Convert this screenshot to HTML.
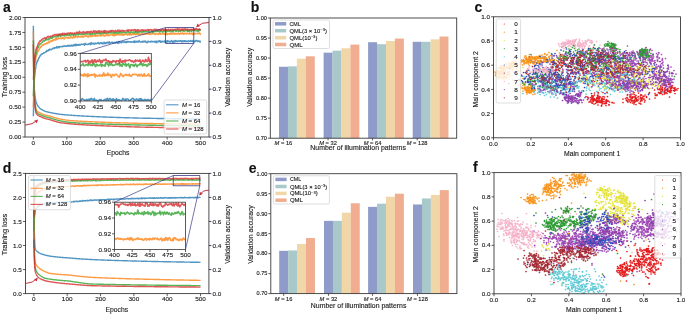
<!DOCTYPE html>
<html><head><meta charset="utf-8"><style>
html,body{margin:0;padding:0;background:#fff;}
body{width:685px;height:314px;overflow:hidden;}
svg{display:block;will-change:transform;font-family:"Liberation Sans", sans-serif;}
text{stroke:#1a1a1a;stroke-width:0.12px;}
</style></head><body>
<svg width="685" height="314" viewBox="0 0 685 314">
<rect width="685" height="314" fill="#fff"/>
<text x="3" y="12.1" font-size="14" font-weight="bold" fill="#111">a</text>
<text x="250.8" y="11.6" font-size="14" font-weight="bold" fill="#111">b</text>
<text x="474.5" y="12.2" font-size="14" font-weight="bold" fill="#111">c</text>
<text x="2.8" y="172.8" font-size="14" font-weight="bold" fill="#111">d</text>
<text x="248.7" y="172.7" font-size="14" font-weight="bold" fill="#111">e</text>
<text x="473" y="172.2" font-size="14" font-weight="bold" fill="#111">f</text>
<g clip-path="url(#clipa)">
<defs><clipPath id="clipa"><rect x="25" y="17.5" width="184" height="119.5"/></clipPath></defs>
<path d="M33.36 25.86 L33.7 65.3 L34.03 79.28 L34.37 89.2 L34.7 93.15 L35.04 96.37 L35.37 98.41 L35.71 100.19 L36.04 101.75 L36.37 102.67 L36.71 103.51 L37.04 104.27 L37.38 104.97 L37.71 105.62 L38.05 106.23 L38.38 106.63 L38.72 107.01 L39.05 107.36 L39.39 107.7 L39.72 108.02 L40.05 108.32 L40.39 108.58 L40.72 108.82 L41.06 109.06 L41.39 109.29 L41.73 109.5 L42.06 109.71 L42.4 109.91 L42.73 110.11 L43.07 110.3 L43.4 110.48 L43.73 110.65 L44.07 110.83 L44.4 110.99 L44.74 111.15 L45.07 111.31 L45.41 111.4 L45.74 111.49 L46.08 111.58 L46.41 111.67 L46.75 111.75 L47.08 111.84 L47.41 111.92 L47.75 112 L48.08 112.07 L48.42 112.15 L48.75 112.22 L49.09 112.29 L49.42 112.37 L49.76 112.43 L50.09 112.5 L50.43 112.58 L50.76 112.65 L51.09 112.72 L51.43 112.8 L51.76 112.86 L52.1 112.93 L52.43 113 L52.77 113.07 L53.1 113.13 L53.44 113.2 L53.77 113.26 L54.11 113.32 L54.44 113.38 L54.77 113.44 L55.11 113.5 L55.44 113.56 L55.78 113.62 L56.11 113.67 L56.45 113.73 L56.78 113.78 L57.12 113.84 L57.45 113.89 L57.79 113.94 L58.12 114 L58.45 114.05 L58.79 114.1 L59.12 114.15 L59.46 114.2 L59.79 114.25 L60.13 114.3 L60.46 114.33 L60.8 114.36 L61.13 114.4 L61.47 114.43 L61.8 114.47 L62.13 114.5 L62.47 114.53 L62.8 114.56 L63.14 114.59 L63.47 114.63 L63.81 114.66 L64.14 114.69 L64.48 114.72 L64.81 114.75 L65.15 114.78 L65.48 114.81 L65.81 114.84 L66.15 114.87 L66.48 114.89 L66.82 114.92 L67.15 114.95 L67.49 114.98 L67.82 115.01 L68.16 115.03 L68.49 115.06 L68.83 115.09 L69.16 115.11 L69.49 115.14 L69.83 115.17 L70.16 115.19 L70.5 115.22 L70.83 115.24 L71.17 115.26 L71.5 115.29 L71.84 115.31 L72.17 115.34 L72.51 115.36 L72.84 115.38 L73.17 115.41 L73.51 115.43 L73.84 115.45 L74.18 115.48 L74.51 115.5 L74.85 115.52 L75.18 115.54 L75.52 115.56 L75.85 115.59 L76.19 115.61 L76.52 115.63 L76.85 115.65 L77.19 115.67 L77.52 115.69 L77.86 115.71 L78.19 115.73 L78.53 115.75 L78.86 115.77 L79.2 115.79 L79.53 115.81 L79.87 115.83 L80.2 115.85 L80.53 115.87 L80.87 115.89 L81.2 115.91 L81.54 115.93 L81.87 115.95 L82.21 115.97 L82.54 115.99 L82.88 116.01 L83.21 116.02 L83.55 116.04 L83.88 116.06 L84.21 116.08 L84.55 116.1 L84.88 116.11 L85.22 116.13 L85.55 116.15 L85.89 116.17 L86.22 116.18 L86.56 116.2 L86.89 116.22 L87.23 116.24 L87.56 116.25 L87.89 116.27 L88.23 116.29 L88.56 116.3 L88.9 116.32 L89.23 116.34 L89.57 116.35 L89.9 116.37 L90.24 116.39 L90.57 116.4 L90.91 116.42 L91.24 116.43 L91.57 116.45 L91.91 116.47 L92.24 116.48 L92.58 116.5 L92.91 116.51 L93.25 116.53 L93.58 116.54 L93.92 116.56 L94.25 116.57 L94.59 116.59 L94.92 116.6 L95.25 116.62 L95.59 116.63 L95.92 116.65 L96.26 116.66 L96.59 116.68 L96.93 116.69 L97.26 116.71 L97.6 116.72 L97.93 116.74 L98.27 116.75 L98.6 116.76 L98.93 116.78 L99.27 116.79 L99.6 116.81 L99.94 116.82 L100.27 116.83 L100.61 116.85 L100.94 116.86 L101.28 116.87 L101.61 116.89 L101.95 116.9 L102.28 116.91 L102.61 116.93 L102.95 116.94 L103.28 116.95 L103.62 116.97 L103.95 116.98 L104.29 116.99 L104.62 117.01 L104.96 117.02 L105.29 117.03 L105.63 117.04 L105.96 117.06 L106.29 117.07 L106.63 117.08 L106.96 117.1 L107.3 117.11 L107.63 117.12 L107.97 117.13 L108.3 117.15 L108.64 117.16 L108.97 117.17 L109.31 117.18 L109.64 117.19 L109.97 117.21 L110.31 117.22 L110.64 117.23 L110.98 117.24 L111.31 117.25 L111.65 117.27 L111.98 117.28 L112.32 117.29 L112.65 117.3 L112.99 117.31 L113.32 117.32 L113.65 117.34 L113.99 117.35 L114.32 117.36 L114.66 117.37 L114.99 117.38 L115.33 117.39 L115.66 117.4 L116 117.41 L116.33 117.43 L116.67 117.44 L117 117.45 L117.33 117.46 L117.67 117.47 L118 117.48 L118.34 117.49 L118.67 117.5 L119.01 117.51 L119.34 117.52 L119.68 117.53 L120.01 117.54 L120.35 117.56 L120.68 117.57 L121.01 117.58 L121.35 117.59 L121.68 117.6 L122.02 117.61 L122.35 117.62 L122.69 117.63 L123.02 117.64 L123.36 117.65 L123.69 117.66 L124.03 117.67 L124.36 117.68 L124.69 117.69 L125.03 117.7 L125.36 117.71 L125.7 117.72 L126.03 117.73 L126.37 117.74 L126.7 117.75 L127.04 117.76 L127.37 117.77 L127.71 117.78 L128.04 117.79 L128.37 117.8 L128.71 117.81 L129.04 117.82 L129.38 117.83 L129.71 117.84 L130.05 117.85 L130.38 117.86 L130.72 117.87 L131.05 117.88 L131.39 117.88 L131.72 117.89 L132.05 117.9 L132.39 117.91 L132.72 117.92 L133.06 117.93 L133.39 117.94 L133.73 117.95 L134.06 117.96 L134.4 117.97 L134.73 117.98 L135.07 117.99 L135.4 118 L135.73 118 L136.07 118.01 L136.4 118.02 L136.74 118.03 L137.07 118.04 L137.41 118.05 L137.74 118.06 L138.08 118.07 L138.41 118.08 L138.75 118.08 L139.08 118.09 L139.41 118.1 L139.75 118.11 L140.08 118.12 L140.42 118.13 L140.75 118.13 L141.09 118.14 L141.42 118.15 L141.76 118.15 L142.09 118.16 L142.43 118.17 L142.76 118.17 L143.09 118.18 L143.43 118.18 L143.76 118.19 L144.1 118.2 L144.43 118.2 L144.77 118.21 L145.1 118.22 L145.44 118.22 L145.77 118.23 L146.11 118.24 L146.44 118.24 L146.77 118.25 L147.11 118.25 L147.44 118.26 L147.78 118.27 L148.11 118.27 L148.45 118.28 L148.78 118.29 L149.12 118.29 L149.45 118.3 L149.79 118.3 L150.12 118.31 L150.45 118.32 L150.79 118.32 L151.12 118.33 L151.46 118.33 L151.79 118.34 L152.13 118.35 L152.46 118.35 L152.8 118.36 L153.13 118.36 L153.47 118.37 L153.8 118.38 L154.13 118.38 L154.47 118.39 L154.8 118.39 L155.14 118.4 L155.47 118.41 L155.81 118.41 L156.14 118.42 L156.48 118.42 L156.81 118.43 L157.15 118.43 L157.48 118.44 L157.81 118.45 L158.15 118.45 L158.48 118.46 L158.82 118.46 L159.15 118.47 L159.49 118.47 L159.82 118.48 L160.16 118.49 L160.49 118.49 L160.83 118.5 L161.16 118.5 L161.49 118.51 L161.83 118.51 L162.16 118.52 L162.5 118.52 L162.83 118.53 L163.17 118.54 L163.5 118.54 L163.84 118.55 L164.17 118.55 L164.51 118.56 L164.84 118.56 L165.17 118.57 L165.51 118.57 L165.84 118.58 L166.18 118.58 L166.51 118.59 L166.85 118.59 L167.18 118.6 L167.52 118.61 L167.85 118.61 L168.19 118.62 L168.52 118.62 L168.85 118.63 L169.19 118.63 L169.52 118.64 L169.86 118.64 L170.19 118.65 L170.53 118.65 L170.86 118.66 L171.2 118.66 L171.53 118.67 L171.87 118.67 L172.2 118.68 L172.53 118.68 L172.87 118.69 L173.2 118.69 L173.54 118.7 L173.87 118.7 L174.21 118.71 L174.54 118.71 L174.88 118.72 L175.21 118.72 L175.55 118.73 L175.88 118.73 L176.21 118.74 L176.55 118.74 L176.88 118.75 L177.22 118.75 L177.55 118.76 L177.89 118.76 L178.22 118.77 L178.56 118.77 L178.89 118.78 L179.23 118.78 L179.56 118.79 L179.89 118.79 L180.23 118.8 L180.56 118.8 L180.9 118.81 L181.23 118.81 L181.57 118.82 L181.9 118.82 L182.24 118.83 L182.57 118.83 L182.91 118.84 L183.24 118.84 L183.57 118.85 L183.91 118.85 L184.24 118.86 L184.58 118.86 L184.91 118.86 L185.25 118.87 L185.58 118.87 L185.92 118.88 L186.25 118.88 L186.59 118.89 L186.92 118.89 L187.25 118.9 L187.59 118.9 L187.92 118.91 L188.26 118.91 L188.59 118.92 L188.93 118.92 L189.26 118.93 L189.6 118.93 L189.93 118.93 L190.27 118.94 L190.6 118.94 L190.93 118.95 L191.27 118.95 L191.6 118.96 L191.94 118.96 L192.27 118.97 L192.61 118.97 L192.94 118.97 L193.28 118.98 L193.61 118.98 L193.95 118.99 L194.28 118.99 L194.61 119 L194.95 119 L195.28 119.01 L195.62 119.01 L195.95 119.01 L196.29 119.02 L196.62 119.02 L196.96 119.03 L197.29 119.03 L197.63 119.04 L197.96 119.04 L198.29 119.04 L198.63 119.05 L198.96 119.05 L199.3 119.06 L199.63 119.06 L199.97 119.07 L200.3 119.07 L200.64 119.08" fill="none" stroke="#1f77b4" stroke-width="1.4" stroke-opacity="0.78" stroke-linejoin="round" />
<path d="M33.36 31.24 L33.7 71.27 L34.03 84.56 L34.37 93.98 L34.7 98.58 L35.04 102.34 L35.37 105.07 L35.71 107.43 L36.04 109.52 L36.37 110.01 L36.71 110.45 L37.04 110.86 L37.38 111.24 L37.71 111.58 L38.05 111.91 L38.38 112.08 L38.72 112.24 L39.05 112.39 L39.39 112.53 L39.72 112.67 L40.05 112.8 L40.39 113 L40.72 113.18 L41.06 113.36 L41.39 113.54 L41.73 113.7 L42.06 113.86 L42.4 114.01 L42.73 114.16 L43.07 114.3 L43.4 114.44 L43.73 114.58 L44.07 114.71 L44.4 114.83 L44.74 114.95 L45.07 115.07 L45.41 115.15 L45.74 115.23 L46.08 115.31 L46.41 115.38 L46.75 115.45 L47.08 115.52 L47.41 115.59 L47.75 115.66 L48.08 115.72 L48.42 115.79 L48.75 115.85 L49.09 115.91 L49.42 115.97 L49.76 116.03 L50.09 116.09 L50.43 116.21 L50.76 116.34 L51.09 116.46 L51.43 116.58 L51.76 116.69 L52.1 116.81 L52.43 116.92 L52.77 117.03 L53.1 117.14 L53.44 117.24 L53.77 117.35 L54.11 117.45 L54.44 117.55 L54.77 117.65 L55.11 117.75 L55.44 117.85 L55.78 117.95 L56.11 118.04 L56.45 118.13 L56.78 118.22 L57.12 118.31 L57.45 118.4 L57.79 118.49 L58.12 118.58 L58.45 118.66 L58.79 118.75 L59.12 118.83 L59.46 118.91 L59.79 118.99 L60.13 119.08 L60.46 119.13 L60.8 119.19 L61.13 119.25 L61.47 119.3 L61.8 119.36 L62.13 119.41 L62.47 119.47 L62.8 119.52 L63.14 119.57 L63.47 119.63 L63.81 119.68 L64.14 119.73 L64.48 119.78 L64.81 119.83 L65.15 119.88 L65.48 119.93 L65.81 119.98 L66.15 120.03 L66.48 120.07 L66.82 120.12 L67.15 120.17 L67.49 120.21 L67.82 120.26 L68.16 120.31 L68.49 120.35 L68.83 120.39 L69.16 120.44 L69.49 120.48 L69.83 120.53 L70.16 120.57 L70.5 120.59 L70.83 120.62 L71.17 120.64 L71.5 120.66 L71.84 120.69 L72.17 120.71 L72.51 120.73 L72.84 120.75 L73.17 120.78 L73.51 120.8 L73.84 120.82 L74.18 120.84 L74.51 120.86 L74.85 120.88 L75.18 120.9 L75.52 120.93 L75.85 120.95 L76.19 120.97 L76.52 120.99 L76.85 121.01 L77.19 121.03 L77.52 121.05 L77.86 121.07 L78.19 121.09 L78.53 121.11 L78.86 121.13 L79.2 121.15 L79.53 121.17 L79.87 121.18 L80.2 121.2 L80.53 121.22 L80.87 121.24 L81.2 121.26 L81.54 121.28 L81.87 121.3 L82.21 121.31 L82.54 121.33 L82.88 121.35 L83.21 121.37 L83.55 121.38 L83.88 121.4 L84.21 121.42 L84.55 121.44 L84.88 121.45 L85.22 121.47 L85.55 121.49 L85.89 121.51 L86.22 121.52 L86.56 121.54 L86.89 121.56 L87.23 121.57 L87.56 121.59 L87.89 121.6 L88.23 121.62 L88.56 121.64 L88.9 121.65 L89.23 121.67 L89.57 121.68 L89.9 121.7 L90.24 121.71 L90.57 121.73 L90.91 121.75 L91.24 121.76 L91.57 121.78 L91.91 121.79 L92.24 121.81 L92.58 121.82 L92.91 121.84 L93.25 121.85 L93.58 121.87 L93.92 121.88 L94.25 121.89 L94.59 121.91 L94.92 121.92 L95.25 121.94 L95.59 121.95 L95.92 121.97 L96.26 121.98 L96.59 121.99 L96.93 122.01 L97.26 122.02 L97.6 122.04 L97.93 122.05 L98.27 122.06 L98.6 122.08 L98.93 122.09 L99.27 122.1 L99.6 122.12 L99.94 122.13 L100.27 122.14 L100.61 122.16 L100.94 122.17 L101.28 122.18 L101.61 122.2 L101.95 122.21 L102.28 122.22 L102.61 122.23 L102.95 122.25 L103.28 122.26 L103.62 122.27 L103.95 122.28 L104.29 122.3 L104.62 122.31 L104.96 122.32 L105.29 122.33 L105.63 122.35 L105.96 122.36 L106.29 122.37 L106.63 122.38 L106.96 122.4 L107.3 122.41 L107.63 122.42 L107.97 122.43 L108.3 122.44 L108.64 122.45 L108.97 122.47 L109.31 122.48 L109.64 122.49 L109.97 122.5 L110.31 122.51 L110.64 122.52 L110.98 122.54 L111.31 122.55 L111.65 122.56 L111.98 122.57 L112.32 122.58 L112.65 122.59 L112.99 122.6 L113.32 122.61 L113.65 122.63 L113.99 122.64 L114.32 122.65 L114.66 122.66 L114.99 122.67 L115.33 122.68 L115.66 122.69 L116 122.7 L116.33 122.71 L116.67 122.72 L117 122.73 L117.33 122.74 L117.67 122.75 L118 122.76 L118.34 122.77 L118.67 122.79 L119.01 122.8 L119.34 122.81 L119.68 122.82 L120.01 122.83 L120.35 122.84 L120.68 122.85 L121.01 122.86 L121.35 122.87 L121.68 122.88 L122.02 122.89 L122.35 122.9 L122.69 122.91 L123.02 122.92 L123.36 122.93 L123.69 122.94 L124.03 122.95 L124.36 122.96 L124.69 122.97 L125.03 122.98 L125.36 122.98 L125.7 122.99 L126.03 123 L126.37 123.01 L126.7 123.02 L127.04 123.03 L127.37 123.04 L127.71 123.05 L128.04 123.06 L128.37 123.07 L128.71 123.08 L129.04 123.09 L129.38 123.1 L129.71 123.11 L130.05 123.12 L130.38 123.13 L130.72 123.13 L131.05 123.14 L131.39 123.15 L131.72 123.16 L132.05 123.17 L132.39 123.18 L132.72 123.19 L133.06 123.2 L133.39 123.21 L133.73 123.21 L134.06 123.22 L134.4 123.23 L134.73 123.24 L135.07 123.25 L135.4 123.26 L135.73 123.27 L136.07 123.28 L136.4 123.28 L136.74 123.29 L137.07 123.3 L137.41 123.31 L137.74 123.32 L138.08 123.33 L138.41 123.34 L138.75 123.34 L139.08 123.35 L139.41 123.36 L139.75 123.37 L140.08 123.38 L140.42 123.38 L140.75 123.39 L141.09 123.39 L141.42 123.4 L141.76 123.4 L142.09 123.41 L142.43 123.41 L142.76 123.42 L143.09 123.43 L143.43 123.43 L143.76 123.44 L144.1 123.44 L144.43 123.45 L144.77 123.45 L145.1 123.46 L145.44 123.46 L145.77 123.47 L146.11 123.47 L146.44 123.48 L146.77 123.48 L147.11 123.49 L147.44 123.49 L147.78 123.5 L148.11 123.5 L148.45 123.51 L148.78 123.51 L149.12 123.52 L149.45 123.52 L149.79 123.53 L150.12 123.53 L150.45 123.54 L150.79 123.54 L151.12 123.55 L151.46 123.55 L151.79 123.56 L152.13 123.56 L152.46 123.57 L152.8 123.57 L153.13 123.58 L153.47 123.58 L153.8 123.59 L154.13 123.59 L154.47 123.6 L154.8 123.6 L155.14 123.6 L155.47 123.61 L155.81 123.61 L156.14 123.62 L156.48 123.62 L156.81 123.63 L157.15 123.63 L157.48 123.64 L157.81 123.64 L158.15 123.65 L158.48 123.65 L158.82 123.66 L159.15 123.66 L159.49 123.67 L159.82 123.67 L160.16 123.67 L160.49 123.68 L160.83 123.68 L161.16 123.69 L161.49 123.69 L161.83 123.7 L162.16 123.7 L162.5 123.71 L162.83 123.71 L163.17 123.72 L163.5 123.72 L163.84 123.72 L164.17 123.73 L164.51 123.73 L164.84 123.74 L165.17 123.74 L165.51 123.75 L165.84 123.75 L166.18 123.75 L166.51 123.76 L166.85 123.76 L167.18 123.77 L167.52 123.77 L167.85 123.78 L168.19 123.78 L168.52 123.79 L168.85 123.79 L169.19 123.79 L169.52 123.8 L169.86 123.8 L170.19 123.81 L170.53 123.81 L170.86 123.81 L171.2 123.82 L171.53 123.82 L171.87 123.83 L172.2 123.83 L172.53 123.84 L172.87 123.84 L173.2 123.84 L173.54 123.85 L173.87 123.85 L174.21 123.86 L174.54 123.86 L174.88 123.86 L175.21 123.87 L175.55 123.87 L175.88 123.88 L176.21 123.88 L176.55 123.88 L176.88 123.89 L177.22 123.89 L177.55 123.9 L177.89 123.9 L178.22 123.9 L178.56 123.91 L178.89 123.91 L179.23 123.92 L179.56 123.92 L179.89 123.92 L180.23 123.93 L180.56 123.93 L180.9 123.94 L181.23 123.94 L181.57 123.94 L181.9 123.95 L182.24 123.95 L182.57 123.96 L182.91 123.96 L183.24 123.96 L183.57 123.97 L183.91 123.97 L184.24 123.98 L184.58 123.98 L184.91 123.98 L185.25 123.99 L185.58 123.99 L185.92 123.99 L186.25 124 L186.59 124 L186.92 124.01 L187.25 124.01 L187.59 124.01 L187.92 124.02 L188.26 124.02 L188.59 124.02 L188.93 124.03 L189.26 124.03 L189.6 124.04 L189.93 124.04 L190.27 124.04 L190.6 124.05 L190.93 124.05 L191.27 124.05 L191.6 124.06 L191.94 124.06 L192.27 124.07 L192.61 124.07 L192.94 124.07 L193.28 124.08 L193.61 124.08 L193.95 124.08 L194.28 124.09 L194.61 124.09 L194.95 124.09 L195.28 124.1 L195.62 124.1 L195.95 124.1 L196.29 124.11 L196.62 124.11 L196.96 124.12 L197.29 124.12 L197.63 124.12 L197.96 124.13 L198.29 124.13 L198.63 124.13 L198.96 124.14 L199.3 124.14 L199.63 124.14 L199.97 124.15 L200.3 124.15 L200.64 124.15" fill="none" stroke="#ff7f0e" stroke-width="1.4" stroke-opacity="0.78" stroke-linejoin="round" />
<path d="M33.36 40.2 L33.7 77.25 L34.03 89.13 L34.37 97.56 L34.7 101.51 L35.04 104.73 L35.37 107.23 L35.71 109.4 L36.04 111.31 L36.37 111.8 L36.71 112.25 L37.04 112.65 L37.38 113.03 L37.71 113.37 L38.05 113.7 L38.38 113.87 L38.72 114.03 L39.05 114.18 L39.39 114.33 L39.72 114.46 L40.05 114.59 L40.39 114.77 L40.72 114.95 L41.06 115.11 L41.39 115.27 L41.73 115.42 L42.06 115.57 L42.4 115.71 L42.73 115.85 L43.07 115.98 L43.4 116.1 L43.73 116.23 L44.07 116.35 L44.4 116.46 L44.74 116.58 L45.07 116.69 L45.41 116.78 L45.74 116.87 L46.08 116.96 L46.41 117.05 L46.75 117.13 L47.08 117.21 L47.41 117.29 L47.75 117.37 L48.08 117.45 L48.42 117.53 L48.75 117.6 L49.09 117.67 L49.42 117.74 L49.76 117.81 L50.09 117.88 L50.43 118.01 L50.76 118.13 L51.09 118.25 L51.43 118.37 L51.76 118.48 L52.1 118.6 L52.43 118.71 L52.77 118.82 L53.1 118.93 L53.44 119.04 L53.77 119.14 L54.11 119.24 L54.44 119.35 L54.77 119.45 L55.11 119.54 L55.44 119.64 L55.78 119.74 L56.11 119.83 L56.45 119.92 L56.78 120.02 L57.12 120.11 L57.45 120.2 L57.79 120.28 L58.12 120.37 L58.45 120.46 L58.79 120.54 L59.12 120.62 L59.46 120.71 L59.79 120.79 L60.13 120.87 L60.46 120.93 L60.8 120.99 L61.13 121.05 L61.47 121.11 L61.8 121.17 L62.13 121.23 L62.47 121.29 L62.8 121.35 L63.14 121.41 L63.47 121.46 L63.81 121.52 L64.14 121.57 L64.48 121.63 L64.81 121.68 L65.15 121.74 L65.48 121.79 L65.81 121.84 L66.15 121.89 L66.48 121.95 L66.82 122 L67.15 122.05 L67.49 122.1 L67.82 122.15 L68.16 122.2 L68.49 122.24 L68.83 122.29 L69.16 122.34 L69.49 122.39 L69.83 122.43 L70.16 122.48 L70.5 122.5 L70.83 122.52 L71.17 122.55 L71.5 122.57 L71.84 122.59 L72.17 122.61 L72.51 122.63 L72.84 122.65 L73.17 122.67 L73.51 122.69 L73.84 122.71 L74.18 122.73 L74.51 122.75 L74.85 122.77 L75.18 122.79 L75.52 122.81 L75.85 122.83 L76.19 122.85 L76.52 122.86 L76.85 122.88 L77.19 122.9 L77.52 122.92 L77.86 122.94 L78.19 122.96 L78.53 122.97 L78.86 122.99 L79.2 123.01 L79.53 123.03 L79.87 123.04 L80.2 123.06 L80.53 123.08 L80.87 123.1 L81.2 123.11 L81.54 123.13 L81.87 123.15 L82.21 123.16 L82.54 123.18 L82.88 123.2 L83.21 123.21 L83.55 123.23 L83.88 123.24 L84.21 123.26 L84.55 123.28 L84.88 123.29 L85.22 123.31 L85.55 123.32 L85.89 123.34 L86.22 123.35 L86.56 123.37 L86.89 123.38 L87.23 123.4 L87.56 123.41 L87.89 123.43 L88.23 123.44 L88.56 123.46 L88.9 123.47 L89.23 123.49 L89.57 123.5 L89.9 123.52 L90.24 123.53 L90.57 123.54 L90.91 123.56 L91.24 123.57 L91.57 123.59 L91.91 123.6 L92.24 123.61 L92.58 123.63 L92.91 123.64 L93.25 123.65 L93.58 123.67 L93.92 123.68 L94.25 123.69 L94.59 123.71 L94.92 123.72 L95.25 123.73 L95.59 123.75 L95.92 123.76 L96.26 123.77 L96.59 123.79 L96.93 123.8 L97.26 123.81 L97.6 123.82 L97.93 123.84 L98.27 123.85 L98.6 123.86 L98.93 123.87 L99.27 123.89 L99.6 123.9 L99.94 123.91 L100.27 123.92 L100.61 123.93 L100.94 123.95 L101.28 123.96 L101.61 123.97 L101.95 123.98 L102.28 123.99 L102.61 124 L102.95 124.02 L103.28 124.03 L103.62 124.04 L103.95 124.05 L104.29 124.06 L104.62 124.07 L104.96 124.08 L105.29 124.1 L105.63 124.11 L105.96 124.12 L106.29 124.13 L106.63 124.14 L106.96 124.15 L107.3 124.16 L107.63 124.17 L107.97 124.18 L108.3 124.2 L108.64 124.21 L108.97 124.22 L109.31 124.23 L109.64 124.24 L109.97 124.25 L110.31 124.26 L110.64 124.27 L110.98 124.28 L111.31 124.29 L111.65 124.3 L111.98 124.31 L112.32 124.32 L112.65 124.33 L112.99 124.34 L113.32 124.35 L113.65 124.36 L113.99 124.37 L114.32 124.38 L114.66 124.39 L114.99 124.4 L115.33 124.41 L115.66 124.42 L116 124.43 L116.33 124.44 L116.67 124.45 L117 124.46 L117.33 124.47 L117.67 124.48 L118 124.49 L118.34 124.5 L118.67 124.51 L119.01 124.52 L119.34 124.53 L119.68 124.54 L120.01 124.55 L120.35 124.56 L120.68 124.56 L121.01 124.57 L121.35 124.58 L121.68 124.59 L122.02 124.6 L122.35 124.61 L122.69 124.62 L123.02 124.63 L123.36 124.64 L123.69 124.65 L124.03 124.66 L124.36 124.66 L124.69 124.67 L125.03 124.68 L125.36 124.69 L125.7 124.7 L126.03 124.71 L126.37 124.72 L126.7 124.73 L127.04 124.73 L127.37 124.74 L127.71 124.75 L128.04 124.76 L128.37 124.77 L128.71 124.78 L129.04 124.79 L129.38 124.79 L129.71 124.8 L130.05 124.81 L130.38 124.82 L130.72 124.83 L131.05 124.84 L131.39 124.84 L131.72 124.85 L132.05 124.86 L132.39 124.87 L132.72 124.88 L133.06 124.89 L133.39 124.89 L133.73 124.9 L134.06 124.91 L134.4 124.92 L134.73 124.93 L135.07 124.93 L135.4 124.94 L135.73 124.95 L136.07 124.96 L136.4 124.97 L136.74 124.97 L137.07 124.98 L137.41 124.99 L137.74 125 L138.08 125 L138.41 125.01 L138.75 125.02 L139.08 125.03 L139.41 125.03 L139.75 125.04 L140.08 125.05 L140.42 125.06 L140.75 125.06 L141.09 125.07 L141.42 125.07 L141.76 125.08 L142.09 125.09 L142.43 125.09 L142.76 125.1 L143.09 125.11 L143.43 125.11 L143.76 125.12 L144.1 125.12 L144.43 125.13 L144.77 125.14 L145.1 125.14 L145.44 125.15 L145.77 125.15 L146.11 125.16 L146.44 125.17 L146.77 125.17 L147.11 125.18 L147.44 125.18 L147.78 125.19 L148.11 125.19 L148.45 125.2 L148.78 125.21 L149.12 125.21 L149.45 125.22 L149.79 125.22 L150.12 125.23 L150.45 125.23 L150.79 125.24 L151.12 125.25 L151.46 125.25 L151.79 125.26 L152.13 125.26 L152.46 125.27 L152.8 125.27 L153.13 125.28 L153.47 125.29 L153.8 125.29 L154.13 125.3 L154.47 125.3 L154.8 125.31 L155.14 125.31 L155.47 125.32 L155.81 125.32 L156.14 125.33 L156.48 125.33 L156.81 125.34 L157.15 125.35 L157.48 125.35 L157.81 125.36 L158.15 125.36 L158.48 125.37 L158.82 125.37 L159.15 125.38 L159.49 125.38 L159.82 125.39 L160.16 125.39 L160.49 125.4 L160.83 125.4 L161.16 125.41 L161.49 125.41 L161.83 125.42 L162.16 125.42 L162.5 125.43 L162.83 125.44 L163.17 125.44 L163.5 125.45 L163.84 125.45 L164.17 125.46 L164.51 125.46 L164.84 125.47 L165.17 125.47 L165.51 125.48 L165.84 125.48 L166.18 125.49 L166.51 125.49 L166.85 125.5 L167.18 125.5 L167.52 125.51 L167.85 125.51 L168.19 125.52 L168.52 125.52 L168.85 125.53 L169.19 125.53 L169.52 125.54 L169.86 125.54 L170.19 125.55 L170.53 125.55 L170.86 125.56 L171.2 125.56 L171.53 125.56 L171.87 125.57 L172.2 125.57 L172.53 125.58 L172.87 125.58 L173.2 125.59 L173.54 125.59 L173.87 125.6 L174.21 125.6 L174.54 125.61 L174.88 125.61 L175.21 125.62 L175.55 125.62 L175.88 125.63 L176.21 125.63 L176.55 125.64 L176.88 125.64 L177.22 125.65 L177.55 125.65 L177.89 125.65 L178.22 125.66 L178.56 125.66 L178.89 125.67 L179.23 125.67 L179.56 125.68 L179.89 125.68 L180.23 125.69 L180.56 125.69 L180.9 125.7 L181.23 125.7 L181.57 125.7 L181.9 125.71 L182.24 125.71 L182.57 125.72 L182.91 125.72 L183.24 125.73 L183.57 125.73 L183.91 125.74 L184.24 125.74 L184.58 125.74 L184.91 125.75 L185.25 125.75 L185.58 125.76 L185.92 125.76 L186.25 125.77 L186.59 125.77 L186.92 125.78 L187.25 125.78 L187.59 125.78 L187.92 125.79 L188.26 125.79 L188.59 125.8 L188.93 125.8 L189.26 125.81 L189.6 125.81 L189.93 125.81 L190.27 125.82 L190.6 125.82 L190.93 125.83 L191.27 125.83 L191.6 125.84 L191.94 125.84 L192.27 125.84 L192.61 125.85 L192.94 125.85 L193.28 125.86 L193.61 125.86 L193.95 125.86 L194.28 125.87 L194.61 125.87 L194.95 125.88 L195.28 125.88 L195.62 125.89 L195.95 125.89 L196.29 125.89 L196.62 125.9 L196.96 125.9 L197.29 125.91 L197.63 125.91 L197.96 125.91 L198.29 125.92 L198.63 125.92 L198.96 125.93 L199.3 125.93 L199.63 125.93 L199.97 125.94 L200.3 125.94 L200.64 125.95" fill="none" stroke="#2ca02c" stroke-width="1.4" stroke-opacity="0.78" stroke-linejoin="round" />
<path d="M33.36 44.39 L33.7 80.24 L34.03 91.77 L34.37 99.95 L34.7 103.9 L35.04 107.12 L35.37 109.4 L35.71 111.36 L36.04 113.1 L36.37 113.59 L36.71 114.04 L37.04 114.45 L37.38 114.82 L37.71 115.17 L38.05 115.49 L38.38 115.66 L38.72 115.82 L39.05 115.98 L39.39 116.12 L39.72 116.26 L40.05 116.39 L40.39 116.57 L40.72 116.74 L41.06 116.9 L41.39 117.06 L41.73 117.21 L42.06 117.36 L42.4 117.5 L42.73 117.64 L43.07 117.77 L43.4 117.9 L43.73 118.02 L44.07 118.14 L44.4 118.26 L44.74 118.37 L45.07 118.48 L45.41 118.57 L45.74 118.66 L46.08 118.75 L46.41 118.84 L46.75 118.92 L47.08 119.01 L47.41 119.09 L47.75 119.17 L48.08 119.24 L48.42 119.32 L48.75 119.39 L49.09 119.46 L49.42 119.54 L49.76 119.6 L50.09 119.67 L50.43 119.8 L50.76 119.92 L51.09 120.04 L51.43 120.16 L51.76 120.28 L52.1 120.39 L52.43 120.5 L52.77 120.61 L53.1 120.72 L53.44 120.83 L53.77 120.93 L54.11 121.04 L54.44 121.14 L54.77 121.24 L55.11 121.34 L55.44 121.43 L55.78 121.53 L56.11 121.62 L56.45 121.72 L56.78 121.81 L57.12 121.9 L57.45 121.99 L57.79 122.08 L58.12 122.16 L58.45 122.25 L58.79 122.33 L59.12 122.42 L59.46 122.5 L59.79 122.58 L60.13 122.66 L60.46 122.71 L60.8 122.75 L61.13 122.8 L61.47 122.84 L61.8 122.89 L62.13 122.93 L62.47 122.97 L62.8 123.02 L63.14 123.06 L63.47 123.1 L63.81 123.14 L64.14 123.18 L64.48 123.22 L64.81 123.26 L65.15 123.3 L65.48 123.34 L65.81 123.38 L66.15 123.42 L66.48 123.46 L66.82 123.5 L67.15 123.53 L67.49 123.57 L67.82 123.61 L68.16 123.64 L68.49 123.68 L68.83 123.72 L69.16 123.75 L69.49 123.79 L69.83 123.82 L70.16 123.86 L70.5 123.88 L70.83 123.91 L71.17 123.94 L71.5 123.96 L71.84 123.99 L72.17 124.02 L72.51 124.04 L72.84 124.07 L73.17 124.09 L73.51 124.12 L73.84 124.14 L74.18 124.17 L74.51 124.19 L74.85 124.22 L75.18 124.24 L75.52 124.27 L75.85 124.29 L76.19 124.31 L76.52 124.34 L76.85 124.36 L77.19 124.38 L77.52 124.41 L77.86 124.43 L78.19 124.45 L78.53 124.47 L78.86 124.5 L79.2 124.52 L79.53 124.54 L79.87 124.56 L80.2 124.58 L80.53 124.61 L80.87 124.63 L81.2 124.65 L81.54 124.67 L81.87 124.69 L82.21 124.71 L82.54 124.73 L82.88 124.75 L83.21 124.77 L83.55 124.79 L83.88 124.81 L84.21 124.83 L84.55 124.85 L84.88 124.87 L85.22 124.89 L85.55 124.91 L85.89 124.93 L86.22 124.95 L86.56 124.97 L86.89 124.99 L87.23 125.01 L87.56 125.03 L87.89 125.04 L88.23 125.06 L88.56 125.08 L88.9 125.1 L89.23 125.12 L89.57 125.14 L89.9 125.15 L90.24 125.17 L90.57 125.19 L90.91 125.21 L91.24 125.22 L91.57 125.24 L91.91 125.26 L92.24 125.28 L92.58 125.29 L92.91 125.31 L93.25 125.33 L93.58 125.35 L93.92 125.36 L94.25 125.38 L94.59 125.4 L94.92 125.41 L95.25 125.43 L95.59 125.44 L95.92 125.46 L96.26 125.48 L96.59 125.49 L96.93 125.51 L97.26 125.52 L97.6 125.54 L97.93 125.56 L98.27 125.57 L98.6 125.59 L98.93 125.6 L99.27 125.62 L99.6 125.63 L99.94 125.65 L100.27 125.66 L100.61 125.68 L100.94 125.69 L101.28 125.71 L101.61 125.72 L101.95 125.74 L102.28 125.75 L102.61 125.77 L102.95 125.78 L103.28 125.8 L103.62 125.81 L103.95 125.83 L104.29 125.84 L104.62 125.86 L104.96 125.87 L105.29 125.88 L105.63 125.9 L105.96 125.91 L106.29 125.93 L106.63 125.94 L106.96 125.95 L107.3 125.97 L107.63 125.98 L107.97 125.99 L108.3 126.01 L108.64 126.02 L108.97 126.04 L109.31 126.05 L109.64 126.06 L109.97 126.08 L110.31 126.09 L110.64 126.1 L110.98 126.11 L111.31 126.13 L111.65 126.14 L111.98 126.15 L112.32 126.17 L112.65 126.18 L112.99 126.19 L113.32 126.2 L113.65 126.22 L113.99 126.23 L114.32 126.24 L114.66 126.26 L114.99 126.27 L115.33 126.28 L115.66 126.29 L116 126.3 L116.33 126.32 L116.67 126.33 L117 126.34 L117.33 126.35 L117.67 126.37 L118 126.38 L118.34 126.39 L118.67 126.4 L119.01 126.41 L119.34 126.43 L119.68 126.44 L120.01 126.45 L120.35 126.46 L120.68 126.47 L121.01 126.48 L121.35 126.5 L121.68 126.51 L122.02 126.52 L122.35 126.53 L122.69 126.54 L123.02 126.55 L123.36 126.56 L123.69 126.58 L124.03 126.59 L124.36 126.6 L124.69 126.61 L125.03 126.62 L125.36 126.63 L125.7 126.64 L126.03 126.65 L126.37 126.66 L126.7 126.67 L127.04 126.69 L127.37 126.7 L127.71 126.71 L128.04 126.72 L128.37 126.73 L128.71 126.74 L129.04 126.75 L129.38 126.76 L129.71 126.77 L130.05 126.78 L130.38 126.79 L130.72 126.8 L131.05 126.81 L131.39 126.82 L131.72 126.83 L132.05 126.84 L132.39 126.85 L132.72 126.86 L133.06 126.87 L133.39 126.88 L133.73 126.89 L134.06 126.91 L134.4 126.92 L134.73 126.93 L135.07 126.94 L135.4 126.95 L135.73 126.96 L136.07 126.97 L136.4 126.97 L136.74 126.98 L137.07 126.99 L137.41 127 L137.74 127.01 L138.08 127.02 L138.41 127.03 L138.75 127.04 L139.08 127.05 L139.41 127.06 L139.75 127.07 L140.08 127.08 L140.42 127.09 L140.75 127.09 L141.09 127.1 L141.42 127.11 L141.76 127.11 L142.09 127.12 L142.43 127.13 L142.76 127.13 L143.09 127.14 L143.43 127.15 L143.76 127.15 L144.1 127.16 L144.43 127.17 L144.77 127.17 L145.1 127.18 L145.44 127.19 L145.77 127.19 L146.11 127.2 L146.44 127.2 L146.77 127.21 L147.11 127.22 L147.44 127.22 L147.78 127.23 L148.11 127.24 L148.45 127.24 L148.78 127.25 L149.12 127.25 L149.45 127.26 L149.79 127.27 L150.12 127.27 L150.45 127.28 L150.79 127.28 L151.12 127.29 L151.46 127.3 L151.79 127.3 L152.13 127.31 L152.46 127.31 L152.8 127.32 L153.13 127.33 L153.47 127.33 L153.8 127.34 L154.13 127.34 L154.47 127.35 L154.8 127.36 L155.14 127.36 L155.47 127.37 L155.81 127.37 L156.14 127.38 L156.48 127.39 L156.81 127.39 L157.15 127.4 L157.48 127.4 L157.81 127.41 L158.15 127.41 L158.48 127.42 L158.82 127.43 L159.15 127.43 L159.49 127.44 L159.82 127.44 L160.16 127.45 L160.49 127.45 L160.83 127.46 L161.16 127.46 L161.49 127.47 L161.83 127.48 L162.16 127.48 L162.5 127.49 L162.83 127.49 L163.17 127.5 L163.5 127.5 L163.84 127.51 L164.17 127.51 L164.51 127.52 L164.84 127.53 L165.17 127.53 L165.51 127.54 L165.84 127.54 L166.18 127.55 L166.51 127.55 L166.85 127.56 L167.18 127.56 L167.52 127.57 L167.85 127.57 L168.19 127.58 L168.52 127.58 L168.85 127.59 L169.19 127.59 L169.52 127.6 L169.86 127.6 L170.19 127.61 L170.53 127.62 L170.86 127.62 L171.2 127.63 L171.53 127.63 L171.87 127.64 L172.2 127.64 L172.53 127.65 L172.87 127.65 L173.2 127.66 L173.54 127.66 L173.87 127.67 L174.21 127.67 L174.54 127.68 L174.88 127.68 L175.21 127.69 L175.55 127.69 L175.88 127.7 L176.21 127.7 L176.55 127.71 L176.88 127.71 L177.22 127.72 L177.55 127.72 L177.89 127.73 L178.22 127.73 L178.56 127.74 L178.89 127.74 L179.23 127.75 L179.56 127.75 L179.89 127.76 L180.23 127.76 L180.56 127.77 L180.9 127.77 L181.23 127.78 L181.57 127.78 L181.9 127.78 L182.24 127.79 L182.57 127.79 L182.91 127.8 L183.24 127.8 L183.57 127.81 L183.91 127.81 L184.24 127.82 L184.58 127.82 L184.91 127.83 L185.25 127.83 L185.58 127.84 L185.92 127.84 L186.25 127.85 L186.59 127.85 L186.92 127.86 L187.25 127.86 L187.59 127.86 L187.92 127.87 L188.26 127.87 L188.59 127.88 L188.93 127.88 L189.26 127.89 L189.6 127.89 L189.93 127.9 L190.27 127.9 L190.6 127.91 L190.93 127.91 L191.27 127.91 L191.6 127.92 L191.94 127.92 L192.27 127.93 L192.61 127.93 L192.94 127.94 L193.28 127.94 L193.61 127.95 L193.95 127.95 L194.28 127.96 L194.61 127.96 L194.95 127.96 L195.28 127.97 L195.62 127.97 L195.95 127.98 L196.29 127.98 L196.62 127.99 L196.96 127.99 L197.29 127.99 L197.63 128 L197.96 128 L198.29 128.01 L198.63 128.01 L198.96 128.02 L199.3 128.02 L199.63 128.02 L199.97 128.03 L200.3 128.03 L200.64 128.04" fill="none" stroke="#d62728" stroke-width="1.4" stroke-opacity="0.78" stroke-linejoin="round" />
<path d="M33.36 116.21 L33.7 98.76 L34.03 86.88 L34.37 79.9 L34.7 75.92 L35.04 72.93 L35.37 69.37 L35.71 68.37 L36.04 64.55 L36.37 64.44 L36.71 62.9 L37.04 62.16 L37.38 60.52 L37.71 61.2 L38.05 59.68 L38.38 58.97 L38.72 57.64 L39.05 57.95 L39.39 56.94 L39.72 56.67 L40.05 55.72 L40.39 55.17 L40.72 55.6 L41.06 54.34 L41.39 54.17 L41.73 54.08 L42.06 53.65 L42.4 54.09 L42.73 53.61 L43.07 53.73 L43.4 53.22 L43.73 52.66 L44.07 52.98 L44.4 52.65 L44.74 52.58 L45.07 52.46 L45.41 52.2 L45.74 51.74 L46.08 52.04 L46.41 51.28 L46.75 50.5 L47.08 50.74 L47.41 50.98 L47.75 51.12 L48.08 50.91 L48.42 49.71 L48.75 50.27 L49.09 50.43 L49.42 49.93 L49.76 48.97 L50.09 49.69 L50.43 49.35 L50.76 49.35 L51.09 49.51 L51.43 49.72 L51.76 49.26 L52.1 49.08 L52.43 48.62 L52.77 48.4 L53.1 48.24 L53.44 48.41 L53.77 48.04 L54.11 48.64 L54.44 47.67 L54.77 47.88 L55.11 48.13 L55.44 47.69 L55.78 47.83 L56.11 47.21 L56.45 46.95 L56.78 46.57 L57.12 48.01 L57.45 47.94 L57.79 47.44 L58.12 47.07 L58.45 46.71 L58.79 46.9 L59.12 47.85 L59.46 47.07 L59.79 46.53 L60.13 46.74 L60.46 46.46 L60.8 46.84 L61.13 46.78 L61.47 46.57 L61.8 46.43 L62.13 46.47 L62.47 46.46 L62.8 46.76 L63.14 46.26 L63.47 46.33 L63.81 45.86 L64.14 45.78 L64.48 46.18 L64.81 46.38 L65.15 46.45 L65.48 45.95 L65.81 46.06 L66.15 46.2 L66.48 46 L66.82 46.25 L67.15 45.64 L67.49 46.09 L67.82 45.34 L68.16 45.65 L68.49 45.54 L68.83 46.23 L69.16 45.65 L69.49 45.36 L69.83 46.06 L70.16 45.73 L70.5 45.56 L70.83 46.13 L71.17 45.37 L71.5 45.11 L71.84 45.81 L72.17 45.26 L72.51 45.94 L72.84 45.36 L73.17 46 L73.51 44.79 L73.84 45.07 L74.18 45.22 L74.51 45.51 L74.85 44.6 L75.18 44.27 L75.52 45.89 L75.85 44.53 L76.19 44.33 L76.52 44.85 L76.85 45.48 L77.19 44.57 L77.52 44.99 L77.86 45.14 L78.19 45.38 L78.53 44.59 L78.86 44.45 L79.2 45.03 L79.53 44.51 L79.87 45.2 L80.2 44.34 L80.53 44.63 L80.87 44.71 L81.2 44.64 L81.54 44.2 L81.87 44.22 L82.21 44.29 L82.54 44.43 L82.88 44.43 L83.21 44.18 L83.55 44.32 L83.88 44.1 L84.21 44.5 L84.55 45.39 L84.88 43.87 L85.22 43.35 L85.55 44.07 L85.89 44.28 L86.22 44.27 L86.56 44.24 L86.89 44.16 L87.23 44.62 L87.56 44.34 L87.89 44.52 L88.23 43.96 L88.56 44.17 L88.9 43.81 L89.23 44.08 L89.57 43.55 L89.9 43.86 L90.24 42.99 L90.57 44.72 L90.91 44.16 L91.24 43.48 L91.57 42.75 L91.91 43.93 L92.24 43.78 L92.58 43.87 L92.91 43.18 L93.25 43.86 L93.58 43.42 L93.92 43.83 L94.25 44.22 L94.59 43.51 L94.92 43.41 L95.25 43.05 L95.59 43.63 L95.92 43.83 L96.26 43.3 L96.59 43.42 L96.93 43.38 L97.26 43.51 L97.6 42.96 L97.93 43.28 L98.27 42.6 L98.6 42.92 L98.93 43.1 L99.27 44.06 L99.6 43.08 L99.94 43.14 L100.27 42.95 L100.61 42.83 L100.94 43.44 L101.28 42.89 L101.61 43.47 L101.95 42.37 L102.28 43.76 L102.61 43.93 L102.95 43.86 L103.28 43.52 L103.62 43.6 L103.95 42.25 L104.29 43.22 L104.62 43.64 L104.96 42.56 L105.29 43.28 L105.63 43.54 L105.96 42.61 L106.29 42.7 L106.63 43.14 L106.96 42.33 L107.3 42.86 L107.63 42.2 L107.97 42.67 L108.3 42.19 L108.64 42.8 L108.97 43.36 L109.31 41.76 L109.64 43.03 L109.97 42.86 L110.31 43.06 L110.64 42.83 L110.98 42.62 L111.31 42.63 L111.65 42.41 L111.98 41.91 L112.32 42.71 L112.65 43.18 L112.99 43.14 L113.32 42.9 L113.65 43.32 L113.99 42.23 L114.32 42.78 L114.66 42.68 L114.99 42.53 L115.33 43.12 L115.66 42.87 L116 42.2 L116.33 42.2 L116.67 42.65 L117 41.66 L117.33 42.99 L117.67 42.56 L118 42.49 L118.34 43.58 L118.67 41.53 L119.01 42.19 L119.34 42.78 L119.68 41.44 L120.01 42.05 L120.35 42.1 L120.68 42.53 L121.01 42.21 L121.35 42.9 L121.68 41.89 L122.02 42.37 L122.35 42.14 L122.69 41.67 L123.02 42.05 L123.36 42.04 L123.69 42.02 L124.03 42.44 L124.36 41.75 L124.69 41.43 L125.03 41.76 L125.36 41.69 L125.7 42.43 L126.03 42.42 L126.37 42.65 L126.7 41.48 L127.04 42.11 L127.37 41.38 L127.71 42.31 L128.04 42.15 L128.37 41.9 L128.71 41.54 L129.04 41.89 L129.38 41.81 L129.71 41.88 L130.05 41.8 L130.38 42.35 L130.72 41.83 L131.05 41.94 L131.39 41.88 L131.72 41.64 L132.05 42.14 L132.39 41.88 L132.72 41.97 L133.06 41.66 L133.39 41.5 L133.73 42.24 L134.06 41.57 L134.4 40.93 L134.73 42.45 L135.07 42.17 L135.4 42.19 L135.73 41.92 L136.07 41.1 L136.4 41.79 L136.74 42.09 L137.07 41.52 L137.41 42.04 L137.74 41.29 L138.08 41.64 L138.41 41.17 L138.75 42.05 L139.08 40.46 L139.41 41.4 L139.75 41.47 L140.08 41.77 L140.42 42.06 L140.75 42.11 L141.09 41.8 L141.42 42.08 L141.76 41.61 L142.09 42.08 L142.43 41.45 L142.76 41.31 L143.09 42.02 L143.43 41.2 L143.76 41.81 L144.1 41.2 L144.43 41.51 L144.77 41.21 L145.1 42.12 L145.44 41.73 L145.77 41.06 L146.11 41.94 L146.44 42.55 L146.77 42.51 L147.11 42.74 L147.44 42.57 L147.78 41.83 L148.11 41.1 L148.45 41.84 L148.78 41.51 L149.12 41.69 L149.45 41.64 L149.79 41.71 L150.12 41.71 L150.45 41.43 L150.79 42.13 L151.12 41.19 L151.46 41.22 L151.79 41.7 L152.13 41.26 L152.46 41.91 L152.8 41.83 L153.13 41.53 L153.47 41.68 L153.8 41.78 L154.13 41.88 L154.47 41.82 L154.8 41.18 L155.14 42.41 L155.47 41.42 L155.81 41.67 L156.14 41.25 L156.48 41.34 L156.81 42.76 L157.15 41.3 L157.48 41.41 L157.81 41.54 L158.15 41.75 L158.48 41.17 L158.82 41.72 L159.15 40.74 L159.49 41.29 L159.82 40.61 L160.16 41.86 L160.49 42.28 L160.83 41.21 L161.16 41.15 L161.49 41.49 L161.83 42.17 L162.16 41.7 L162.5 41.23 L162.83 41.58 L163.17 41.54 L163.5 41.56 L163.84 41.89 L164.17 41.71 L164.51 42.09 L164.84 40.72 L165.17 41.68 L165.51 41.26 L165.84 41.91 L166.18 41.12 L166.51 42.27 L166.85 41.06 L167.18 41.47 L167.52 40.54 L167.85 42.01 L168.19 41.41 L168.52 41.28 L168.85 40.91 L169.19 41.62 L169.52 41.39 L169.86 42.35 L170.19 41.78 L170.53 41.23 L170.86 40.94 L171.2 41.54 L171.53 40.53 L171.87 40.65 L172.2 41.43 L172.53 42.44 L172.87 42.16 L173.2 41.73 L173.54 40.91 L173.87 41.26 L174.21 42.29 L174.54 41.48 L174.88 40.69 L175.21 41.54 L175.55 41.7 L175.88 40.49 L176.21 41.34 L176.55 41.57 L176.88 41.21 L177.22 41.35 L177.55 41.54 L177.89 40.83 L178.22 40.87 L178.56 40.98 L178.89 41.39 L179.23 40.85 L179.56 41.36 L179.89 41.13 L180.23 40.89 L180.56 40.98 L180.9 40.56 L181.23 41.13 L181.57 42.04 L181.9 41.82 L182.24 40.73 L182.57 41.45 L182.91 41.14 L183.24 41.67 L183.57 40.87 L183.91 41.46 L184.24 40.67 L184.58 41.52 L184.91 40.81 L185.25 41 L185.58 41.6 L185.92 40.81 L186.25 41.67 L186.59 41.63 L186.92 40.96 L187.25 41.54 L187.59 41.52 L187.92 41.41 L188.26 41.69 L188.59 40.81 L188.93 40.99 L189.26 41.28 L189.6 41.3 L189.93 41.05 L190.27 40.49 L190.6 40.87 L190.93 41.46 L191.27 40.9 L191.6 41.28 L191.94 41.32 L192.27 40.43 L192.61 41.41 L192.94 41.43 L193.28 42.06 L193.61 41.82 L193.95 41.02 L194.28 41.51 L194.61 40.99 L194.95 41.69 L195.28 41.53 L195.62 40.91 L195.95 40.57 L196.29 40.94 L196.62 40.68 L196.96 40.46 L197.29 40.74 L197.63 41.58 L197.96 41.23 L198.29 40.91 L198.63 41.36 L198.96 40.98 L199.3 41.85 L199.63 41.53 L199.97 40.94 L200.3 42.13 L200.64 41.64" fill="none" stroke="#1f77b4" stroke-width="1.4" stroke-opacity="0.78" stroke-linejoin="round" />
<path d="M33.36 107.12 L33.7 89.2 L34.03 78.02 L34.37 70.82 L34.7 66.44 L35.04 63.85 L35.37 61.13 L35.71 58.96 L36.04 56.85 L36.37 56.05 L36.71 54.75 L37.04 54.11 L37.38 52.75 L37.71 51.47 L38.05 51.37 L38.38 50.69 L38.72 50.62 L39.05 49.21 L39.39 49.25 L39.72 48.72 L40.05 47.61 L40.39 47.44 L40.72 46.73 L41.06 46.28 L41.39 46.84 L41.73 46.27 L42.06 45.3 L42.4 45.38 L42.73 45.24 L43.07 44.75 L43.4 45.33 L43.73 44.57 L44.07 44.02 L44.4 43.72 L44.74 44.56 L45.07 44.12 L45.41 43.65 L45.74 43.75 L46.08 43.61 L46.41 42.96 L46.75 43.23 L47.08 43.68 L47.41 42.58 L47.75 42.76 L48.08 42.73 L48.42 42.93 L48.75 41.67 L49.09 42.91 L49.42 42.54 L49.76 41.78 L50.09 40.99 L50.43 40.82 L50.76 41.74 L51.09 41.19 L51.43 41.63 L51.76 40.42 L52.1 41.36 L52.43 40.67 L52.77 40.04 L53.1 40.46 L53.44 39.61 L53.77 40.5 L54.11 39.86 L54.44 39.54 L54.77 39.85 L55.11 39.09 L55.44 39.34 L55.78 40.17 L56.11 37.66 L56.45 38.98 L56.78 39.12 L57.12 39.66 L57.45 38.93 L57.79 39.06 L58.12 38.49 L58.45 38.57 L58.79 37.89 L59.12 38.58 L59.46 38.38 L59.79 38.39 L60.13 38.58 L60.46 38.55 L60.8 37.96 L61.13 38.05 L61.47 38.62 L61.8 38.79 L62.13 38.3 L62.47 37.73 L62.8 38.21 L63.14 37.41 L63.47 38.46 L63.81 38.02 L64.14 39.13 L64.48 38.27 L64.81 38.11 L65.15 37.72 L65.48 37.17 L65.81 37.86 L66.15 37.21 L66.48 37.52 L66.82 37.35 L67.15 37.94 L67.49 37.11 L67.82 38.13 L68.16 37.43 L68.49 38.02 L68.83 37.8 L69.16 38.18 L69.49 37.74 L69.83 37.33 L70.16 37.48 L70.5 38 L70.83 36.76 L71.17 37.22 L71.5 36.9 L71.84 36.97 L72.17 37.56 L72.51 38.09 L72.84 37.61 L73.17 36.67 L73.51 37.62 L73.84 36.79 L74.18 37.37 L74.51 36.91 L74.85 37.84 L75.18 36.53 L75.52 37.02 L75.85 36.6 L76.19 36.87 L76.52 36.58 L76.85 36.94 L77.19 36.55 L77.52 37.5 L77.86 37.29 L78.19 36.49 L78.53 36.79 L78.86 36.85 L79.2 36.8 L79.53 36.48 L79.87 36.93 L80.2 36.43 L80.53 37.02 L80.87 36.78 L81.2 36.16 L81.54 36.1 L81.87 37.01 L82.21 36.15 L82.54 36.94 L82.88 36.15 L83.21 37.26 L83.55 36.9 L83.88 36.62 L84.21 36.45 L84.55 35.74 L84.88 35.94 L85.22 35.63 L85.55 35.77 L85.89 36.39 L86.22 36.36 L86.56 35.77 L86.89 36.19 L87.23 36.25 L87.56 36.74 L87.89 36.19 L88.23 37.32 L88.56 36.3 L88.9 36.5 L89.23 35.77 L89.57 36.25 L89.9 36.16 L90.24 35.42 L90.57 36.44 L90.91 35.83 L91.24 36.76 L91.57 35.89 L91.91 35.73 L92.24 35.52 L92.58 36.26 L92.91 35.71 L93.25 35.69 L93.58 35.82 L93.92 35.73 L94.25 35.58 L94.59 35.59 L94.92 36.17 L95.25 36.24 L95.59 34.63 L95.92 34.86 L96.26 36.27 L96.59 35.46 L96.93 35.36 L97.26 35.29 L97.6 35.54 L97.93 35.98 L98.27 35.64 L98.6 35.76 L98.93 35.47 L99.27 35.63 L99.6 35.55 L99.94 35.04 L100.27 34.93 L100.61 35.95 L100.94 35.63 L101.28 35.75 L101.61 34.87 L101.95 35.4 L102.28 34.74 L102.61 35.55 L102.95 35.32 L103.28 35.89 L103.62 34.74 L103.95 35.44 L104.29 35.91 L104.62 35.51 L104.96 36.23 L105.29 35.23 L105.63 35.16 L105.96 35.06 L106.29 34.53 L106.63 35.29 L106.96 34.79 L107.3 34.99 L107.63 35.2 L107.97 35.99 L108.3 34.67 L108.64 35.28 L108.97 35.04 L109.31 35.58 L109.64 34.9 L109.97 34.96 L110.31 34.98 L110.64 35.04 L110.98 34.51 L111.31 34.53 L111.65 34.62 L111.98 33.49 L112.32 35.17 L112.65 35.06 L112.99 35.32 L113.32 34.68 L113.65 35.15 L113.99 36 L114.32 35.35 L114.66 34.78 L114.99 34.36 L115.33 35.45 L115.66 35.03 L116 34.82 L116.33 35.06 L116.67 34.5 L117 34.71 L117.33 34.56 L117.67 35 L118 34.01 L118.34 34.66 L118.67 34.09 L119.01 34.82 L119.34 34.37 L119.68 34.9 L120.01 35.01 L120.35 34.89 L120.68 34.59 L121.01 34.65 L121.35 33.88 L121.68 35.03 L122.02 34.99 L122.35 33.78 L122.69 34.23 L123.02 35.29 L123.36 34.26 L123.69 34.36 L124.03 35.37 L124.36 34.59 L124.69 34.43 L125.03 34.09 L125.36 33.99 L125.7 34.34 L126.03 33.93 L126.37 34.42 L126.7 34.72 L127.04 34.74 L127.37 34.09 L127.71 35.15 L128.04 34.01 L128.37 34.76 L128.71 34.43 L129.04 34.05 L129.38 33.73 L129.71 35.08 L130.05 34.58 L130.38 34.2 L130.72 34.48 L131.05 33.85 L131.39 35.11 L131.72 34.05 L132.05 34.02 L132.39 34.18 L132.72 33.72 L133.06 34.72 L133.39 33.71 L133.73 34.48 L134.06 33.86 L134.4 34.31 L134.73 33.82 L135.07 33.83 L135.4 34.79 L135.73 34.22 L136.07 34.19 L136.4 34.25 L136.74 34.47 L137.07 33.34 L137.41 34.04 L137.74 33.46 L138.08 34.37 L138.41 34.58 L138.75 34.06 L139.08 34.36 L139.41 33.08 L139.75 34 L140.08 33.61 L140.42 34.19 L140.75 34.23 L141.09 34.1 L141.42 33.93 L141.76 33.72 L142.09 34.13 L142.43 34.37 L142.76 34.53 L143.09 34.1 L143.43 33.81 L143.76 33.86 L144.1 34.06 L144.43 34.31 L144.77 33.98 L145.1 33.79 L145.44 34.05 L145.77 33.98 L146.11 34.09 L146.44 33.63 L146.77 34.21 L147.11 33.94 L147.44 33.84 L147.78 33.7 L148.11 33.36 L148.45 33.71 L148.78 33.74 L149.12 34.63 L149.45 33.73 L149.79 33 L150.12 34.34 L150.45 34.42 L150.79 34.07 L151.12 33.53 L151.46 33.74 L151.79 34.17 L152.13 33.98 L152.46 33.51 L152.8 33.66 L153.13 32.91 L153.47 33.51 L153.8 33.79 L154.13 33.67 L154.47 34.09 L154.8 34.35 L155.14 33.85 L155.47 33.71 L155.81 34.52 L156.14 34.14 L156.48 34.07 L156.81 33.8 L157.15 34.02 L157.48 33.71 L157.81 33.86 L158.15 33.44 L158.48 34.63 L158.82 33.18 L159.15 33.28 L159.49 33.86 L159.82 33.6 L160.16 33.61 L160.49 34.19 L160.83 33.8 L161.16 33.53 L161.49 33.73 L161.83 33.41 L162.16 33.81 L162.5 33.82 L162.83 34.18 L163.17 34 L163.5 34.04 L163.84 33.1 L164.17 33.73 L164.51 34.26 L164.84 33.66 L165.17 33.91 L165.51 35.14 L165.84 33.61 L166.18 34.48 L166.51 33.56 L166.85 34.22 L167.18 34.43 L167.52 33.59 L167.85 34.44 L168.19 33.99 L168.52 33.7 L168.85 33.53 L169.19 33.47 L169.52 33.8 L169.86 34.14 L170.19 32.95 L170.53 34.03 L170.86 32.99 L171.2 33.96 L171.53 33.26 L171.87 33.3 L172.2 34.21 L172.53 33.6 L172.87 33.43 L173.2 33.45 L173.54 33.83 L173.87 33.61 L174.21 33.91 L174.54 34.24 L174.88 33.31 L175.21 33.97 L175.55 33.13 L175.88 33.46 L176.21 34.1 L176.55 33.79 L176.88 33.84 L177.22 34.09 L177.55 33.49 L177.89 33.91 L178.22 33 L178.56 33.33 L178.89 34.07 L179.23 33.7 L179.56 33.79 L179.89 34.36 L180.23 33.28 L180.56 33.27 L180.9 33.28 L181.23 33.87 L181.57 33.21 L181.9 33.76 L182.24 33.26 L182.57 32.88 L182.91 33.6 L183.24 34.27 L183.57 33.79 L183.91 33.38 L184.24 33.12 L184.58 34.13 L184.91 33.72 L185.25 33.54 L185.58 33.45 L185.92 33.24 L186.25 34.04 L186.59 33.81 L186.92 33.19 L187.25 33.45 L187.59 33.43 L187.92 33.13 L188.26 33.57 L188.59 33.38 L188.93 33.74 L189.26 34.18 L189.6 34.16 L189.93 33.57 L190.27 33.68 L190.6 33.88 L190.93 33.45 L191.27 33.97 L191.6 33.54 L191.94 33.59 L192.27 33.94 L192.61 34.57 L192.94 32.95 L193.28 33.44 L193.61 34.72 L193.95 33.75 L194.28 33.39 L194.61 33.66 L194.95 33.31 L195.28 33.97 L195.62 33.48 L195.95 33.57 L196.29 33.63 L196.62 33.64 L196.96 33.46 L197.29 33.14 L197.63 33.76 L197.96 33.71 L198.29 33.46 L198.63 33.58 L198.96 33.36 L199.3 33.21 L199.63 32.97 L199.97 33.57 L200.3 34.5 L200.64 33.54" fill="none" stroke="#ff7f0e" stroke-width="1.4" stroke-opacity="0.78" stroke-linejoin="round" />
<path d="M33.36 96.37 L33.7 84.42 L34.03 73.08 L34.37 65.38 L34.7 62.08 L35.04 60.37 L35.37 56.83 L35.71 55.23 L36.04 54 L36.37 52.54 L36.71 51.46 L37.04 49.84 L37.38 48.96 L37.71 47.71 L38.05 47.31 L38.38 47.44 L38.72 46.78 L39.05 45.04 L39.39 44.25 L39.72 44.44 L40.05 43.55 L40.39 44.15 L40.72 44.06 L41.06 43.47 L41.39 42.86 L41.73 42.69 L42.06 42.33 L42.4 42.22 L42.73 41.5 L43.07 40.97 L43.4 41.36 L43.73 40.31 L44.07 41.26 L44.4 41.03 L44.74 40.46 L45.07 40.6 L45.41 39.77 L45.74 40.39 L46.08 39.39 L46.41 39.71 L46.75 38.54 L47.08 39.7 L47.41 39.44 L47.75 39.14 L48.08 40.01 L48.42 38.67 L48.75 38.59 L49.09 38.62 L49.42 39.2 L49.76 39.08 L50.09 38.04 L50.43 37.67 L50.76 37.37 L51.09 38.32 L51.43 38.27 L51.76 37.83 L52.1 38.45 L52.43 37.75 L52.77 37.02 L53.1 36.58 L53.44 37.06 L53.77 36.38 L54.11 36.81 L54.44 36.8 L54.77 36.86 L55.11 36.61 L55.44 36.71 L55.78 36.57 L56.11 36.7 L56.45 36.22 L56.78 36.24 L57.12 36.79 L57.45 36.17 L57.79 36.35 L58.12 36.78 L58.45 35.66 L58.79 35.16 L59.12 34.78 L59.46 35.09 L59.79 36.11 L60.13 35.19 L60.46 35.18 L60.8 36.49 L61.13 35.23 L61.47 35.3 L61.8 35.47 L62.13 35.39 L62.47 35.45 L62.8 34.75 L63.14 35.59 L63.47 35.48 L63.81 35.36 L64.14 35.21 L64.48 36.06 L64.81 34.68 L65.15 35.15 L65.48 34.98 L65.81 35.11 L66.15 35.25 L66.48 35.29 L66.82 35.07 L67.15 35.02 L67.49 34.57 L67.82 34.89 L68.16 35.07 L68.49 34.13 L68.83 35.51 L69.16 35.51 L69.49 34.76 L69.83 34.98 L70.16 35.63 L70.5 34.97 L70.83 35.12 L71.17 34.31 L71.5 35.04 L71.84 34.29 L72.17 34.53 L72.51 34.79 L72.84 34.67 L73.17 34.47 L73.51 35.63 L73.84 34.47 L74.18 34.75 L74.51 33.8 L74.85 34.85 L75.18 34.04 L75.52 35.59 L75.85 34.14 L76.19 34.35 L76.52 34.55 L76.85 34.48 L77.19 34.52 L77.52 34.2 L77.86 34.42 L78.19 35.11 L78.53 34.41 L78.86 33.34 L79.2 34.27 L79.53 34.14 L79.87 34.44 L80.2 34.15 L80.53 34.13 L80.87 34.3 L81.2 33.8 L81.54 34.55 L81.87 34.19 L82.21 33.9 L82.54 34.22 L82.88 34.61 L83.21 33.83 L83.55 34.47 L83.88 34.22 L84.21 34.37 L84.55 34.04 L84.88 34.16 L85.22 34.17 L85.55 33.65 L85.89 33.17 L86.22 34.06 L86.56 33.67 L86.89 34.03 L87.23 33.82 L87.56 33.36 L87.89 33.81 L88.23 34.16 L88.56 34.11 L88.9 34.05 L89.23 33.77 L89.57 33.38 L89.9 34.32 L90.24 34.16 L90.57 34.1 L90.91 34.44 L91.24 33.1 L91.57 33.67 L91.91 32.82 L92.24 34.24 L92.58 33.06 L92.91 33.9 L93.25 33.76 L93.58 33.99 L93.92 33.96 L94.25 34.11 L94.59 33.43 L94.92 34.07 L95.25 33.6 L95.59 33.49 L95.92 33.18 L96.26 33.41 L96.59 33.3 L96.93 33.2 L97.26 33.42 L97.6 33.24 L97.93 33.81 L98.27 33.7 L98.6 32.54 L98.93 33.35 L99.27 33.64 L99.6 32.72 L99.94 33.37 L100.27 33.57 L100.61 33.9 L100.94 32.93 L101.28 33.72 L101.61 33.47 L101.95 32.95 L102.28 33.13 L102.61 33.24 L102.95 33.28 L103.28 32.68 L103.62 32.2 L103.95 33.38 L104.29 32.89 L104.62 32.29 L104.96 32.65 L105.29 33.39 L105.63 33.27 L105.96 33.33 L106.29 33.46 L106.63 33.32 L106.96 32.93 L107.3 33.28 L107.63 32.64 L107.97 32.95 L108.3 33.16 L108.64 32.6 L108.97 32.83 L109.31 32.84 L109.64 32.5 L109.97 32.69 L110.31 32.97 L110.64 32.51 L110.98 32.77 L111.31 31.63 L111.65 32.4 L111.98 32.37 L112.32 32.3 L112.65 32.81 L112.99 32.27 L113.32 32.81 L113.65 33.17 L113.99 33.04 L114.32 32.56 L114.66 33.45 L114.99 32.68 L115.33 33.07 L115.66 32.43 L116 33.05 L116.33 31.92 L116.67 32.38 L117 33.25 L117.33 31.93 L117.67 32.78 L118 32.98 L118.34 33.1 L118.67 32.4 L119.01 31.99 L119.34 32.88 L119.68 33.05 L120.01 33.1 L120.35 31.95 L120.68 31.87 L121.01 32.73 L121.35 32.34 L121.68 32.56 L122.02 32.57 L122.35 32.12 L122.69 32.34 L123.02 32.38 L123.36 32.63 L123.69 32.15 L124.03 32.61 L124.36 32.46 L124.69 32.37 L125.03 32.98 L125.36 32.58 L125.7 32.57 L126.03 32.39 L126.37 32.9 L126.7 32.92 L127.04 31.7 L127.37 31.89 L127.71 32 L128.04 31.59 L128.37 32.18 L128.71 32.39 L129.04 32.14 L129.38 33.14 L129.71 32.8 L130.05 31.99 L130.38 32.29 L130.72 32.84 L131.05 32 L131.39 31.84 L131.72 31.97 L132.05 32.26 L132.39 32.59 L132.72 32.18 L133.06 32.03 L133.39 32.35 L133.73 31.93 L134.06 32.04 L134.4 32.02 L134.73 33.03 L135.07 31.68 L135.4 31.39 L135.73 32.29 L136.07 32.74 L136.4 31.82 L136.74 32.29 L137.07 32.49 L137.41 31.54 L137.74 32.65 L138.08 31.73 L138.41 32.57 L138.75 31.39 L139.08 31.78 L139.41 32.11 L139.75 31.92 L140.08 31.72 L140.42 31.61 L140.75 31.6 L141.09 31.71 L141.42 32.14 L141.76 31.63 L142.09 32.47 L142.43 31.47 L142.76 31.51 L143.09 31.28 L143.43 32.12 L143.76 31.78 L144.1 31.48 L144.43 31.7 L144.77 32.01 L145.1 31.68 L145.44 31.77 L145.77 31.36 L146.11 32.05 L146.44 31.63 L146.77 31.64 L147.11 31.43 L147.44 31.77 L147.78 31.68 L148.11 31.75 L148.45 31.7 L148.78 31.7 L149.12 31.83 L149.45 30.46 L149.79 32.03 L150.12 32.17 L150.45 31.99 L150.79 31.95 L151.12 31.63 L151.46 31.01 L151.79 30.88 L152.13 31.5 L152.46 32.67 L152.8 31.42 L153.13 32.14 L153.47 31.78 L153.8 32.05 L154.13 31.36 L154.47 31.8 L154.8 31.19 L155.14 31.31 L155.47 31.61 L155.81 31.46 L156.14 31.09 L156.48 31.64 L156.81 31.07 L157.15 31.46 L157.48 31.33 L157.81 31.09 L158.15 30.86 L158.48 31.2 L158.82 31.38 L159.15 31.09 L159.49 32.06 L159.82 30.68 L160.16 31.94 L160.49 30.97 L160.83 31.6 L161.16 31.13 L161.49 31.39 L161.83 31.2 L162.16 31.66 L162.5 32.24 L162.83 31.12 L163.17 31.55 L163.5 31.56 L163.84 31.58 L164.17 30.41 L164.51 31.51 L164.84 31.11 L165.17 31.74 L165.51 30.57 L165.84 31.46 L166.18 32.33 L166.51 30.04 L166.85 31.67 L167.18 30.62 L167.52 30.86 L167.85 30.89 L168.19 31.26 L168.52 31.07 L168.85 30.61 L169.19 31.26 L169.52 31.02 L169.86 30.72 L170.19 31.07 L170.53 31.28 L170.86 30.47 L171.2 30.93 L171.53 31.13 L171.87 31.4 L172.2 31.49 L172.53 30.66 L172.87 30.63 L173.2 31.96 L173.54 31.29 L173.87 30.6 L174.21 29.96 L174.54 30.07 L174.88 30.58 L175.21 30.39 L175.55 31.2 L175.88 30.63 L176.21 31.49 L176.55 31.19 L176.88 30.8 L177.22 30 L177.55 30.6 L177.89 30.8 L178.22 30.98 L178.56 31.47 L178.89 30.63 L179.23 31.03 L179.56 30.77 L179.89 31.25 L180.23 30.81 L180.56 31.51 L180.9 30.63 L181.23 30.27 L181.57 30.44 L181.9 29.91 L182.24 30.67 L182.57 30.59 L182.91 30.58 L183.24 31.17 L183.57 29.86 L183.91 30.35 L184.24 30.87 L184.58 31.15 L184.91 30.5 L185.25 30.37 L185.58 30.68 L185.92 30.65 L186.25 30.8 L186.59 30.71 L186.92 30.13 L187.25 30.09 L187.59 31.33 L187.92 30.62 L188.26 31.19 L188.59 31.24 L188.93 30.41 L189.26 31.01 L189.6 32 L189.93 30.36 L190.27 30.08 L190.6 29.74 L190.93 30.79 L191.27 29.99 L191.6 31.73 L191.94 31.04 L192.27 30.36 L192.61 30.37 L192.94 30 L193.28 30.15 L193.61 30.59 L193.95 29.89 L194.28 30.25 L194.61 29.8 L194.95 30.87 L195.28 30.39 L195.62 30.7 L195.95 30.16 L196.29 30.59 L196.62 30.6 L196.96 31.05 L197.29 30.34 L197.63 29.99 L197.96 30.03 L198.29 31.75 L198.63 31.14 L198.96 29.58 L199.3 30.51 L199.63 30.49 L199.97 29.92 L200.3 30.33 L200.64 30.68" fill="none" stroke="#2ca02c" stroke-width="1.4" stroke-opacity="0.78" stroke-linejoin="round" />
<path d="M33.36 79.64 L33.7 74.86 L34.03 66.56 L34.37 59.7 L34.7 58.15 L35.04 54.58 L35.37 53.23 L35.71 51.44 L36.04 48.96 L36.37 48.91 L36.71 47.25 L37.04 46.84 L37.38 46.44 L37.71 45.1 L38.05 43.79 L38.38 43.68 L38.72 42.71 L39.05 42.25 L39.39 41.74 L39.72 41.39 L40.05 40.63 L40.39 41.33 L40.72 40.43 L41.06 40.81 L41.39 39.72 L41.73 39.49 L42.06 39.8 L42.4 38.93 L42.73 38.94 L43.07 38.82 L43.4 38.94 L43.73 38.42 L44.07 38.02 L44.4 38.62 L44.74 38.54 L45.07 37.54 L45.41 38.92 L45.74 38.91 L46.08 38.44 L46.41 37.46 L46.75 37.35 L47.08 37.09 L47.41 37.15 L47.75 36.41 L48.08 36.28 L48.42 36.36 L48.75 37.25 L49.09 36.49 L49.42 36.92 L49.76 36.66 L50.09 36.79 L50.43 36.25 L50.76 35.93 L51.09 36.04 L51.43 36.5 L51.76 36.55 L52.1 36.14 L52.43 36.06 L52.77 35.3 L53.1 35.7 L53.44 35.56 L53.77 35.47 L54.11 34.85 L54.44 34.54 L54.77 34.98 L55.11 35.2 L55.44 34.42 L55.78 34.76 L56.11 35.06 L56.45 34.37 L56.78 34.65 L57.12 35.29 L57.45 34.33 L57.79 34.41 L58.12 35.27 L58.45 35.36 L58.79 34.33 L59.12 34.06 L59.46 34.05 L59.79 34.87 L60.13 34.39 L60.46 33.92 L60.8 34.83 L61.13 34.1 L61.47 34.01 L61.8 33.67 L62.13 35.09 L62.47 33.94 L62.8 33.1 L63.14 34.2 L63.47 34.04 L63.81 33.46 L64.14 34.17 L64.48 33.31 L64.81 33.54 L65.15 34.42 L65.48 33.67 L65.81 34.31 L66.15 33.24 L66.48 34.35 L66.82 34.38 L67.15 34.06 L67.49 33.88 L67.82 32.94 L68.16 33.49 L68.49 33.33 L68.83 32.96 L69.16 33.7 L69.49 33.62 L69.83 33.71 L70.16 32.98 L70.5 32.59 L70.83 33.16 L71.17 33.51 L71.5 33.44 L71.84 33.67 L72.17 32.85 L72.51 33.6 L72.84 33.22 L73.17 33.59 L73.51 33.88 L73.84 34.13 L74.18 33.4 L74.51 32.9 L74.85 33.11 L75.18 33.04 L75.52 33.38 L75.85 33.3 L76.19 33.34 L76.52 32.76 L76.85 31.95 L77.19 32.87 L77.52 33.38 L77.86 32.22 L78.19 33.17 L78.53 32.48 L78.86 32.89 L79.2 32.65 L79.53 31.18 L79.87 32.96 L80.2 32.87 L80.53 32.43 L80.87 32.59 L81.2 32.73 L81.54 32.83 L81.87 32.26 L82.21 32.03 L82.54 32.88 L82.88 32.94 L83.21 31.65 L83.55 33.03 L83.88 32.09 L84.21 32.19 L84.55 32.83 L84.88 32.01 L85.22 32.8 L85.55 32.77 L85.89 32.88 L86.22 31.91 L86.56 32.44 L86.89 31.76 L87.23 32.56 L87.56 31.93 L87.89 31.57 L88.23 32.19 L88.56 32.62 L88.9 32.27 L89.23 31.56 L89.57 31.77 L89.9 32.23 L90.24 32.8 L90.57 31.73 L90.91 31.32 L91.24 31.29 L91.57 31.8 L91.91 32.05 L92.24 32.29 L92.58 32.18 L92.91 32.63 L93.25 30.98 L93.58 31.9 L93.92 30.84 L94.25 31.88 L94.59 32.53 L94.92 31.02 L95.25 32.17 L95.59 31.98 L95.92 31.06 L96.26 31.13 L96.59 32.61 L96.93 31.73 L97.26 32.18 L97.6 31.46 L97.93 30.9 L98.27 31.89 L98.6 31.01 L98.93 32.04 L99.27 30.69 L99.6 31.96 L99.94 31.79 L100.27 31.45 L100.61 32.16 L100.94 30.88 L101.28 31.99 L101.61 31.26 L101.95 32.06 L102.28 31.44 L102.61 31.48 L102.95 31.63 L103.28 31.24 L103.62 31.92 L103.95 30.77 L104.29 31.32 L104.62 32.59 L104.96 30.52 L105.29 31.17 L105.63 30.68 L105.96 31.41 L106.29 32.3 L106.63 31.49 L106.96 31.83 L107.3 31.3 L107.63 31.48 L107.97 31.17 L108.3 32.01 L108.64 31.21 L108.97 31.42 L109.31 30.93 L109.64 31.92 L109.97 31.36 L110.31 30.46 L110.64 31.66 L110.98 30.83 L111.31 30.56 L111.65 31.12 L111.98 30.68 L112.32 30.65 L112.65 30.41 L112.99 31.23 L113.32 31.11 L113.65 30.7 L113.99 31.35 L114.32 31 L114.66 31.31 L114.99 32 L115.33 30.84 L115.66 30.24 L116 31.12 L116.33 30.91 L116.67 31.13 L117 31.24 L117.33 30.86 L117.67 30.44 L118 29.94 L118.34 30.52 L118.67 31.28 L119.01 31.47 L119.34 30.28 L119.68 30.7 L120.01 31.08 L120.35 31.27 L120.68 31.15 L121.01 30.26 L121.35 30.79 L121.68 31.37 L122.02 30.38 L122.35 30.61 L122.69 30.86 L123.02 30.46 L123.36 31.07 L123.69 30.29 L124.03 31.3 L124.36 31.07 L124.69 31.26 L125.03 30.84 L125.36 30.97 L125.7 30.79 L126.03 30.62 L126.37 30.38 L126.7 30.54 L127.04 30.49 L127.37 29.89 L127.71 30.69 L128.04 31.19 L128.37 30.14 L128.71 29.75 L129.04 30.45 L129.38 30.16 L129.71 30.79 L130.05 30.42 L130.38 30.22 L130.72 30.32 L131.05 30.71 L131.39 29.77 L131.72 30.39 L132.05 30.05 L132.39 30.27 L132.72 30.06 L133.06 30.03 L133.39 30.51 L133.73 30.06 L134.06 29.48 L134.4 29.54 L134.73 30.06 L135.07 29.66 L135.4 30.94 L135.73 29.73 L136.07 30.33 L136.4 31.12 L136.74 30.27 L137.07 29.92 L137.41 30.63 L137.74 29.49 L138.08 29.73 L138.41 30.85 L138.75 29.86 L139.08 30.24 L139.41 30.52 L139.75 30.41 L140.08 30.46 L140.42 30.79 L140.75 30.45 L141.09 29.95 L141.42 29.63 L141.76 29.61 L142.09 30.47 L142.43 30.27 L142.76 30.58 L143.09 29.76 L143.43 30.91 L143.76 30.78 L144.1 30.46 L144.43 30.07 L144.77 30.31 L145.1 30.15 L145.44 30.13 L145.77 30.05 L146.11 30.59 L146.44 30.28 L146.77 29.88 L147.11 30 L147.44 29.64 L147.78 30.43 L148.11 29.71 L148.45 29.46 L148.78 30.15 L149.12 29.96 L149.45 29.97 L149.79 29.83 L150.12 29.89 L150.45 29.42 L150.79 29.82 L151.12 29.67 L151.46 29.89 L151.79 30.47 L152.13 29.83 L152.46 30.11 L152.8 30.28 L153.13 30.38 L153.47 30.02 L153.8 30.25 L154.13 29.1 L154.47 29.28 L154.8 30.08 L155.14 29.65 L155.47 29.45 L155.81 30.02 L156.14 29.14 L156.48 29.54 L156.81 29.97 L157.15 30.69 L157.48 30.33 L157.81 29.77 L158.15 30.09 L158.48 29.9 L158.82 30.23 L159.15 29.78 L159.49 30.07 L159.82 30.54 L160.16 30.01 L160.49 30.1 L160.83 30.52 L161.16 29.23 L161.49 29.87 L161.83 29.97 L162.16 29.5 L162.5 29.86 L162.83 29.48 L163.17 30.45 L163.5 30.25 L163.84 29.56 L164.17 29.15 L164.51 29.77 L164.84 29.69 L165.17 30.13 L165.51 29.78 L165.84 30.07 L166.18 29.82 L166.51 29.44 L166.85 30.6 L167.18 29.64 L167.52 30.08 L167.85 30 L168.19 29.23 L168.52 29.59 L168.85 29.31 L169.19 30.46 L169.52 29.87 L169.86 29.89 L170.19 29.94 L170.53 29.49 L170.86 29.29 L171.2 30.14 L171.53 30.08 L171.87 30.19 L172.2 29.16 L172.53 29.87 L172.87 29.68 L173.2 29.78 L173.54 30.04 L173.87 29.46 L174.21 29.45 L174.54 29.21 L174.88 29.7 L175.21 29.73 L175.55 29.85 L175.88 28.95 L176.21 29.15 L176.55 29.59 L176.88 29.29 L177.22 29.82 L177.55 28.68 L177.89 29.81 L178.22 29.71 L178.56 29.7 L178.89 28.81 L179.23 29.47 L179.56 29.06 L179.89 29.57 L180.23 30.04 L180.56 29.18 L180.9 29.78 L181.23 30.07 L181.57 29.68 L181.9 29.22 L182.24 28.73 L182.57 30.08 L182.91 30.42 L183.24 29.07 L183.57 29.34 L183.91 29.7 L184.24 29.27 L184.58 29.13 L184.91 28.62 L185.25 29.49 L185.58 28.88 L185.92 29.62 L186.25 29.64 L186.59 29.24 L186.92 29.89 L187.25 29.97 L187.59 28.99 L187.92 30.24 L188.26 29.34 L188.59 29.53 L188.93 29.54 L189.26 29.95 L189.6 30.25 L189.93 29.65 L190.27 29.86 L190.6 29.54 L190.93 29.31 L191.27 29.67 L191.6 29.8 L191.94 29.21 L192.27 29.66 L192.61 29.74 L192.94 29.45 L193.28 29.19 L193.61 28.4 L193.95 28.61 L194.28 29.85 L194.61 29.87 L194.95 29.26 L195.28 29.05 L195.62 29.34 L195.95 28.34 L196.29 28.77 L196.62 28.56 L196.96 29.44 L197.29 29.64 L197.63 29.71 L197.96 29.3 L198.29 29.79 L198.63 29.51 L198.96 29.42 L199.3 28.82 L199.63 29.43 L199.97 29.83 L200.3 29.41 L200.64 29.13" fill="none" stroke="#d62728" stroke-width="1.4" stroke-opacity="0.78" stroke-linejoin="round" />
</g>
<rect x="25" y="17.5" width="184" height="119.5" fill="none" stroke="#3a3a3a" stroke-width="0.9" rx="0" />
<line x1="22.4" y1="137" x2="25" y2="137" stroke="#333" stroke-width="0.8" />
<text x="21.4" y="139.13" font-size="5.94" text-anchor="end" fill="#1a1a1a" textLength="12.47" lengthAdjust="spacingAndGlyphs" >0.00</text>
<line x1="22.4" y1="122.06" x2="25" y2="122.06" stroke="#333" stroke-width="0.8" />
<text x="21.4" y="124.19" font-size="5.94" text-anchor="end" fill="#1a1a1a" textLength="12.47" lengthAdjust="spacingAndGlyphs" >0.25</text>
<line x1="22.4" y1="107.12" x2="25" y2="107.12" stroke="#333" stroke-width="0.8" />
<text x="21.4" y="109.25" font-size="5.94" text-anchor="end" fill="#1a1a1a" textLength="12.47" lengthAdjust="spacingAndGlyphs" >0.50</text>
<line x1="22.4" y1="92.19" x2="25" y2="92.19" stroke="#333" stroke-width="0.8" />
<text x="21.4" y="94.31" font-size="5.94" text-anchor="end" fill="#1a1a1a" textLength="12.47" lengthAdjust="spacingAndGlyphs" >0.75</text>
<line x1="22.4" y1="77.25" x2="25" y2="77.25" stroke="#333" stroke-width="0.8" />
<text x="21.4" y="79.38" font-size="5.94" text-anchor="end" fill="#1a1a1a" textLength="12.47" lengthAdjust="spacingAndGlyphs" >1.00</text>
<line x1="22.4" y1="62.31" x2="25" y2="62.31" stroke="#333" stroke-width="0.8" />
<text x="21.4" y="64.44" font-size="5.94" text-anchor="end" fill="#1a1a1a" textLength="12.47" lengthAdjust="spacingAndGlyphs" >1.25</text>
<line x1="22.4" y1="47.38" x2="25" y2="47.38" stroke="#333" stroke-width="0.8" />
<text x="21.4" y="49.5" font-size="5.94" text-anchor="end" fill="#1a1a1a" textLength="12.47" lengthAdjust="spacingAndGlyphs" >1.50</text>
<line x1="22.4" y1="32.44" x2="25" y2="32.44" stroke="#333" stroke-width="0.8" />
<text x="21.4" y="34.56" font-size="5.94" text-anchor="end" fill="#1a1a1a" textLength="12.47" lengthAdjust="spacingAndGlyphs" >1.75</text>
<line x1="22.4" y1="17.5" x2="25" y2="17.5" stroke="#333" stroke-width="0.8" />
<text x="21.4" y="19.63" font-size="5.94" text-anchor="end" fill="#1a1a1a" textLength="12.47" lengthAdjust="spacingAndGlyphs" >2.00</text>
<line x1="209" y1="137" x2="211.4" y2="137" stroke="#2a2a66" stroke-width="0.9" />
<text x="212.6" y="139.13" font-size="5.94" text-anchor="start" fill="#1a1a1a" textLength="8.91" lengthAdjust="spacingAndGlyphs" >0.5</text>
<line x1="209" y1="113.1" x2="211.4" y2="113.1" stroke="#2a2a66" stroke-width="0.9" />
<text x="212.6" y="115.23" font-size="5.94" text-anchor="start" fill="#1a1a1a" textLength="8.91" lengthAdjust="spacingAndGlyphs" >0.6</text>
<line x1="209" y1="89.2" x2="211.4" y2="89.2" stroke="#2a2a66" stroke-width="0.9" />
<text x="212.6" y="91.33" font-size="5.94" text-anchor="start" fill="#1a1a1a" textLength="8.91" lengthAdjust="spacingAndGlyphs" >0.7</text>
<line x1="209" y1="65.3" x2="211.4" y2="65.3" stroke="#2a2a66" stroke-width="0.9" />
<text x="212.6" y="67.43" font-size="5.94" text-anchor="start" fill="#1a1a1a" textLength="8.91" lengthAdjust="spacingAndGlyphs" >0.8</text>
<line x1="209" y1="41.4" x2="211.4" y2="41.4" stroke="#2a2a66" stroke-width="0.9" />
<text x="212.6" y="43.53" font-size="5.94" text-anchor="start" fill="#1a1a1a" textLength="8.91" lengthAdjust="spacingAndGlyphs" >0.9</text>
<line x1="209" y1="17.5" x2="211.4" y2="17.5" stroke="#2a2a66" stroke-width="0.9" />
<text x="212.6" y="19.63" font-size="5.94" text-anchor="start" fill="#1a1a1a" textLength="8.91" lengthAdjust="spacingAndGlyphs" >1.0</text>
<line x1="33.36" y1="137" x2="33.36" y2="139.6" stroke="#333" stroke-width="0.8" />
<text x="33.36" y="144.63" font-size="5.94" text-anchor="middle" fill="#1a1a1a" textLength="3.56" lengthAdjust="spacingAndGlyphs" >0</text>
<line x1="66.82" y1="137" x2="66.82" y2="139.6" stroke="#333" stroke-width="0.8" />
<text x="66.82" y="144.63" font-size="5.94" text-anchor="middle" fill="#1a1a1a" textLength="10.69" lengthAdjust="spacingAndGlyphs" >100</text>
<line x1="100.27" y1="137" x2="100.27" y2="139.6" stroke="#333" stroke-width="0.8" />
<text x="100.27" y="144.63" font-size="5.94" text-anchor="middle" fill="#1a1a1a" textLength="10.69" lengthAdjust="spacingAndGlyphs" >200</text>
<line x1="133.73" y1="137" x2="133.73" y2="139.6" stroke="#333" stroke-width="0.8" />
<text x="133.73" y="144.63" font-size="5.94" text-anchor="middle" fill="#1a1a1a" textLength="10.69" lengthAdjust="spacingAndGlyphs" >300</text>
<line x1="167.18" y1="137" x2="167.18" y2="139.6" stroke="#333" stroke-width="0.8" />
<text x="167.18" y="144.63" font-size="5.94" text-anchor="middle" fill="#1a1a1a" textLength="10.69" lengthAdjust="spacingAndGlyphs" >400</text>
<line x1="200.64" y1="137" x2="200.64" y2="139.6" stroke="#333" stroke-width="0.8" />
<text x="200.64" y="144.63" font-size="5.94" text-anchor="middle" fill="#1a1a1a" textLength="10.69" lengthAdjust="spacingAndGlyphs" >500</text>
<text x="118" y="155.1" font-size="6.41" text-anchor="middle" fill="#1a1a1a" textLength="22.6" lengthAdjust="spacingAndGlyphs" >Epochs</text>
<text x="4.6" y="79.4" font-size="6.41" text-anchor="middle" fill="#1a1a1a" textLength="40.3" lengthAdjust="spacingAndGlyphs" transform="rotate(-90 4.6 77.1)" >Training loss</text>
<text x="227.8" y="79.6" font-size="6.41" text-anchor="middle" fill="#1a1a1a" textLength="59" lengthAdjust="spacingAndGlyphs" transform="rotate(-90 227.8 77.3)" >Validation accuracy</text>
<rect x="165.6" y="27.6" width="28.2" height="15.8" fill="none" stroke="#3a3a8c" stroke-width="0.8" rx="0" />
<line x1="165.6" y1="27.6" x2="80.2" y2="53.4" stroke="#3a3a8c" stroke-width="0.7" />
<line x1="193.8" y1="43.4" x2="151.3" y2="101" stroke="#3a3a8c" stroke-width="0.7" />
<rect x="80.2" y="53.4" width="71.1" height="47.6" fill="#fff" stroke="none" stroke-width="0.8" rx="0" />
<defs><clipPath id="iclipa"><rect x="80.2" y="53.4" width="71.1" height="47.6"/></clipPath></defs>
<g clip-path="url(#iclipa)">
<path d="M80.2 99.28 L80.91 100.69 L81.62 99.19 L82.33 98.49 L83.04 99.34 L83.76 99.58 L84.47 100.24 L85.18 100.39 L85.89 101.74 L86.6 99.23 L87.31 100.15 L88.02 99.66 L88.73 99.33 L89.44 100.56 L90.15 98.84 L90.87 99.7 L91.58 98.38 L92.29 99.65 L93 99.51 L93.71 100.07 L94.42 98.4 L95.13 101.81 L95.84 100.32 L96.55 100.1 L97.26 101.27 L97.98 100.57 L98.69 101.88 L99.4 99.63 L100.11 101.15 L100.82 99.46 L101.53 100.06 L102.24 100.6 L102.95 101.29 L103.66 100.46 L104.37 99.51 L105.09 99.93 L105.8 99.18 L106.51 100.56 L107.22 98.28 L107.93 100.04 L108.64 100.61 L109.35 98.56 L110.06 98.52 L110.77 99.9 L111.48 100.27 L112.2 98.94 L112.91 100.66 L113.62 98.92 L114.33 101.13 L115.04 99.89 L115.75 99.8 L116.46 98.66 L117.17 101.55 L117.88 99.59 L118.59 99.92 L119.31 99.81 L120.02 100.65 L120.73 101.05 L121.44 100.25 L122.15 100.04 L122.86 98.41 L123.57 99.7 L124.28 99.81 L124.99 99.15 L125.7 101.34 L126.42 99.12 L127.13 98.94 L127.84 98.95 L128.55 100.13 L129.26 100.99 L129.97 100.75 L130.68 99.57 L131.39 99.3 L132.1 98.59 L132.81 98.36 L133.53 98.98 L134.24 99.78 L134.95 99.56 L135.66 100.03 L136.37 98.81 L137.08 99.24 L137.79 99.6 L138.5 101.01 L139.21 98.81 L139.92 101.26 L140.64 98.64 L141.35 98.87 L142.06 101.32 L142.77 99.86 L143.48 100.99 L144.19 99.95 L144.9 99.28 L145.61 99.94 L146.32 101.11 L147.03 99.56 L147.75 99.56 L148.46 99.84 L149.17 100.8 L149.88 100.14 L150.59 99.55 L151.3 99.96" fill="none" stroke="#1f77b4" stroke-width="1.6" stroke-opacity="0.78" stroke-linejoin="round" />
<path d="M80.2 73.21 L80.91 74.97 L81.62 75.41 L82.33 74.76 L83.04 76.27 L83.76 74.82 L84.47 73.68 L85.18 76.06 L85.89 74.93 L86.6 74.49 L87.31 76.83 L88.02 73.66 L88.73 76.21 L89.44 75.54 L90.15 74.85 L90.87 75.44 L91.58 74.45 L92.29 75.07 L93 74.67 L93.71 75.15 L94.42 73.82 L95.13 77.14 L95.84 74.87 L96.55 75.5 L97.26 76.13 L97.98 75.99 L98.69 75.76 L99.4 74.67 L100.11 76.07 L100.82 75.37 L101.53 74.95 L102.24 76.32 L102.95 74.16 L103.66 72.91 L104.37 75.86 L105.09 74.34 L105.8 75.51 L106.51 74.71 L107.22 75.39 L107.93 73.11 L108.64 75.53 L109.35 74.46 L110.06 74.64 L110.77 76.25 L111.48 77.27 L112.2 74.67 L112.91 74.41 L113.62 75.73 L114.33 75.82 L115.04 74.29 L115.75 74.4 L116.46 74.31 L117.17 74.97 L117.88 75.97 L118.59 76.38 L119.31 77.11 L120.02 75.27 L120.73 73.39 L121.44 74.76 L122.15 75.29 L122.86 76.66 L123.57 75.85 L124.28 75.21 L124.99 75.43 L125.7 74.35 L126.42 75.37 L127.13 74.55 L127.84 75.33 L128.55 75.4 L129.26 74.02 L129.97 75.93 L130.68 75.49 L131.39 76.45 L132.1 75.12 L132.81 74.2 L133.53 74.57 L134.24 74.52 L134.95 74.21 L135.66 74.62 L136.37 74.49 L137.08 74.83 L137.79 76.15 L138.5 74.72 L139.21 74.32 L139.92 76.07 L140.64 74.99 L141.35 74.19 L142.06 75.57 L142.77 76.47 L143.48 75.16 L144.19 73.7 L144.9 76.09 L145.61 75.32 L146.32 75.93 L147.03 75.56 L147.75 74.99 L148.46 73.81 L149.17 75.9 L149.88 75.89 L150.59 76.05 L151.3 76.26" fill="none" stroke="#ff7f0e" stroke-width="1.6" stroke-opacity="0.78" stroke-linejoin="round" />
<path d="M80.2 66.36 L80.91 65.71 L81.62 65 L82.33 64.86 L83.04 63.79 L83.76 65.69 L84.47 65.65 L85.18 65.62 L85.89 64.72 L86.6 65.05 L87.31 64.16 L88.02 65.65 L88.73 64.03 L89.44 64.01 L90.15 65.15 L90.87 65.5 L91.58 64.73 L92.29 65.66 L93 63.01 L93.71 64.77 L94.42 64.15 L95.13 66.11 L95.84 66.57 L96.55 64.25 L97.26 64.41 L97.98 65.63 L98.69 65.44 L99.4 65.55 L100.11 64.69 L100.82 64.02 L101.53 66.37 L102.24 64.45 L102.95 65.74 L103.66 65.41 L104.37 65.06 L105.09 66.2 L105.8 62.2 L106.51 62.59 L107.22 64.19 L107.93 64.28 L108.64 65.9 L109.35 62.64 L110.06 64.89 L110.77 65.02 L111.48 63.76 L112.2 64.66 L112.91 65.64 L113.62 65.11 L114.33 65.26 L115.04 64.84 L115.75 64.38 L116.46 64.4 L117.17 63.66 L117.88 64.91 L118.59 63.99 L119.31 63.28 L120.02 66.07 L120.73 64.22 L121.44 65.92 L122.15 66.34 L122.86 63.39 L123.57 63.82 L124.28 64.41 L124.99 65.36 L125.7 63.47 L126.42 66.2 L127.13 64.84 L127.84 64.44 L128.55 63.68 L129.26 66.36 L129.97 67.82 L130.68 64.79 L131.39 64.6 L132.1 64.74 L132.81 65.74 L133.53 64.95 L134.24 66.37 L134.95 64.5 L135.66 64.05 L136.37 65.6 L137.08 66.81 L137.79 65.03 L138.5 65.09 L139.21 64.98 L139.92 63.66 L140.64 64.77 L141.35 62.92 L142.06 64.54 L142.77 65.94 L143.48 63.82 L144.19 64.99 L144.9 65.37 L145.61 64.64 L146.32 64.79 L147.03 66.39 L147.75 65.71 L148.46 63.81 L149.17 64.74 L149.88 64.3 L150.59 63.93 L151.3 63.2" fill="none" stroke="#2ca02c" stroke-width="1.6" stroke-opacity="0.78" stroke-linejoin="round" />
<path d="M80.2 61.55 L80.91 61.61 L81.62 61.82 L82.33 61.51 L83.04 61.81 L83.76 60.95 L84.47 61.04 L85.18 60.38 L85.89 62.07 L86.6 61.56 L87.31 60.59 L88.02 60.27 L88.73 63.14 L89.44 61.51 L90.15 61.18 L90.87 62.88 L91.58 60.51 L92.29 59.79 L93 62.79 L93.71 62.43 L94.42 60.03 L95.13 59.86 L95.84 62.15 L96.55 61.88 L97.26 60.31 L97.98 61.17 L98.69 61.43 L99.4 59.42 L100.11 60.65 L100.82 62.67 L101.53 60.7 L102.24 62.27 L102.95 60.23 L103.66 60 L104.37 60.52 L105.09 60.05 L105.8 59.07 L106.51 60.24 L107.22 61.29 L107.93 61.98 L108.64 60.72 L109.35 61.92 L110.06 62.31 L110.77 61.38 L111.48 62.63 L112.2 62.17 L112.91 60.46 L113.62 61.39 L114.33 61.23 L115.04 60.96 L115.75 62.8 L116.46 60.76 L117.17 60.94 L117.88 60.98 L118.59 60.61 L119.31 63 L120.02 59.12 L120.73 61.23 L121.44 62.3 L122.15 60.83 L122.86 62.15 L123.57 60.87 L124.28 60.42 L124.99 62.19 L125.7 60.13 L126.42 60.81 L127.13 60.6 L127.84 60.55 L128.55 60.45 L129.26 59.87 L129.97 60.12 L130.68 60.47 L131.39 61.66 L132.1 60.66 L132.81 61.47 L133.53 62.32 L134.24 60.98 L134.95 61.81 L135.66 59.86 L136.37 60.97 L137.08 60.89 L137.79 60.2 L138.5 61.33 L139.21 61.18 L139.92 59.83 L140.64 62.25 L141.35 61.76 L142.06 61.06 L142.77 60.19 L143.48 60.7 L144.19 62.04 L144.9 61.81 L145.61 59.32 L146.32 60.64 L147.03 61.53 L147.75 61.4 L148.46 57.38 L149.17 59.66 L149.88 62.49 L150.59 61.37 L151.3 60.25" fill="none" stroke="#d62728" stroke-width="1.6" stroke-opacity="0.78" stroke-linejoin="round" />
</g>
<rect x="80.2" y="53.4" width="71.1" height="47.6" fill="none" stroke="#333" stroke-width="0.8" rx="0" />
<line x1="77.8" y1="101" x2="80.2" y2="101" stroke="#333" stroke-width="0.8" />
<text x="76.8" y="103.13" font-size="5.94" text-anchor="end" fill="#1a1a1a" textLength="12.47" lengthAdjust="spacingAndGlyphs" >0.90</text>
<line x1="77.8" y1="85.13" x2="80.2" y2="85.13" stroke="#333" stroke-width="0.8" />
<text x="76.8" y="87.26" font-size="5.94" text-anchor="end" fill="#1a1a1a" textLength="12.47" lengthAdjust="spacingAndGlyphs" >0.92</text>
<line x1="77.8" y1="69.27" x2="80.2" y2="69.27" stroke="#333" stroke-width="0.8" />
<text x="76.8" y="71.39" font-size="5.94" text-anchor="end" fill="#1a1a1a" textLength="12.47" lengthAdjust="spacingAndGlyphs" >0.94</text>
<line x1="77.8" y1="53.4" x2="80.2" y2="53.4" stroke="#333" stroke-width="0.8" />
<text x="76.8" y="55.53" font-size="5.94" text-anchor="end" fill="#1a1a1a" textLength="12.47" lengthAdjust="spacingAndGlyphs" >0.96</text>
<line x1="80.2" y1="101" x2="80.2" y2="103.4" stroke="#333" stroke-width="0.8" />
<text x="80.2" y="108.73" font-size="5.94" text-anchor="middle" fill="#1a1a1a" textLength="10.69" lengthAdjust="spacingAndGlyphs" >400</text>
<line x1="97.98" y1="101" x2="97.98" y2="103.4" stroke="#333" stroke-width="0.8" />
<text x="97.98" y="108.73" font-size="5.94" text-anchor="middle" fill="#1a1a1a" textLength="10.69" lengthAdjust="spacingAndGlyphs" >425</text>
<line x1="115.75" y1="101" x2="115.75" y2="103.4" stroke="#333" stroke-width="0.8" />
<text x="115.75" y="108.73" font-size="5.94" text-anchor="middle" fill="#1a1a1a" textLength="10.69" lengthAdjust="spacingAndGlyphs" >450</text>
<line x1="133.53" y1="101" x2="133.53" y2="103.4" stroke="#333" stroke-width="0.8" />
<text x="133.53" y="108.73" font-size="5.94" text-anchor="middle" fill="#1a1a1a" textLength="10.69" lengthAdjust="spacingAndGlyphs" >475</text>
<line x1="151.3" y1="101" x2="151.3" y2="103.4" stroke="#333" stroke-width="0.8" />
<text x="151.3" y="108.73" font-size="5.94" text-anchor="middle" fill="#1a1a1a" textLength="10.69" lengthAdjust="spacingAndGlyphs" >500</text>
<path d="M209 22.5 Q202 22 197 26.5" fill="none" stroke="#c8323c" stroke-width="1.0"/>
<path d="M196.11 27.3 L197.58 23.56 L199.99 26.23 Z" fill="#c8323c"/>
<path d="M25 125.2 Q33 124.5 37.2 120.4" fill="none" stroke="#c8323c" stroke-width="1.0"/>
<path d="M38.06 119.56 L36.74 123.36 L34.23 120.79 Z" fill="#c8323c"/>
<rect x="164.1" y="100" width="42.6" height="34" fill="#fff" stroke="#d0d0d0" stroke-width="0.7" rx="1.5" fill-opacity="0.8"/>
<line x1="166.1" y1="104.8" x2="178.5" y2="104.8" stroke="#1f77b4" stroke-width="1.1" stroke-opacity="0.78"/>
<text x="181.9" y="106.74" font-size="5.41" text-anchor="start" fill="#1a1a1a" textLength="18.41" lengthAdjust="spacingAndGlyphs" ><tspan font-style="italic">M</tspan> = 16</text>
<line x1="166.1" y1="112.9" x2="178.5" y2="112.9" stroke="#ff7f0e" stroke-width="1.1" stroke-opacity="0.78"/>
<text x="181.9" y="114.84" font-size="5.41" text-anchor="start" fill="#1a1a1a" textLength="18.41" lengthAdjust="spacingAndGlyphs" ><tspan font-style="italic">M</tspan> = 32</text>
<line x1="166.1" y1="121" x2="178.5" y2="121" stroke="#2ca02c" stroke-width="1.1" stroke-opacity="0.78"/>
<text x="181.9" y="122.94" font-size="5.41" text-anchor="start" fill="#1a1a1a" textLength="18.41" lengthAdjust="spacingAndGlyphs" ><tspan font-style="italic">M</tspan> = 64</text>
<line x1="166.1" y1="129" x2="178.5" y2="129" stroke="#d62728" stroke-width="1.1" stroke-opacity="0.78"/>
<text x="181.9" y="130.94" font-size="5.41" text-anchor="start" fill="#1a1a1a" textLength="21.65" lengthAdjust="spacingAndGlyphs" ><tspan font-style="italic">M</tspan> = 128</text>
<g clip-path="url(#clipd)">
<defs><clipPath id="clipd"><rect x="25.5" y="173.4" width="183.4" height="120.2"/></clipPath></defs>
<path d="M33.84 175.8 L34.17 226.29 L34.5 237.35 L34.84 245.19 L35.17 248.76 L35.5 249.37 L35.84 249.88 L36.17 250.33 L36.5 250.72 L36.84 251.07 L37.17 251.39 L37.5 251.68 L37.84 251.95 L38.17 252.19 L38.5 252.42 L38.84 252.64 L39.17 252.84 L39.51 253.03 L39.84 253.21 L40.17 253.37 L40.51 253.52 L40.84 253.66 L41.17 253.79 L41.51 253.92 L41.84 254.05 L42.17 254.17 L42.51 254.28 L42.84 254.39 L43.17 254.5 L43.51 254.6 L43.84 254.7 L44.17 254.8 L44.51 254.89 L44.84 254.98 L45.17 255.07 L45.51 255.16 L45.84 255.24 L46.17 255.32 L46.51 255.4 L46.84 255.48 L47.17 255.55 L47.51 255.63 L47.84 255.7 L48.17 255.77 L48.51 255.84 L48.84 255.91 L49.18 255.97 L49.51 256.03 L49.84 256.1 L50.18 256.15 L50.51 256.19 L50.84 256.24 L51.18 256.29 L51.51 256.33 L51.84 256.38 L52.18 256.42 L52.51 256.46 L52.84 256.5 L53.18 256.54 L53.51 256.58 L53.84 256.62 L54.18 256.66 L54.51 256.7 L54.84 256.74 L55.18 256.78 L55.51 256.81 L55.84 256.85 L56.18 256.89 L56.51 256.92 L56.84 256.96 L57.18 256.99 L57.51 257.02 L57.85 257.06 L58.18 257.09 L58.51 257.12 L58.85 257.15 L59.18 257.18 L59.51 257.22 L59.85 257.25 L60.18 257.28 L60.51 257.31 L60.85 257.34 L61.18 257.37 L61.51 257.39 L61.85 257.42 L62.18 257.45 L62.51 257.48 L62.85 257.51 L63.18 257.53 L63.51 257.56 L63.85 257.59 L64.18 257.61 L64.51 257.64 L64.85 257.66 L65.18 257.69 L65.51 257.72 L65.85 257.74 L66.18 257.76 L66.51 257.79 L66.85 257.81 L67.18 257.84 L67.52 257.86 L67.85 257.88 L68.18 257.91 L68.52 257.93 L68.85 257.95 L69.18 257.98 L69.52 258 L69.85 258.02 L70.18 258.05 L70.52 258.08 L70.85 258.11 L71.18 258.14 L71.52 258.17 L71.85 258.2 L72.18 258.23 L72.52 258.25 L72.85 258.28 L73.18 258.31 L73.52 258.34 L73.85 258.36 L74.18 258.39 L74.52 258.42 L74.85 258.44 L75.18 258.47 L75.52 258.5 L75.85 258.52 L76.19 258.55 L76.52 258.57 L76.85 258.6 L77.19 258.63 L77.52 258.65 L77.85 258.68 L78.19 258.7 L78.52 258.72 L78.85 258.75 L79.19 258.77 L79.52 258.8 L79.85 258.82 L80.19 258.84 L80.52 258.87 L80.85 258.89 L81.19 258.91 L81.52 258.94 L81.85 258.96 L82.19 258.98 L82.52 259 L82.85 259.03 L83.19 259.05 L83.52 259.07 L83.85 259.09 L84.19 259.11 L84.52 259.14 L84.85 259.16 L85.19 259.18 L85.52 259.2 L85.86 259.22 L86.19 259.24 L86.52 259.26 L86.86 259.28 L87.19 259.3 L87.52 259.32 L87.86 259.34 L88.19 259.36 L88.52 259.38 L88.86 259.4 L89.19 259.42 L89.52 259.44 L89.86 259.46 L90.19 259.48 L90.52 259.49 L90.86 259.51 L91.19 259.53 L91.52 259.54 L91.86 259.56 L92.19 259.57 L92.52 259.59 L92.86 259.6 L93.19 259.62 L93.52 259.63 L93.86 259.65 L94.19 259.66 L94.53 259.67 L94.86 259.69 L95.19 259.7 L95.53 259.72 L95.86 259.73 L96.19 259.75 L96.53 259.76 L96.86 259.77 L97.19 259.79 L97.53 259.8 L97.86 259.82 L98.19 259.83 L98.53 259.84 L98.86 259.86 L99.19 259.87 L99.53 259.88 L99.86 259.9 L100.19 259.91 L100.53 259.92 L100.86 259.94 L101.19 259.95 L101.53 259.96 L101.86 259.98 L102.19 259.99 L102.53 260 L102.86 260.01 L103.19 260.03 L103.53 260.04 L103.86 260.05 L104.2 260.06 L104.53 260.08 L104.86 260.09 L105.2 260.1 L105.53 260.11 L105.86 260.13 L106.2 260.14 L106.53 260.15 L106.86 260.16 L107.2 260.18 L107.53 260.19 L107.86 260.2 L108.2 260.21 L108.53 260.22 L108.86 260.23 L109.2 260.25 L109.53 260.26 L109.86 260.27 L110.2 260.28 L110.53 260.29 L110.86 260.3 L111.2 260.32 L111.53 260.33 L111.86 260.34 L112.2 260.35 L112.53 260.36 L112.87 260.37 L113.2 260.38 L113.53 260.39 L113.87 260.41 L114.2 260.42 L114.53 260.43 L114.87 260.44 L115.2 260.45 L115.53 260.46 L115.87 260.47 L116.2 260.48 L116.53 260.49 L116.87 260.5 L117.2 260.51 L117.53 260.52 L117.87 260.53 L118.2 260.54 L118.53 260.56 L118.87 260.57 L119.2 260.58 L119.53 260.59 L119.87 260.6 L120.2 260.61 L120.53 260.62 L120.87 260.63 L121.2 260.64 L121.53 260.65 L121.87 260.66 L122.2 260.67 L122.54 260.68 L122.87 260.69 L123.2 260.7 L123.54 260.71 L123.87 260.72 L124.2 260.73 L124.54 260.74 L124.87 260.75 L125.2 260.76 L125.54 260.77 L125.87 260.77 L126.2 260.78 L126.54 260.79 L126.87 260.8 L127.2 260.81 L127.54 260.82 L127.87 260.83 L128.2 260.84 L128.54 260.85 L128.87 260.86 L129.2 260.87 L129.54 260.88 L129.87 260.89 L130.2 260.9 L130.54 260.91 L130.87 260.91 L131.21 260.92 L131.54 260.93 L131.87 260.94 L132.21 260.95 L132.54 260.96 L132.87 260.97 L133.21 260.98 L133.54 260.99 L133.87 261 L134.21 261 L134.54 261.01 L134.87 261.02 L135.21 261.03 L135.54 261.04 L135.87 261.05 L136.21 261.06 L136.54 261.07 L136.87 261.07 L137.21 261.08 L137.54 261.09 L137.87 261.1 L138.21 261.11 L138.54 261.12 L138.87 261.12 L139.21 261.13 L139.54 261.14 L139.87 261.15 L140.21 261.16 L140.54 261.17 L140.88 261.17 L141.21 261.18 L141.54 261.19 L141.88 261.2 L142.21 261.21 L142.54 261.22 L142.88 261.22 L143.21 261.23 L143.54 261.24 L143.88 261.25 L144.21 261.26 L144.54 261.26 L144.88 261.27 L145.21 261.28 L145.54 261.29 L145.88 261.3 L146.21 261.3 L146.54 261.31 L146.88 261.32 L147.21 261.33 L147.54 261.33 L147.88 261.34 L148.21 261.35 L148.54 261.36 L148.88 261.37 L149.21 261.37 L149.55 261.38 L149.88 261.39 L150.21 261.4 L150.55 261.4 L150.88 261.41 L151.21 261.42 L151.55 261.43 L151.88 261.43 L152.21 261.44 L152.55 261.45 L152.88 261.46 L153.21 261.46 L153.55 261.47 L153.88 261.48 L154.21 261.49 L154.55 261.49 L154.88 261.5 L155.21 261.51 L155.55 261.51 L155.88 261.52 L156.21 261.53 L156.55 261.54 L156.88 261.54 L157.21 261.55 L157.55 261.56 L157.88 261.56 L158.21 261.57 L158.55 261.58 L158.88 261.59 L159.22 261.59 L159.55 261.6 L159.88 261.61 L160.22 261.61 L160.55 261.62 L160.88 261.63 L161.22 261.64 L161.55 261.64 L161.88 261.65 L162.22 261.66 L162.55 261.66 L162.88 261.67 L163.22 261.68 L163.55 261.68 L163.88 261.69 L164.22 261.7 L164.55 261.7 L164.88 261.71 L165.22 261.72 L165.55 261.72 L165.88 261.73 L166.22 261.74 L166.55 261.74 L166.88 261.75 L167.22 261.76 L167.55 261.76 L167.89 261.77 L168.22 261.78 L168.55 261.78 L168.89 261.79 L169.22 261.8 L169.55 261.8 L169.89 261.81 L170.22 261.82 L170.55 261.82 L170.89 261.83 L171.22 261.84 L171.55 261.84 L171.89 261.85 L172.22 261.85 L172.55 261.86 L172.89 261.87 L173.22 261.87 L173.55 261.88 L173.89 261.89 L174.22 261.89 L174.55 261.9 L174.89 261.91 L175.22 261.91 L175.55 261.92 L175.89 261.92 L176.22 261.93 L176.55 261.94 L176.89 261.94 L177.22 261.95 L177.56 261.95 L177.89 261.96 L178.22 261.97 L178.56 261.97 L178.89 261.98 L179.22 261.99 L179.56 261.99 L179.89 262 L180.22 262 L180.56 262.01 L180.89 262.02 L181.22 262.02 L181.56 262.03 L181.89 262.03 L182.22 262.04 L182.56 262.05 L182.89 262.05 L183.22 262.06 L183.56 262.06 L183.89 262.07 L184.22 262.07 L184.56 262.08 L184.89 262.09 L185.22 262.09 L185.56 262.1 L185.89 262.1 L186.23 262.11 L186.56 262.12 L186.89 262.12 L187.23 262.13 L187.56 262.13 L187.89 262.14 L188.23 262.14 L188.56 262.15 L188.89 262.16 L189.23 262.16 L189.56 262.17 L189.89 262.17 L190.23 262.18 L190.56 262.18 L190.89 262.19 L191.23 262.2 L191.56 262.2 L191.89 262.21 L192.23 262.21 L192.56 262.22 L192.89 262.22 L193.23 262.23 L193.56 262.23 L193.89 262.24 L194.23 262.25 L194.56 262.25 L194.89 262.26 L195.23 262.26 L195.56 262.27 L195.9 262.27 L196.23 262.28 L196.56 262.28 L196.9 262.29 L197.23 262.29 L197.56 262.3 L197.9 262.31 L198.23 262.31 L198.56 262.32 L198.9 262.32 L199.23 262.33 L199.56 262.33 L199.9 262.34 L200.23 262.34 L200.56 262.35" fill="none" stroke="#1f77b4" stroke-width="1.4" stroke-opacity="0.78" stroke-linejoin="round" />
<path d="M33.84 178.21 L34.17 240.71 L34.5 251.29 L34.84 258.79 L35.17 262.36 L35.5 263.21 L35.84 263.93 L36.17 264.56 L36.5 265.11 L36.84 265.6 L37.17 266.04 L37.5 266.45 L37.84 266.82 L38.17 267.17 L38.5 267.49 L38.84 267.8 L39.17 268.08 L39.51 268.35 L39.84 268.6 L40.17 268.86 L40.51 269.11 L40.84 269.34 L41.17 269.57 L41.51 269.78 L41.84 269.99 L42.17 270.19 L42.51 270.38 L42.84 270.57 L43.17 270.74 L43.51 270.92 L43.84 271.08 L44.17 271.24 L44.51 271.4 L44.84 271.55 L45.17 271.7 L45.51 271.84 L45.84 271.98 L46.17 272.12 L46.51 272.25 L46.84 272.38 L47.17 272.5 L47.51 272.62 L47.84 272.74 L48.17 272.86 L48.51 272.97 L48.84 273.09 L49.18 273.19 L49.51 273.3 L49.84 273.41 L50.18 273.45 L50.51 273.49 L50.84 273.53 L51.18 273.57 L51.51 273.61 L51.84 273.65 L52.18 273.69 L52.51 273.72 L52.84 273.76 L53.18 273.8 L53.51 273.83 L53.84 273.87 L54.18 273.9 L54.51 273.94 L54.84 273.97 L55.18 274 L55.51 274.03 L55.84 274.06 L56.18 274.1 L56.51 274.13 L56.84 274.16 L57.18 274.19 L57.51 274.22 L57.85 274.25 L58.18 274.27 L58.51 274.3 L58.85 274.33 L59.18 274.36 L59.51 274.38 L59.85 274.41 L60.18 274.44 L60.51 274.46 L60.85 274.49 L61.18 274.52 L61.51 274.54 L61.85 274.57 L62.18 274.59 L62.51 274.61 L62.85 274.64 L63.18 274.66 L63.51 274.69 L63.85 274.71 L64.18 274.73 L64.51 274.76 L64.85 274.78 L65.18 274.8 L65.51 274.82 L65.85 274.84 L66.18 274.87 L66.51 274.89 L66.85 274.91 L67.18 274.93 L67.52 274.95 L67.85 274.97 L68.18 274.99 L68.52 275.01 L68.85 275.03 L69.18 275.05 L69.52 275.07 L69.85 275.09 L70.18 275.13 L70.52 275.18 L70.85 275.22 L71.18 275.27 L71.52 275.31 L71.85 275.35 L72.18 275.4 L72.52 275.44 L72.85 275.48 L73.18 275.52 L73.52 275.56 L73.85 275.6 L74.18 275.65 L74.52 275.69 L74.85 275.73 L75.18 275.76 L75.52 275.8 L75.85 275.84 L76.19 275.88 L76.52 275.92 L76.85 275.96 L77.19 276 L77.52 276.03 L77.85 276.07 L78.19 276.11 L78.52 276.14 L78.85 276.18 L79.19 276.22 L79.52 276.25 L79.85 276.29 L80.19 276.32 L80.52 276.36 L80.85 276.39 L81.19 276.43 L81.52 276.46 L81.85 276.5 L82.19 276.53 L82.52 276.56 L82.85 276.6 L83.19 276.63 L83.52 276.66 L83.85 276.7 L84.19 276.73 L84.52 276.76 L84.85 276.79 L85.19 276.83 L85.52 276.86 L85.86 276.89 L86.19 276.92 L86.52 276.95 L86.86 276.98 L87.19 277.01 L87.52 277.04 L87.86 277.07 L88.19 277.1 L88.52 277.13 L88.86 277.16 L89.19 277.19 L89.52 277.22 L89.86 277.25 L90.19 277.27 L90.52 277.29 L90.86 277.3 L91.19 277.32 L91.52 277.34 L91.86 277.35 L92.19 277.37 L92.52 277.39 L92.86 277.4 L93.19 277.42 L93.52 277.43 L93.86 277.45 L94.19 277.47 L94.53 277.48 L94.86 277.5 L95.19 277.51 L95.53 277.53 L95.86 277.54 L96.19 277.56 L96.53 277.57 L96.86 277.59 L97.19 277.6 L97.53 277.62 L97.86 277.63 L98.19 277.65 L98.53 277.66 L98.86 277.68 L99.19 277.69 L99.53 277.71 L99.86 277.72 L100.19 277.74 L100.53 277.75 L100.86 277.77 L101.19 277.78 L101.53 277.79 L101.86 277.81 L102.19 277.82 L102.53 277.84 L102.86 277.85 L103.19 277.86 L103.53 277.88 L103.86 277.89 L104.2 277.9 L104.53 277.92 L104.86 277.93 L105.2 277.95 L105.53 277.96 L105.86 277.97 L106.2 277.98 L106.53 278 L106.86 278.01 L107.2 278.02 L107.53 278.04 L107.86 278.05 L108.2 278.06 L108.53 278.08 L108.86 278.09 L109.2 278.1 L109.53 278.11 L109.86 278.13 L110.2 278.14 L110.53 278.15 L110.86 278.16 L111.2 278.18 L111.53 278.19 L111.86 278.2 L112.2 278.21 L112.53 278.23 L112.87 278.24 L113.2 278.25 L113.53 278.26 L113.87 278.27 L114.2 278.29 L114.53 278.3 L114.87 278.31 L115.2 278.32 L115.53 278.33 L115.87 278.34 L116.2 278.36 L116.53 278.37 L116.87 278.38 L117.2 278.39 L117.53 278.4 L117.87 278.41 L118.2 278.42 L118.53 278.44 L118.87 278.45 L119.2 278.46 L119.53 278.47 L119.87 278.48 L120.2 278.49 L120.53 278.5 L120.87 278.51 L121.2 278.52 L121.53 278.54 L121.87 278.55 L122.2 278.56 L122.54 278.57 L122.87 278.58 L123.2 278.59 L123.54 278.6 L123.87 278.61 L124.2 278.62 L124.54 278.63 L124.87 278.64 L125.2 278.65 L125.54 278.66 L125.87 278.67 L126.2 278.68 L126.54 278.69 L126.87 278.7 L127.2 278.72 L127.54 278.73 L127.87 278.74 L128.2 278.75 L128.54 278.76 L128.87 278.77 L129.2 278.78 L129.54 278.79 L129.87 278.8 L130.2 278.81 L130.54 278.82 L130.87 278.83 L131.21 278.84 L131.54 278.85 L131.87 278.85 L132.21 278.86 L132.54 278.87 L132.87 278.88 L133.21 278.89 L133.54 278.9 L133.87 278.91 L134.21 278.92 L134.54 278.93 L134.87 278.94 L135.21 278.95 L135.54 278.96 L135.87 278.97 L136.21 278.98 L136.54 278.99 L136.87 279 L137.21 279.01 L137.54 279.02 L137.87 279.03 L138.21 279.03 L138.54 279.04 L138.87 279.05 L139.21 279.06 L139.54 279.07 L139.87 279.08 L140.21 279.09 L140.54 279.1 L140.88 279.11 L141.21 279.12 L141.54 279.12 L141.88 279.13 L142.21 279.14 L142.54 279.15 L142.88 279.16 L143.21 279.17 L143.54 279.18 L143.88 279.19 L144.21 279.19 L144.54 279.2 L144.88 279.21 L145.21 279.22 L145.54 279.23 L145.88 279.24 L146.21 279.25 L146.54 279.25 L146.88 279.26 L147.21 279.27 L147.54 279.28 L147.88 279.29 L148.21 279.3 L148.54 279.31 L148.88 279.31 L149.21 279.32 L149.55 279.33 L149.88 279.34 L150.21 279.35 L150.55 279.35 L150.88 279.36 L151.21 279.37 L151.55 279.38 L151.88 279.39 L152.21 279.4 L152.55 279.4 L152.88 279.41 L153.21 279.42 L153.55 279.43 L153.88 279.44 L154.21 279.44 L154.55 279.45 L154.88 279.46 L155.21 279.47 L155.55 279.48 L155.88 279.48 L156.21 279.49 L156.55 279.5 L156.88 279.51 L157.21 279.51 L157.55 279.52 L157.88 279.53 L158.21 279.54 L158.55 279.54 L158.88 279.55 L159.22 279.56 L159.55 279.57 L159.88 279.58 L160.22 279.58 L160.55 279.59 L160.88 279.6 L161.22 279.61 L161.55 279.61 L161.88 279.62 L162.22 279.63 L162.55 279.64 L162.88 279.64 L163.22 279.65 L163.55 279.66 L163.88 279.67 L164.22 279.67 L164.55 279.68 L164.88 279.69 L165.22 279.69 L165.55 279.7 L165.88 279.71 L166.22 279.72 L166.55 279.72 L166.88 279.73 L167.22 279.74 L167.55 279.74 L167.89 279.75 L168.22 279.76 L168.55 279.77 L168.89 279.77 L169.22 279.78 L169.55 279.79 L169.89 279.79 L170.22 279.8 L170.55 279.81 L170.89 279.82 L171.22 279.82 L171.55 279.83 L171.89 279.84 L172.22 279.84 L172.55 279.85 L172.89 279.86 L173.22 279.86 L173.55 279.87 L173.89 279.88 L174.22 279.88 L174.55 279.89 L174.89 279.9 L175.22 279.9 L175.55 279.91 L175.89 279.92 L176.22 279.93 L176.55 279.93 L176.89 279.94 L177.22 279.95 L177.56 279.95 L177.89 279.96 L178.22 279.97 L178.56 279.97 L178.89 279.98 L179.22 279.98 L179.56 279.99 L179.89 280 L180.22 280 L180.56 280.01 L180.89 280.02 L181.22 280.02 L181.56 280.03 L181.89 280.04 L182.22 280.04 L182.56 280.05 L182.89 280.06 L183.22 280.06 L183.56 280.07 L183.89 280.08 L184.22 280.08 L184.56 280.09 L184.89 280.09 L185.22 280.1 L185.56 280.11 L185.89 280.11 L186.23 280.12 L186.56 280.13 L186.89 280.13 L187.23 280.14 L187.56 280.14 L187.89 280.15 L188.23 280.16 L188.56 280.16 L188.89 280.17 L189.23 280.18 L189.56 280.18 L189.89 280.19 L190.23 280.19 L190.56 280.2 L190.89 280.21 L191.23 280.21 L191.56 280.22 L191.89 280.22 L192.23 280.23 L192.56 280.24 L192.89 280.24 L193.23 280.25 L193.56 280.25 L193.89 280.26 L194.23 280.27 L194.56 280.27 L194.89 280.28 L195.23 280.28 L195.56 280.29 L195.9 280.3 L196.23 280.3 L196.56 280.31 L196.9 280.31 L197.23 280.32 L197.56 280.33 L197.9 280.33 L198.23 280.34 L198.56 280.34 L198.9 280.35 L199.23 280.35 L199.56 280.36 L199.9 280.37 L200.23 280.37 L200.56 280.38" fill="none" stroke="#ff7f0e" stroke-width="1.4" stroke-opacity="0.78" stroke-linejoin="round" />
<path d="M33.84 180.61 L34.17 250.33 L34.5 258.74 L34.84 264.71 L35.17 267.78 L35.5 268.85 L35.84 269.76 L36.17 270.55 L36.5 271.24 L36.84 271.86 L37.17 272.42 L37.5 272.93 L37.84 273.41 L38.17 273.78 L38.5 274.12 L38.84 274.44 L39.17 274.75 L39.51 275.03 L39.84 275.3 L40.17 275.56 L40.51 275.8 L40.84 276.04 L41.17 276.26 L41.51 276.47 L41.84 276.68 L42.17 276.87 L42.51 277.06 L42.84 277.24 L43.17 277.42 L43.51 277.59 L43.84 277.75 L44.17 277.91 L44.51 278.07 L44.84 278.21 L45.17 278.29 L45.51 278.36 L45.84 278.42 L46.17 278.49 L46.51 278.55 L46.84 278.62 L47.17 278.68 L47.51 278.74 L47.84 278.8 L48.17 278.85 L48.51 278.91 L48.84 278.96 L49.18 279.02 L49.51 279.07 L49.84 279.12 L50.18 279.17 L50.51 279.22 L50.84 279.27 L51.18 279.31 L51.51 279.36 L51.84 279.41 L52.18 279.45 L52.51 279.49 L52.84 279.54 L53.18 279.58 L53.51 279.62 L53.84 279.66 L54.18 279.7 L54.51 279.74 L54.84 279.78 L55.18 279.82 L55.51 279.86 L55.84 279.89 L56.18 279.93 L56.51 279.97 L56.84 280 L57.18 280.04 L57.51 280.07 L57.85 280.11 L58.18 280.14 L58.51 280.17 L58.85 280.21 L59.18 280.24 L59.51 280.27 L59.85 280.3 L60.18 280.33 L60.51 280.36 L60.85 280.39 L61.18 280.42 L61.51 280.45 L61.85 280.48 L62.18 280.51 L62.51 280.54 L62.85 280.57 L63.18 280.6 L63.51 280.62 L63.85 280.65 L64.18 280.68 L64.51 280.71 L64.85 280.73 L65.18 280.76 L65.51 280.78 L65.85 280.81 L66.18 280.84 L66.51 280.86 L66.85 280.89 L67.18 280.91 L67.52 280.93 L67.85 280.96 L68.18 280.98 L68.52 281.01 L68.85 281.03 L69.18 281.05 L69.52 281.08 L69.85 281.1 L70.18 281.16 L70.52 281.22 L70.85 281.28 L71.18 281.34 L71.52 281.39 L71.85 281.45 L72.18 281.51 L72.52 281.57 L72.85 281.62 L73.18 281.68 L73.52 281.73 L73.85 281.79 L74.18 281.84 L74.52 281.89 L74.85 281.95 L75.18 282 L75.52 282.05 L75.85 282.1 L76.19 282.16 L76.52 282.21 L76.85 282.26 L77.19 282.31 L77.52 282.36 L77.85 282.41 L78.19 282.46 L78.52 282.51 L78.85 282.55 L79.19 282.6 L79.52 282.65 L79.85 282.7 L80.19 282.75 L80.52 282.79 L80.85 282.84 L81.19 282.89 L81.52 282.93 L81.85 282.98 L82.19 283.02 L82.52 283.07 L82.85 283.11 L83.19 283.16 L83.52 283.2 L83.85 283.24 L84.19 283.29 L84.52 283.33 L84.85 283.37 L85.19 283.42 L85.52 283.46 L85.86 283.5 L86.19 283.54 L86.52 283.58 L86.86 283.62 L87.19 283.67 L87.52 283.71 L87.86 283.75 L88.19 283.79 L88.52 283.83 L88.86 283.87 L89.19 283.91 L89.52 283.94 L89.86 283.98 L90.19 283.99 L90.52 284 L90.86 284.01 L91.19 284.02 L91.52 284.03 L91.86 284.04 L92.19 284.05 L92.52 284.06 L92.86 284.06 L93.19 284.07 L93.52 284.08 L93.86 284.09 L94.19 284.1 L94.53 284.11 L94.86 284.12 L95.19 284.12 L95.53 284.13 L95.86 284.14 L96.19 284.15 L96.53 284.16 L96.86 284.17 L97.19 284.17 L97.53 284.18 L97.86 284.19 L98.19 284.2 L98.53 284.21 L98.86 284.21 L99.19 284.22 L99.53 284.23 L99.86 284.24 L100.19 284.24 L100.53 284.25 L100.86 284.26 L101.19 284.27 L101.53 284.28 L101.86 284.28 L102.19 284.29 L102.53 284.3 L102.86 284.31 L103.19 284.31 L103.53 284.32 L103.86 284.33 L104.2 284.34 L104.53 284.34 L104.86 284.35 L105.2 284.36 L105.53 284.36 L105.86 284.37 L106.2 284.38 L106.53 284.39 L106.86 284.39 L107.2 284.4 L107.53 284.41 L107.86 284.41 L108.2 284.42 L108.53 284.43 L108.86 284.43 L109.2 284.44 L109.53 284.45 L109.86 284.45 L110.2 284.46 L110.53 284.47 L110.86 284.47 L111.2 284.48 L111.53 284.49 L111.86 284.49 L112.2 284.5 L112.53 284.51 L112.87 284.51 L113.2 284.52 L113.53 284.53 L113.87 284.53 L114.2 284.54 L114.53 284.55 L114.87 284.55 L115.2 284.56 L115.53 284.57 L115.87 284.57 L116.2 284.58 L116.53 284.58 L116.87 284.59 L117.2 284.6 L117.53 284.6 L117.87 284.61 L118.2 284.61 L118.53 284.62 L118.87 284.63 L119.2 284.63 L119.53 284.64 L119.87 284.65 L120.2 284.65 L120.53 284.66 L120.87 284.66 L121.2 284.67 L121.53 284.67 L121.87 284.68 L122.2 284.69 L122.54 284.69 L122.87 284.7 L123.2 284.7 L123.54 284.71 L123.87 284.72 L124.2 284.72 L124.54 284.73 L124.87 284.73 L125.2 284.74 L125.54 284.74 L125.87 284.75 L126.2 284.75 L126.54 284.76 L126.87 284.77 L127.2 284.77 L127.54 284.78 L127.87 284.78 L128.2 284.79 L128.54 284.79 L128.87 284.8 L129.2 284.8 L129.54 284.81 L129.87 284.81 L130.2 284.82 L130.54 284.83 L130.87 284.83 L131.21 284.84 L131.54 284.84 L131.87 284.85 L132.21 284.85 L132.54 284.86 L132.87 284.86 L133.21 284.87 L133.54 284.87 L133.87 284.88 L134.21 284.88 L134.54 284.89 L134.87 284.89 L135.21 284.9 L135.54 284.9 L135.87 284.91 L136.21 284.91 L136.54 284.92 L136.87 284.92 L137.21 284.93 L137.54 284.93 L137.87 284.94 L138.21 284.94 L138.54 284.95 L138.87 284.95 L139.21 284.96 L139.54 284.96 L139.87 284.97 L140.21 284.97 L140.54 284.98 L140.88 284.98 L141.21 284.99 L141.54 284.99 L141.88 285 L142.21 285 L142.54 285.01 L142.88 285.01 L143.21 285.02 L143.54 285.02 L143.88 285.02 L144.21 285.03 L144.54 285.03 L144.88 285.04 L145.21 285.04 L145.54 285.05 L145.88 285.05 L146.21 285.06 L146.54 285.06 L146.88 285.07 L147.21 285.07 L147.54 285.08 L147.88 285.08 L148.21 285.08 L148.54 285.09 L148.88 285.09 L149.21 285.1 L149.55 285.1 L149.88 285.11 L150.21 285.11 L150.55 285.12 L150.88 285.12 L151.21 285.12 L151.55 285.13 L151.88 285.13 L152.21 285.14 L152.55 285.14 L152.88 285.15 L153.21 285.15 L153.55 285.16 L153.88 285.16 L154.21 285.16 L154.55 285.17 L154.88 285.17 L155.21 285.18 L155.55 285.18 L155.88 285.18 L156.21 285.19 L156.55 285.19 L156.88 285.2 L157.21 285.2 L157.55 285.21 L157.88 285.21 L158.21 285.21 L158.55 285.22 L158.88 285.22 L159.22 285.23 L159.55 285.23 L159.88 285.23 L160.22 285.24 L160.55 285.24 L160.88 285.25 L161.22 285.25 L161.55 285.25 L161.88 285.26 L162.22 285.26 L162.55 285.27 L162.88 285.27 L163.22 285.27 L163.55 285.28 L163.88 285.28 L164.22 285.29 L164.55 285.29 L164.88 285.29 L165.22 285.3 L165.55 285.3 L165.88 285.31 L166.22 285.31 L166.55 285.31 L166.88 285.32 L167.22 285.32 L167.55 285.33 L167.89 285.33 L168.22 285.33 L168.55 285.34 L168.89 285.34 L169.22 285.35 L169.55 285.35 L169.89 285.35 L170.22 285.36 L170.55 285.36 L170.89 285.36 L171.22 285.37 L171.55 285.37 L171.89 285.38 L172.22 285.38 L172.55 285.38 L172.89 285.39 L173.22 285.39 L173.55 285.39 L173.89 285.4 L174.22 285.4 L174.55 285.4 L174.89 285.41 L175.22 285.41 L175.55 285.42 L175.89 285.42 L176.22 285.42 L176.55 285.43 L176.89 285.43 L177.22 285.43 L177.56 285.44 L177.89 285.44 L178.22 285.44 L178.56 285.45 L178.89 285.45 L179.22 285.46 L179.56 285.46 L179.89 285.46 L180.22 285.47 L180.56 285.47 L180.89 285.47 L181.22 285.48 L181.56 285.48 L181.89 285.48 L182.22 285.49 L182.56 285.49 L182.89 285.49 L183.22 285.5 L183.56 285.5 L183.89 285.5 L184.22 285.51 L184.56 285.51 L184.89 285.51 L185.22 285.52 L185.56 285.52 L185.89 285.52 L186.23 285.53 L186.56 285.53 L186.89 285.53 L187.23 285.54 L187.56 285.54 L187.89 285.54 L188.23 285.55 L188.56 285.55 L188.89 285.55 L189.23 285.56 L189.56 285.56 L189.89 285.56 L190.23 285.57 L190.56 285.57 L190.89 285.57 L191.23 285.58 L191.56 285.58 L191.89 285.58 L192.23 285.59 L192.56 285.59 L192.89 285.59 L193.23 285.6 L193.56 285.6 L193.89 285.6 L194.23 285.61 L194.56 285.61 L194.89 285.61 L195.23 285.62 L195.56 285.62 L195.9 285.62 L196.23 285.63 L196.56 285.63 L196.9 285.63 L197.23 285.64 L197.56 285.64 L197.9 285.64 L198.23 285.65 L198.56 285.65 L198.9 285.65 L199.23 285.65 L199.56 285.66 L199.9 285.66 L200.23 285.66 L200.56 285.67" fill="none" stroke="#2ca02c" stroke-width="1.4" stroke-opacity="0.78" stroke-linejoin="round" />
<path d="M33.84 183.02 L34.17 255.14 L34.5 262.83 L34.84 268.29 L35.17 271.17 L35.5 272.28 L35.84 273.22 L36.17 274.04 L36.5 274.76 L36.84 275.41 L37.17 275.99 L37.5 276.52 L37.84 277.01 L38.17 277.29 L38.5 277.55 L38.84 277.79 L39.17 278.02 L39.51 278.23 L39.84 278.44 L40.17 278.63 L40.51 278.81 L40.84 278.99 L41.17 279.15 L41.51 279.31 L41.84 279.47 L42.17 279.61 L42.51 279.75 L42.84 279.89 L43.17 280.02 L43.51 280.15 L43.84 280.27 L44.17 280.39 L44.51 280.51 L44.84 280.62 L45.17 280.7 L45.51 280.78 L45.84 280.86 L46.17 280.94 L46.51 281.01 L46.84 281.09 L47.17 281.16 L47.51 281.23 L47.84 281.3 L48.17 281.36 L48.51 281.43 L48.84 281.49 L49.18 281.55 L49.51 281.61 L49.84 281.67 L50.18 281.73 L50.51 281.79 L50.84 281.85 L51.18 281.9 L51.51 281.95 L51.84 282.01 L52.18 282.06 L52.51 282.11 L52.84 282.16 L53.18 282.21 L53.51 282.26 L53.84 282.31 L54.18 282.35 L54.51 282.4 L54.84 282.45 L55.18 282.49 L55.51 282.53 L55.84 282.58 L56.18 282.62 L56.51 282.66 L56.84 282.7 L57.18 282.75 L57.51 282.79 L57.85 282.83 L58.18 282.87 L58.51 282.9 L58.85 282.94 L59.18 282.98 L59.51 283.02 L59.85 283.05 L60.18 283.09 L60.51 283.13 L60.85 283.16 L61.18 283.2 L61.51 283.23 L61.85 283.27 L62.18 283.3 L62.51 283.33 L62.85 283.37 L63.18 283.4 L63.51 283.43 L63.85 283.46 L64.18 283.49 L64.51 283.53 L64.85 283.56 L65.18 283.59 L65.51 283.62 L65.85 283.65 L66.18 283.68 L66.51 283.71 L66.85 283.74 L67.18 283.76 L67.52 283.79 L67.85 283.82 L68.18 283.85 L68.52 283.88 L68.85 283.9 L69.18 283.93 L69.52 283.96 L69.85 283.98 L70.18 284.02 L70.52 284.05 L70.85 284.09 L71.18 284.12 L71.52 284.16 L71.85 284.19 L72.18 284.22 L72.52 284.26 L72.85 284.29 L73.18 284.32 L73.52 284.35 L73.85 284.38 L74.18 284.42 L74.52 284.45 L74.85 284.48 L75.18 284.51 L75.52 284.54 L75.85 284.57 L76.19 284.6 L76.52 284.63 L76.85 284.66 L77.19 284.69 L77.52 284.72 L77.85 284.75 L78.19 284.78 L78.52 284.8 L78.85 284.83 L79.19 284.86 L79.52 284.89 L79.85 284.92 L80.19 284.94 L80.52 284.97 L80.85 285 L81.19 285.03 L81.52 285.05 L81.85 285.08 L82.19 285.11 L82.52 285.13 L82.85 285.16 L83.19 285.18 L83.52 285.21 L83.85 285.23 L84.19 285.26 L84.52 285.29 L84.85 285.31 L85.19 285.33 L85.52 285.36 L85.86 285.38 L86.19 285.41 L86.52 285.43 L86.86 285.46 L87.19 285.48 L87.52 285.5 L87.86 285.53 L88.19 285.55 L88.52 285.57 L88.86 285.6 L89.19 285.62 L89.52 285.64 L89.86 285.67 L90.19 285.67 L90.52 285.68 L90.86 285.69 L91.19 285.7 L91.52 285.71 L91.86 285.71 L92.19 285.72 L92.52 285.73 L92.86 285.74 L93.19 285.74 L93.52 285.75 L93.86 285.76 L94.19 285.77 L94.53 285.77 L94.86 285.78 L95.19 285.79 L95.53 285.79 L95.86 285.8 L96.19 285.81 L96.53 285.82 L96.86 285.82 L97.19 285.83 L97.53 285.84 L97.86 285.84 L98.19 285.85 L98.53 285.86 L98.86 285.86 L99.19 285.87 L99.53 285.88 L99.86 285.88 L100.19 285.89 L100.53 285.9 L100.86 285.9 L101.19 285.91 L101.53 285.92 L101.86 285.92 L102.19 285.93 L102.53 285.94 L102.86 285.94 L103.19 285.95 L103.53 285.96 L103.86 285.96 L104.2 285.97 L104.53 285.97 L104.86 285.98 L105.2 285.99 L105.53 285.99 L105.86 286 L106.2 286 L106.53 286.01 L106.86 286.02 L107.2 286.02 L107.53 286.03 L107.86 286.03 L108.2 286.04 L108.53 286.05 L108.86 286.05 L109.2 286.06 L109.53 286.06 L109.86 286.07 L110.2 286.08 L110.53 286.08 L110.86 286.09 L111.2 286.09 L111.53 286.1 L111.86 286.1 L112.2 286.11 L112.53 286.12 L112.87 286.12 L113.2 286.13 L113.53 286.13 L113.87 286.14 L114.2 286.14 L114.53 286.15 L114.87 286.15 L115.2 286.16 L115.53 286.17 L115.87 286.17 L116.2 286.18 L116.53 286.18 L116.87 286.19 L117.2 286.19 L117.53 286.2 L117.87 286.2 L118.2 286.21 L118.53 286.21 L118.87 286.22 L119.2 286.22 L119.53 286.23 L119.87 286.23 L120.2 286.24 L120.53 286.24 L120.87 286.25 L121.2 286.25 L121.53 286.26 L121.87 286.26 L122.2 286.27 L122.54 286.27 L122.87 286.28 L123.2 286.28 L123.54 286.29 L123.87 286.29 L124.2 286.3 L124.54 286.3 L124.87 286.31 L125.2 286.31 L125.54 286.32 L125.87 286.32 L126.2 286.33 L126.54 286.33 L126.87 286.34 L127.2 286.34 L127.54 286.35 L127.87 286.35 L128.2 286.36 L128.54 286.36 L128.87 286.37 L129.2 286.37 L129.54 286.37 L129.87 286.38 L130.2 286.38 L130.54 286.39 L130.87 286.39 L131.21 286.4 L131.54 286.4 L131.87 286.41 L132.21 286.41 L132.54 286.42 L132.87 286.42 L133.21 286.42 L133.54 286.43 L133.87 286.43 L134.21 286.44 L134.54 286.44 L134.87 286.45 L135.21 286.45 L135.54 286.45 L135.87 286.46 L136.21 286.46 L136.54 286.47 L136.87 286.47 L137.21 286.48 L137.54 286.48 L137.87 286.48 L138.21 286.49 L138.54 286.49 L138.87 286.5 L139.21 286.5 L139.54 286.51 L139.87 286.51 L140.21 286.51 L140.54 286.52 L140.88 286.52 L141.21 286.53 L141.54 286.53 L141.88 286.53 L142.21 286.54 L142.54 286.54 L142.88 286.55 L143.21 286.55 L143.54 286.56 L143.88 286.56 L144.21 286.56 L144.54 286.57 L144.88 286.57 L145.21 286.57 L145.54 286.58 L145.88 286.58 L146.21 286.59 L146.54 286.59 L146.88 286.59 L147.21 286.6 L147.54 286.6 L147.88 286.61 L148.21 286.61 L148.54 286.61 L148.88 286.62 L149.21 286.62 L149.55 286.63 L149.88 286.63 L150.21 286.63 L150.55 286.64 L150.88 286.64 L151.21 286.64 L151.55 286.65 L151.88 286.65 L152.21 286.66 L152.55 286.66 L152.88 286.66 L153.21 286.67 L153.55 286.67 L153.88 286.67 L154.21 286.68 L154.55 286.68 L154.88 286.69 L155.21 286.69 L155.55 286.69 L155.88 286.7 L156.21 286.7 L156.55 286.7 L156.88 286.71 L157.21 286.71 L157.55 286.71 L157.88 286.72 L158.21 286.72 L158.55 286.72 L158.88 286.73 L159.22 286.73 L159.55 286.74 L159.88 286.74 L160.22 286.74 L160.55 286.75 L160.88 286.75 L161.22 286.75 L161.55 286.76 L161.88 286.76 L162.22 286.76 L162.55 286.77 L162.88 286.77 L163.22 286.77 L163.55 286.78 L163.88 286.78 L164.22 286.78 L164.55 286.79 L164.88 286.79 L165.22 286.79 L165.55 286.8 L165.88 286.8 L166.22 286.8 L166.55 286.81 L166.88 286.81 L167.22 286.81 L167.55 286.82 L167.89 286.82 L168.22 286.82 L168.55 286.83 L168.89 286.83 L169.22 286.83 L169.55 286.84 L169.89 286.84 L170.22 286.84 L170.55 286.85 L170.89 286.85 L171.22 286.85 L171.55 286.86 L171.89 286.86 L172.22 286.86 L172.55 286.87 L172.89 286.87 L173.22 286.87 L173.55 286.88 L173.89 286.88 L174.22 286.88 L174.55 286.88 L174.89 286.89 L175.22 286.89 L175.55 286.89 L175.89 286.9 L176.22 286.9 L176.55 286.9 L176.89 286.91 L177.22 286.91 L177.56 286.91 L177.89 286.92 L178.22 286.92 L178.56 286.92 L178.89 286.92 L179.22 286.93 L179.56 286.93 L179.89 286.93 L180.22 286.94 L180.56 286.94 L180.89 286.94 L181.22 286.95 L181.56 286.95 L181.89 286.95 L182.22 286.95 L182.56 286.96 L182.89 286.96 L183.22 286.96 L183.56 286.97 L183.89 286.97 L184.22 286.97 L184.56 286.98 L184.89 286.98 L185.22 286.98 L185.56 286.98 L185.89 286.99 L186.23 286.99 L186.56 286.99 L186.89 287 L187.23 287 L187.56 287 L187.89 287 L188.23 287.01 L188.56 287.01 L188.89 287.01 L189.23 287.02 L189.56 287.02 L189.89 287.02 L190.23 287.02 L190.56 287.03 L190.89 287.03 L191.23 287.03 L191.56 287.04 L191.89 287.04 L192.23 287.04 L192.56 287.04 L192.89 287.05 L193.23 287.05 L193.56 287.05 L193.89 287.06 L194.23 287.06 L194.56 287.06 L194.89 287.06 L195.23 287.07 L195.56 287.07 L195.9 287.07 L196.23 287.07 L196.56 287.08 L196.9 287.08 L197.23 287.08 L197.56 287.09 L197.9 287.09 L198.23 287.09 L198.56 287.09 L198.9 287.1 L199.23 287.1 L199.56 287.1 L199.9 287.1 L200.23 287.11 L200.56 287.11" fill="none" stroke="#d62728" stroke-width="1.4" stroke-opacity="0.78" stroke-linejoin="round" />
<path d="M33.84 247.92 L34.17 221.48 L34.5 217.35 L34.84 214.31 L35.17 212.37 L35.5 209.8 L35.84 208.82 L36.17 208.24 L36.5 207.63 L36.84 207.62 L37.17 207.3 L37.5 207 L37.84 206.49 L38.17 205.95 L38.5 206.14 L38.84 206.15 L39.17 205.67 L39.51 205.69 L39.84 205.42 L40.17 205.05 L40.51 205.25 L40.84 204.97 L41.17 204.99 L41.51 204.73 L41.84 204.53 L42.17 204.63 L42.51 204.4 L42.84 204.27 L43.17 204.23 L43.51 204.23 L43.84 204.17 L44.17 203.84 L44.51 203.77 L44.84 203.22 L45.17 203.98 L45.51 203.43 L45.84 203.35 L46.17 203.13 L46.51 203.25 L46.84 203.46 L47.17 203.27 L47.51 203.14 L47.84 203.26 L48.17 203.04 L48.51 203.48 L48.84 202.8 L49.18 202.82 L49.51 203.12 L49.84 202.92 L50.18 202.99 L50.51 203.12 L50.84 202.93 L51.18 202.74 L51.51 202.96 L51.84 202.94 L52.18 202.86 L52.51 202.74 L52.84 202.57 L53.18 202.89 L53.51 202.66 L53.84 202.69 L54.18 203.04 L54.51 202.76 L54.84 202.69 L55.18 202.65 L55.51 202.56 L55.84 202.97 L56.18 202.57 L56.51 202.68 L56.84 202.8 L57.18 202.43 L57.51 202.37 L57.85 202.6 L58.18 202.31 L58.51 202.52 L58.85 202.42 L59.18 202.61 L59.51 202.11 L59.85 202.86 L60.18 202.38 L60.51 202.22 L60.85 202.69 L61.18 202.34 L61.51 202.31 L61.85 202.13 L62.18 202.04 L62.51 202.32 L62.85 202.48 L63.18 201.97 L63.51 201.98 L63.85 202.27 L64.18 202.1 L64.51 202.08 L64.85 202.04 L65.18 202.09 L65.51 201.86 L65.85 202.41 L66.18 201.89 L66.51 202 L66.85 202.09 L67.18 201.83 L67.52 202.45 L67.85 201.8 L68.18 201.93 L68.52 202.19 L68.85 201.9 L69.18 202.02 L69.52 201.48 L69.85 201.61 L70.18 201.84 L70.52 202.04 L70.85 202 L71.18 201.95 L71.52 201.96 L71.85 201.99 L72.18 201.9 L72.52 201.82 L72.85 201.83 L73.18 201.83 L73.52 201.84 L73.85 201.19 L74.18 201.88 L74.52 201.77 L74.85 201.48 L75.18 201.59 L75.52 201.43 L75.85 201.33 L76.19 201.22 L76.52 201.29 L76.85 201.57 L77.19 201.17 L77.52 201.66 L77.85 201.34 L78.19 201.38 L78.52 201.45 L78.85 201.13 L79.19 201.24 L79.52 201 L79.85 201.43 L80.19 200.98 L80.52 201.02 L80.85 201.06 L81.19 201.32 L81.52 201.08 L81.85 201.29 L82.19 201.36 L82.52 200.37 L82.85 200.77 L83.19 200.59 L83.52 200.97 L83.85 200.74 L84.19 200.72 L84.52 200.72 L84.85 200.8 L85.19 200.82 L85.52 201.13 L85.86 200.62 L86.19 200.64 L86.52 200.49 L86.86 200.72 L87.19 200.33 L87.52 200.7 L87.86 200.83 L88.19 200.41 L88.52 200.64 L88.86 200.76 L89.19 200.49 L89.52 200.36 L89.86 200.43 L90.19 200.36 L90.52 199.69 L90.86 200.27 L91.19 200.12 L91.52 200.73 L91.86 200.29 L92.19 200.19 L92.52 200.38 L92.86 200.45 L93.19 200.2 L93.52 200.31 L93.86 200.34 L94.19 200.01 L94.53 199.96 L94.86 200.12 L95.19 200.24 L95.53 200.05 L95.86 199.97 L96.19 199.99 L96.53 200.34 L96.86 200.13 L97.19 199.98 L97.53 199.92 L97.86 199.84 L98.19 199.85 L98.53 200.18 L98.86 200.08 L99.19 200.16 L99.53 199.59 L99.86 199.87 L100.19 199.78 L100.53 199.68 L100.86 199.91 L101.19 200.04 L101.53 199.89 L101.86 199.82 L102.19 199.51 L102.53 199.61 L102.86 199.94 L103.19 199.61 L103.53 199.58 L103.86 199.89 L104.2 199.7 L104.53 200 L104.86 199.59 L105.2 199.69 L105.53 199.86 L105.86 199.72 L106.2 199.54 L106.53 199.67 L106.86 199.5 L107.2 199.43 L107.53 199.67 L107.86 199.56 L108.2 199.1 L108.53 199.45 L108.86 199.61 L109.2 199.43 L109.53 199.67 L109.86 199.21 L110.2 199.33 L110.53 199.18 L110.86 199.2 L111.2 199.28 L111.53 199.16 L111.86 199.28 L112.2 199.42 L112.53 199.47 L112.87 199.36 L113.2 199.71 L113.53 198.92 L113.87 199.54 L114.2 199.23 L114.53 199.44 L114.87 199.55 L115.2 199.19 L115.53 199.21 L115.87 199.17 L116.2 199.03 L116.53 199.23 L116.87 199.03 L117.2 199 L117.53 199.13 L117.87 199.11 L118.2 198.95 L118.53 199.02 L118.87 198.99 L119.2 199.43 L119.53 198.98 L119.87 198.91 L120.2 198.99 L120.53 198.89 L120.87 198.59 L121.2 198.91 L121.53 198.79 L121.87 199.05 L122.2 199.04 L122.54 198.96 L122.87 199.04 L123.2 198.85 L123.54 199 L123.87 198.85 L124.2 199.06 L124.54 199.09 L124.87 198.9 L125.2 198.96 L125.54 198.87 L125.87 198.85 L126.2 198.79 L126.54 198.53 L126.87 198.46 L127.2 198.56 L127.54 198.74 L127.87 198.4 L128.2 198.93 L128.54 199.01 L128.87 198.59 L129.2 198.63 L129.54 198.64 L129.87 198.61 L130.2 198.9 L130.54 198.81 L130.87 198.37 L131.21 198.4 L131.54 198.71 L131.87 198.22 L132.21 198.75 L132.54 198.66 L132.87 198.49 L133.21 198.76 L133.54 198.62 L133.87 198.56 L134.21 198.59 L134.54 198.35 L134.87 198.4 L135.21 198.7 L135.54 198.61 L135.87 198.45 L136.21 198.49 L136.54 198.61 L136.87 198.39 L137.21 198.31 L137.54 198.56 L137.87 198.3 L138.21 198.73 L138.54 198.72 L138.87 198.33 L139.21 198.57 L139.54 198.59 L139.87 198.45 L140.21 198.52 L140.54 198.33 L140.88 198.64 L141.21 198.44 L141.54 197.8 L141.88 198.34 L142.21 198.7 L142.54 198.24 L142.88 198.24 L143.21 198.09 L143.54 198.3 L143.88 198.44 L144.21 198.06 L144.54 198.18 L144.88 198.63 L145.21 198.16 L145.54 198.33 L145.88 198.08 L146.21 198.35 L146.54 198.13 L146.88 198.23 L147.21 198.15 L147.54 198.26 L147.88 198.32 L148.21 198.23 L148.54 198.12 L148.88 198.15 L149.21 197.93 L149.55 198.14 L149.88 198.1 L150.21 197.83 L150.55 198.19 L150.88 198.1 L151.21 198.29 L151.55 198.17 L151.88 197.88 L152.21 198.11 L152.55 197.9 L152.88 198.35 L153.21 198.4 L153.55 198.09 L153.88 198.39 L154.21 197.65 L154.55 197.9 L154.88 198.35 L155.21 198.14 L155.55 198.21 L155.88 198.03 L156.21 198.11 L156.55 197.92 L156.88 197.82 L157.21 198.12 L157.55 198.29 L157.88 197.97 L158.21 198.09 L158.55 197.85 L158.88 198.08 L159.22 197.9 L159.55 197.98 L159.88 198.07 L160.22 198.11 L160.55 197.89 L160.88 197.56 L161.22 197.86 L161.55 198.03 L161.88 197.87 L162.22 197.98 L162.55 198.22 L162.88 197.93 L163.22 197.7 L163.55 198.03 L163.88 198.17 L164.22 197.87 L164.55 197.63 L164.88 197.78 L165.22 197.76 L165.55 197.53 L165.88 197.64 L166.22 197.8 L166.55 197.96 L166.88 197.89 L167.22 197.93 L167.55 197.76 L167.89 198.06 L168.22 197.62 L168.55 197.87 L168.89 197.96 L169.22 197.74 L169.55 198.25 L169.89 198.02 L170.22 197.99 L170.55 197.71 L170.89 197.94 L171.22 197.59 L171.55 197.93 L171.89 197.75 L172.22 197.96 L172.55 197.62 L172.89 197.87 L173.22 197.73 L173.55 197.9 L173.89 198.01 L174.22 197.85 L174.55 197.6 L174.89 197.98 L175.22 198.07 L175.55 197.84 L175.89 197.64 L176.22 197.97 L176.55 197.87 L176.89 197.73 L177.22 197.82 L177.56 197.7 L177.89 197.54 L178.22 197.74 L178.56 197.75 L178.89 197.6 L179.22 197.74 L179.56 197.9 L179.89 197.9 L180.22 197.92 L180.56 197.37 L180.89 197.72 L181.22 197.6 L181.56 197.57 L181.89 197.86 L182.22 197.57 L182.56 197.78 L182.89 198.05 L183.22 197.71 L183.56 197.86 L183.89 197.72 L184.22 197.6 L184.56 197.24 L184.89 197.74 L185.22 197.67 L185.56 197.57 L185.89 197.6 L186.23 197.66 L186.56 197.82 L186.89 197.79 L187.23 197.65 L187.56 197.82 L187.89 197.73 L188.23 197.83 L188.56 197.4 L188.89 197.86 L189.23 197.25 L189.56 197.69 L189.89 197.77 L190.23 197.79 L190.56 197.43 L190.89 197.38 L191.23 197.72 L191.56 197.5 L191.89 197.58 L192.23 197.59 L192.56 197.52 L192.89 197.4 L193.23 197.88 L193.56 197.93 L193.89 197.49 L194.23 197.54 L194.56 197.39 L194.89 197.82 L195.23 197.69 L195.56 197.23 L195.9 197.74 L196.23 197.43 L196.56 197.63 L196.9 197.56 L197.23 197.73 L197.56 197.26 L197.9 197.82 L198.23 197.69 L198.56 197.63 L198.9 197.25 L199.23 197.4 L199.56 197.33 L199.9 197.45 L200.23 197.4 L200.56 197.35" fill="none" stroke="#1f77b4" stroke-width="1.4" stroke-opacity="0.78" stroke-linejoin="round" />
<path d="M33.84 239.51 L34.17 209.46 L34.5 204.51 L34.84 201.43 L35.17 199.17 L35.5 196.6 L35.84 195.02 L36.17 194.7 L36.5 194.05 L36.84 193.77 L37.17 192.84 L37.5 192.92 L37.84 192.9 L38.17 192.18 L38.5 192.11 L38.84 191.47 L39.17 191.43 L39.51 191.54 L39.84 191.1 L40.17 190.99 L40.51 190.74 L40.84 190.53 L41.17 190.6 L41.51 190.03 L41.84 190.05 L42.17 189.9 L42.51 189.45 L42.84 189.1 L43.17 189.41 L43.51 188.83 L43.84 189.4 L44.17 188.8 L44.51 188.88 L44.84 188.67 L45.17 188.72 L45.51 188.53 L45.84 188.43 L46.17 188.38 L46.51 188.2 L46.84 187.8 L47.17 188.29 L47.51 188.15 L47.84 188.39 L48.17 188.49 L48.51 187.74 L48.84 188.19 L49.18 188.04 L49.51 187.86 L49.84 187.66 L50.18 187.73 L50.51 187.41 L50.84 187.74 L51.18 188 L51.51 187.61 L51.84 187.58 L52.18 187.71 L52.51 187.59 L52.84 187.6 L53.18 187.15 L53.51 187.54 L53.84 187.65 L54.18 187.32 L54.51 187.67 L54.84 187.23 L55.18 187.2 L55.51 187.4 L55.84 187.32 L56.18 187.3 L56.51 186.87 L56.84 187.06 L57.18 187.32 L57.51 187.3 L57.85 187.06 L58.18 187.03 L58.51 187.14 L58.85 186.92 L59.18 186.98 L59.51 186.73 L59.85 186.82 L60.18 186.89 L60.51 186.82 L60.85 186.98 L61.18 186.64 L61.51 186.71 L61.85 186.83 L62.18 186.71 L62.51 186.81 L62.85 186.24 L63.18 186.75 L63.51 186.55 L63.85 186.56 L64.18 186.74 L64.51 186.58 L64.85 186.62 L65.18 186.49 L65.51 186.47 L65.85 186.36 L66.18 186.34 L66.51 186.53 L66.85 186.53 L67.18 186.53 L67.52 186.56 L67.85 186.7 L68.18 186.25 L68.52 186.36 L68.85 186.36 L69.18 186.61 L69.52 186.56 L69.85 186.72 L70.18 186.27 L70.52 186.12 L70.85 186.11 L71.18 186.22 L71.52 186.38 L71.85 186.17 L72.18 186.15 L72.52 186.01 L72.85 185.98 L73.18 186.15 L73.52 186.09 L73.85 185.95 L74.18 185.97 L74.52 186.07 L74.85 186.42 L75.18 186.13 L75.52 185.84 L75.85 185.95 L76.19 185.79 L76.52 186.01 L76.85 185.92 L77.19 185.78 L77.52 185.78 L77.85 185.82 L78.19 185.68 L78.52 185.63 L78.85 185.6 L79.19 186.14 L79.52 185.91 L79.85 185.87 L80.19 185.86 L80.52 186.08 L80.85 185.54 L81.19 185.94 L81.52 185.73 L81.85 186.17 L82.19 185.81 L82.52 185.75 L82.85 185.86 L83.19 185.55 L83.52 185.24 L83.85 185.81 L84.19 185.8 L84.52 185.31 L84.85 185.52 L85.19 185.66 L85.52 185.82 L85.86 185.45 L86.19 185.53 L86.52 185.28 L86.86 185.7 L87.19 185.57 L87.52 185.58 L87.86 185.55 L88.19 185.31 L88.52 185.34 L88.86 185.59 L89.19 185.48 L89.52 185.5 L89.86 185.28 L90.19 185.46 L90.52 185.62 L90.86 185.47 L91.19 185.41 L91.52 185.22 L91.86 185.15 L92.19 185.13 L92.52 185.29 L92.86 185.44 L93.19 185.23 L93.52 185.36 L93.86 185.43 L94.19 185.25 L94.53 185.22 L94.86 185.13 L95.19 185.44 L95.53 185.56 L95.86 185.16 L96.19 185.42 L96.53 185.05 L96.86 185.42 L97.19 185.32 L97.53 185.53 L97.86 184.83 L98.19 185.27 L98.53 185.19 L98.86 185.26 L99.19 185.2 L99.53 185 L99.86 185.12 L100.19 185.13 L100.53 184.9 L100.86 185.35 L101.19 184.9 L101.53 184.8 L101.86 185.33 L102.19 185.02 L102.53 185.3 L102.86 185.44 L103.19 185.2 L103.53 184.94 L103.86 184.89 L104.2 185.09 L104.53 185.17 L104.86 185.08 L105.2 185.12 L105.53 185.1 L105.86 185.41 L106.2 185.01 L106.53 184.98 L106.86 184.56 L107.2 184.82 L107.53 184.96 L107.86 184.91 L108.2 184.86 L108.53 185.03 L108.86 185.27 L109.2 185.02 L109.53 184.92 L109.86 184.85 L110.2 185 L110.53 185.02 L110.86 184.9 L111.2 184.83 L111.53 184.73 L111.86 184.87 L112.2 184.74 L112.53 184.99 L112.87 184.66 L113.2 184.8 L113.53 185.03 L113.87 184.82 L114.2 184.75 L114.53 184.95 L114.87 184.62 L115.2 184.81 L115.53 184.66 L115.87 184.91 L116.2 184.67 L116.53 184.59 L116.87 184.79 L117.2 184.74 L117.53 184.8 L117.87 184.63 L118.2 184.67 L118.53 184.58 L118.87 184.68 L119.2 184.89 L119.53 184.89 L119.87 184.72 L120.2 184.55 L120.53 184.22 L120.87 184.46 L121.2 184.72 L121.53 184.97 L121.87 184.51 L122.2 184.59 L122.54 184.8 L122.87 184.42 L123.2 184.57 L123.54 184.64 L123.87 184.9 L124.2 184.38 L124.54 184.53 L124.87 184.58 L125.2 184.7 L125.54 184.59 L125.87 184.29 L126.2 184.41 L126.54 184.14 L126.87 184.3 L127.2 184.43 L127.54 184.32 L127.87 184.44 L128.2 184.73 L128.54 184.57 L128.87 184.4 L129.2 184.62 L129.54 184.54 L129.87 184.67 L130.2 184.14 L130.54 184.68 L130.87 184.62 L131.21 184.59 L131.54 184.25 L131.87 184.22 L132.21 184.52 L132.54 184.31 L132.87 184.57 L133.21 184.41 L133.54 183.93 L133.87 184.23 L134.21 184.41 L134.54 184.63 L134.87 184.45 L135.21 184.63 L135.54 184.78 L135.87 184.27 L136.21 184.27 L136.54 184.34 L136.87 184.19 L137.21 184.67 L137.54 184.11 L137.87 184.55 L138.21 184.29 L138.54 184.27 L138.87 184.15 L139.21 183.99 L139.54 184.28 L139.87 184.41 L140.21 184.54 L140.54 184.29 L140.88 184.48 L141.21 184.57 L141.54 184.36 L141.88 184.2 L142.21 184.37 L142.54 184.5 L142.88 184.28 L143.21 184.53 L143.54 184.58 L143.88 184.04 L144.21 184.25 L144.54 183.94 L144.88 184.56 L145.21 184.1 L145.54 184.31 L145.88 183.8 L146.21 184.32 L146.54 184.35 L146.88 184.19 L147.21 184.23 L147.54 184.35 L147.88 184.1 L148.21 184.13 L148.54 184.1 L148.88 184.18 L149.21 184.38 L149.55 184.37 L149.88 184.14 L150.21 184.41 L150.55 183.93 L150.88 184.23 L151.21 184.37 L151.55 184.04 L151.88 184.23 L152.21 184.01 L152.55 184.18 L152.88 183.9 L153.21 184.28 L153.55 184.6 L153.88 184.48 L154.21 184.5 L154.55 184.09 L154.88 183.87 L155.21 184.23 L155.55 184.43 L155.88 184.07 L156.21 184.1 L156.55 184.25 L156.88 184.11 L157.21 184.18 L157.55 184.38 L157.88 184.05 L158.21 184.26 L158.55 184.34 L158.88 184.21 L159.22 183.88 L159.55 183.8 L159.88 183.9 L160.22 184.24 L160.55 184.33 L160.88 184.08 L161.22 184.17 L161.55 184.12 L161.88 184.34 L162.22 184.3 L162.55 184.33 L162.88 183.99 L163.22 183.94 L163.55 184.25 L163.88 184.02 L164.22 184 L164.55 184.25 L164.88 184.11 L165.22 183.96 L165.55 184.29 L165.88 183.88 L166.22 184.14 L166.55 184.09 L166.88 184.14 L167.22 184.36 L167.55 184.03 L167.89 184.09 L168.22 184.16 L168.55 184.12 L168.89 184.01 L169.22 184.11 L169.55 184.17 L169.89 184.06 L170.22 183.93 L170.55 184.06 L170.89 184.21 L171.22 183.91 L171.55 184.11 L171.89 183.95 L172.22 184.08 L172.55 184.22 L172.89 184.28 L173.22 184.21 L173.55 184.09 L173.89 184.45 L174.22 183.97 L174.55 183.84 L174.89 184.08 L175.22 184.23 L175.55 184.33 L175.89 183.99 L176.22 183.95 L176.55 184.01 L176.89 183.89 L177.22 184.14 L177.56 184.06 L177.89 183.96 L178.22 184.05 L178.56 183.92 L178.89 183.92 L179.22 184.05 L179.56 184.17 L179.89 184.13 L180.22 183.8 L180.56 184.21 L180.89 183.98 L181.22 184.17 L181.56 183.57 L181.89 184.1 L182.22 183.87 L182.56 184.15 L182.89 183.4 L183.22 184.22 L183.56 183.91 L183.89 184.2 L184.22 183.82 L184.56 184.19 L184.89 184.04 L185.22 184.25 L185.56 184.03 L185.89 183.96 L186.23 183.64 L186.56 184.37 L186.89 183.85 L187.23 183.94 L187.56 184.05 L187.89 183.98 L188.23 183.87 L188.56 183.94 L188.89 183.94 L189.23 184.07 L189.56 184 L189.89 183.84 L190.23 184.09 L190.56 184.02 L190.89 183.91 L191.23 183.86 L191.56 183.85 L191.89 183.95 L192.23 184.28 L192.56 183.77 L192.89 183.73 L193.23 183.69 L193.56 183.84 L193.89 183.75 L194.23 183.95 L194.56 184.1 L194.89 183.93 L195.23 183.94 L195.56 183.71 L195.9 183.74 L196.23 183.98 L196.56 183.96 L196.9 183.89 L197.23 183.87 L197.56 183.62 L197.9 183.96 L198.23 183.64 L198.56 184.12 L198.9 183.99 L199.23 183.57 L199.56 183.8 L199.9 183.85 L200.23 183.76 L200.56 183.9" fill="none" stroke="#ff7f0e" stroke-width="1.4" stroke-opacity="0.78" stroke-linejoin="round" />
<path d="M33.84 231.1 L34.17 203.45 L34.5 198.78 L34.84 195.43 L35.17 192.86 L35.5 190.74 L35.84 189.13 L36.17 188.48 L36.5 188.24 L36.84 187.62 L37.17 187.4 L37.5 187.01 L37.84 186.71 L38.17 186.62 L38.5 186.33 L38.84 186.02 L39.17 185.69 L39.51 185.4 L39.84 185.37 L40.17 185.3 L40.51 184.95 L40.84 184.83 L41.17 184.53 L41.51 184.29 L41.84 184.01 L42.17 184.51 L42.51 184.16 L42.84 183.96 L43.17 183.67 L43.51 183.57 L43.84 183.56 L44.17 183.31 L44.51 183.44 L44.84 183.3 L45.17 183.07 L45.51 183.21 L45.84 182.69 L46.17 183.07 L46.51 183.08 L46.84 182.77 L47.17 183.13 L47.51 182.82 L47.84 182.73 L48.17 182.43 L48.51 182.07 L48.84 182.55 L49.18 182.77 L49.51 182.46 L49.84 182.35 L50.18 182.6 L50.51 182.33 L50.84 182.08 L51.18 182.24 L51.51 182.43 L51.84 182.36 L52.18 182.52 L52.51 182.28 L52.84 182.27 L53.18 181.89 L53.51 182.38 L53.84 182.36 L54.18 182.01 L54.51 181.91 L54.84 182.09 L55.18 181.93 L55.51 181.82 L55.84 181.78 L56.18 181.82 L56.51 181.76 L56.84 182.11 L57.18 181.66 L57.51 181.76 L57.85 181.9 L58.18 181.8 L58.51 181.76 L58.85 181.78 L59.18 181.69 L59.51 181.71 L59.85 181.88 L60.18 181.21 L60.51 181.5 L60.85 181.15 L61.18 181.58 L61.51 181.22 L61.85 181.51 L62.18 181.18 L62.51 181.28 L62.85 181.29 L63.18 181.43 L63.51 181.34 L63.85 181.12 L64.18 181.7 L64.51 181.45 L64.85 181.53 L65.18 181.45 L65.51 181.16 L65.85 181.1 L66.18 181.26 L66.51 181.01 L66.85 181.32 L67.18 181.28 L67.52 181.13 L67.85 181.07 L68.18 181.15 L68.52 181.3 L68.85 180.99 L69.18 180.77 L69.52 181.12 L69.85 181.03 L70.18 181.22 L70.52 181.01 L70.85 181.15 L71.18 180.94 L71.52 180.69 L71.85 180.86 L72.18 181.08 L72.52 180.79 L72.85 181.24 L73.18 180.7 L73.52 180.86 L73.85 181.09 L74.18 180.95 L74.52 181.05 L74.85 180.52 L75.18 180.77 L75.52 181.04 L75.85 180.97 L76.19 180.82 L76.52 180.94 L76.85 180.79 L77.19 180.75 L77.52 181.07 L77.85 180.7 L78.19 180.5 L78.52 180.73 L78.85 180.67 L79.19 180.87 L79.52 180.86 L79.85 180.7 L80.19 180.91 L80.52 181.03 L80.85 180.59 L81.19 180.85 L81.52 180.68 L81.85 180.7 L82.19 180.64 L82.52 180.59 L82.85 180.6 L83.19 180.74 L83.52 180.53 L83.85 180.74 L84.19 180.6 L84.52 180.77 L84.85 180.64 L85.19 180.8 L85.52 180.39 L85.86 180.57 L86.19 180.76 L86.52 180.94 L86.86 180.74 L87.19 180.37 L87.52 180.72 L87.86 180.42 L88.19 180.63 L88.52 180.64 L88.86 180.76 L89.19 180.52 L89.52 180.38 L89.86 180.42 L90.19 180.46 L90.52 180.73 L90.86 180.52 L91.19 180.74 L91.52 180.68 L91.86 180.46 L92.19 180.71 L92.52 180.43 L92.86 180.56 L93.19 180.24 L93.52 180.53 L93.86 180.4 L94.19 180.31 L94.53 180.38 L94.86 180.36 L95.19 180.78 L95.53 180.31 L95.86 180.75 L96.19 180.58 L96.53 180.89 L96.86 180.51 L97.19 180.56 L97.53 180.48 L97.86 180.61 L98.19 180.46 L98.53 180.55 L98.86 180.45 L99.19 180.26 L99.53 180.8 L99.86 180.41 L100.19 180.42 L100.53 180.67 L100.86 180.46 L101.19 180.13 L101.53 180.31 L101.86 180.47 L102.19 180.23 L102.53 180.3 L102.86 180.59 L103.19 180.42 L103.53 180.35 L103.86 180.34 L104.2 180.27 L104.53 180.33 L104.86 180.32 L105.2 180.42 L105.53 180.38 L105.86 180.4 L106.2 180.21 L106.53 180.32 L106.86 180.4 L107.2 180.16 L107.53 179.85 L107.86 180.31 L108.2 180.05 L108.53 180.36 L108.86 180.22 L109.2 180.09 L109.53 180.05 L109.86 179.86 L110.2 180.33 L110.53 180.22 L110.86 179.98 L111.2 179.99 L111.53 180.37 L111.86 180.21 L112.2 180.03 L112.53 179.98 L112.87 180.37 L113.2 180.13 L113.53 180.59 L113.87 180 L114.2 179.86 L114.53 180.37 L114.87 180.21 L115.2 180.42 L115.53 180.25 L115.87 180.06 L116.2 180.05 L116.53 180.08 L116.87 180.4 L117.2 180.29 L117.53 179.8 L117.87 180.09 L118.2 180.21 L118.53 180.08 L118.87 180.23 L119.2 180.09 L119.53 180.25 L119.87 180.23 L120.2 180.39 L120.53 179.79 L120.87 179.97 L121.2 179.98 L121.53 179.93 L121.87 180.11 L122.2 180.28 L122.54 179.99 L122.87 179.95 L123.2 179.97 L123.54 180.14 L123.87 180.34 L124.2 179.92 L124.54 179.98 L124.87 180.06 L125.2 180.09 L125.54 180.07 L125.87 180.14 L126.2 180.3 L126.54 180.05 L126.87 180.11 L127.2 179.97 L127.54 180.08 L127.87 179.97 L128.2 180.23 L128.54 179.93 L128.87 179.64 L129.2 180.03 L129.54 179.9 L129.87 179.85 L130.2 179.94 L130.54 179.96 L130.87 180.29 L131.21 180.15 L131.54 179.73 L131.87 179.97 L132.21 179.96 L132.54 179.65 L132.87 180.31 L133.21 179.81 L133.54 179.88 L133.87 180.35 L134.21 180.11 L134.54 179.92 L134.87 180.12 L135.21 180.13 L135.54 179.89 L135.87 180.03 L136.21 179.96 L136.54 180.02 L136.87 179.97 L137.21 179.94 L137.54 179.59 L137.87 179.92 L138.21 180.12 L138.54 179.92 L138.87 179.94 L139.21 179.39 L139.54 180.24 L139.87 179.86 L140.21 179.94 L140.54 179.71 L140.88 180.17 L141.21 180.21 L141.54 179.92 L141.88 179.83 L142.21 179.9 L142.54 179.87 L142.88 179.99 L143.21 179.8 L143.54 179.96 L143.88 180.07 L144.21 179.71 L144.54 180.13 L144.88 180.27 L145.21 180.05 L145.54 180 L145.88 179.99 L146.21 180.03 L146.54 179.91 L146.88 180.03 L147.21 180.13 L147.54 179.72 L147.88 180 L148.21 179.77 L148.54 179.94 L148.88 179.88 L149.21 179.69 L149.55 180.3 L149.88 179.76 L150.21 179.96 L150.55 179.81 L150.88 180.05 L151.21 179.96 L151.55 179.99 L151.88 180.16 L152.21 179.97 L152.55 179.64 L152.88 179.73 L153.21 179.71 L153.55 180 L153.88 179.99 L154.21 180.04 L154.55 180.33 L154.88 180 L155.21 180.09 L155.55 179.8 L155.88 179.79 L156.21 179.88 L156.55 180.12 L156.88 180.06 L157.21 179.71 L157.55 179.9 L157.88 179.77 L158.21 180.03 L158.55 179.78 L158.88 180.01 L159.22 180.04 L159.55 179.9 L159.88 180.08 L160.22 180.16 L160.55 179.7 L160.88 179.82 L161.22 180.03 L161.55 179.95 L161.88 179.74 L162.22 180.04 L162.55 180.38 L162.88 179.54 L163.22 180.21 L163.55 180.03 L163.88 180.34 L164.22 180.34 L164.55 179.88 L164.88 180.18 L165.22 179.83 L165.55 179.97 L165.88 179.97 L166.22 179.83 L166.55 179.82 L166.88 179.69 L167.22 180.19 L167.55 180.07 L167.89 179.82 L168.22 179.8 L168.55 180.03 L168.89 180.16 L169.22 179.93 L169.55 180.47 L169.89 180.24 L170.22 179.73 L170.55 180.17 L170.89 179.56 L171.22 179.91 L171.55 179.88 L171.89 179.44 L172.22 179.77 L172.55 179.99 L172.89 180.03 L173.22 180.05 L173.55 180.3 L173.89 179.86 L174.22 179.92 L174.55 180.05 L174.89 179.77 L175.22 180.04 L175.55 180.24 L175.89 180.13 L176.22 179.94 L176.55 179.87 L176.89 179.59 L177.22 180 L177.56 179.83 L177.89 179.74 L178.22 179.82 L178.56 179.87 L178.89 180.13 L179.22 180 L179.56 179.54 L179.89 179.89 L180.22 179.93 L180.56 180.13 L180.89 179.88 L181.22 179.61 L181.56 180.03 L181.89 180.09 L182.22 179.93 L182.56 180.01 L182.89 180.04 L183.22 179.53 L183.56 179.78 L183.89 180.18 L184.22 179.93 L184.56 179.76 L184.89 179.98 L185.22 179.78 L185.56 180.13 L185.89 179.83 L186.23 179.93 L186.56 179.82 L186.89 179.93 L187.23 180.04 L187.56 179.85 L187.89 179.84 L188.23 179.8 L188.56 180.17 L188.89 180.01 L189.23 179.96 L189.56 179.97 L189.89 179.98 L190.23 179.9 L190.56 179.67 L190.89 179.61 L191.23 179.71 L191.56 179.82 L191.89 180.5 L192.23 180.03 L192.56 179.82 L192.89 180.08 L193.23 179.71 L193.56 180.03 L193.89 179.88 L194.23 179.99 L194.56 179.86 L194.89 180.17 L195.23 179.97 L195.56 180.06 L195.9 180.11 L196.23 180.2 L196.56 179.73 L196.9 180.11 L197.23 179.78 L197.56 179.93 L197.9 179.83 L198.23 179.91 L198.56 179.92 L198.9 180.14 L199.23 179.43 L199.56 179.72 L199.9 179.73 L200.23 180.31 L200.56 180.03" fill="none" stroke="#2ca02c" stroke-width="1.4" stroke-opacity="0.78" stroke-linejoin="round" />
<path d="M33.84 216.67 L34.17 199.84 L34.5 195.72 L34.84 192.51 L35.17 190.32 L35.5 188.16 L35.84 186.62 L36.17 186.11 L36.5 185.7 L36.84 185.74 L37.17 185.43 L37.5 185.23 L37.84 184.68 L38.17 184.63 L38.5 184.48 L38.84 184.45 L39.17 183.97 L39.51 183.87 L39.84 183.69 L40.17 183.63 L40.51 183.68 L40.84 183.06 L41.17 183.15 L41.51 182.98 L41.84 183.04 L42.17 182.55 L42.51 182.83 L42.84 182.66 L43.17 182.63 L43.51 182.57 L43.84 182.14 L44.17 182.26 L44.51 182.28 L44.84 182.03 L45.17 181.97 L45.51 181.83 L45.84 181.89 L46.17 181.69 L46.51 181.98 L46.84 181.8 L47.17 181.46 L47.51 181.39 L47.84 181.82 L48.17 181.39 L48.51 181.42 L48.84 181.17 L49.18 181.52 L49.51 181.22 L49.84 181.1 L50.18 181.46 L50.51 181.29 L50.84 180.97 L51.18 181.14 L51.51 180.91 L51.84 181 L52.18 181.24 L52.51 180.95 L52.84 180.86 L53.18 181 L53.51 180.68 L53.84 181.07 L54.18 180.81 L54.51 180.83 L54.84 180.89 L55.18 180.98 L55.51 181.05 L55.84 180.88 L56.18 180.66 L56.51 180.71 L56.84 180.6 L57.18 180.59 L57.51 180.6 L57.85 180.46 L58.18 180.32 L58.51 180.71 L58.85 180.37 L59.18 180.69 L59.51 179.98 L59.85 180.51 L60.18 180.39 L60.51 180.14 L60.85 180.2 L61.18 180.08 L61.51 179.97 L61.85 180.26 L62.18 179.83 L62.51 180.28 L62.85 180.19 L63.18 179.96 L63.51 180.52 L63.85 180.19 L64.18 180.09 L64.51 179.89 L64.85 180.14 L65.18 179.84 L65.51 180.16 L65.85 179.78 L66.18 179.8 L66.51 180 L66.85 179.94 L67.18 179.91 L67.52 179.93 L67.85 179.94 L68.18 179.58 L68.52 179.73 L68.85 179.7 L69.18 180.04 L69.52 179.75 L69.85 179.53 L70.18 179.69 L70.52 179.79 L70.85 179.7 L71.18 179.52 L71.52 179.68 L71.85 180.02 L72.18 179.77 L72.52 179.6 L72.85 179.9 L73.18 179.61 L73.52 179.52 L73.85 179.19 L74.18 179.32 L74.52 179.5 L74.85 179.88 L75.18 179.5 L75.52 179.81 L75.85 179.73 L76.19 179.33 L76.52 179.66 L76.85 179.4 L77.19 179.47 L77.52 179.33 L77.85 179.52 L78.19 179.51 L78.52 179.2 L78.85 179.34 L79.19 179.39 L79.52 179.45 L79.85 179.34 L80.19 179.45 L80.52 179.32 L80.85 179.44 L81.19 179.72 L81.52 179.7 L81.85 179.52 L82.19 179.03 L82.52 179.13 L82.85 179.44 L83.19 179.51 L83.52 179.45 L83.85 179.39 L84.19 179.13 L84.52 179.44 L84.85 179.6 L85.19 179.42 L85.52 179.54 L85.86 179.04 L86.19 179.33 L86.52 179.28 L86.86 179.3 L87.19 179.64 L87.52 179.24 L87.86 179.18 L88.19 179.34 L88.52 179.2 L88.86 179.32 L89.19 179.27 L89.52 179.1 L89.86 179.31 L90.19 179.14 L90.52 179.21 L90.86 179.22 L91.19 179.3 L91.52 179.33 L91.86 179.2 L92.19 178.98 L92.52 179.12 L92.86 178.96 L93.19 179.17 L93.52 179.45 L93.86 178.95 L94.19 179.16 L94.53 178.95 L94.86 179.01 L95.19 178.98 L95.53 179.05 L95.86 179.66 L96.19 178.97 L96.53 179.06 L96.86 178.97 L97.19 178.94 L97.53 179.04 L97.86 178.97 L98.19 179.35 L98.53 179.06 L98.86 178.95 L99.19 178.95 L99.53 179.23 L99.86 179.39 L100.19 179.17 L100.53 179.04 L100.86 179 L101.19 178.75 L101.53 178.81 L101.86 179.16 L102.19 178.91 L102.53 179.1 L102.86 178.87 L103.19 179.13 L103.53 178.77 L103.86 179.1 L104.2 179.06 L104.53 179.16 L104.86 178.84 L105.2 178.97 L105.53 178.9 L105.86 178.84 L106.2 179.12 L106.53 178.66 L106.86 178.82 L107.2 178.91 L107.53 178.95 L107.86 178.99 L108.2 179.03 L108.53 178.77 L108.86 178.89 L109.2 178.93 L109.53 179.02 L109.86 178.89 L110.2 178.54 L110.53 178.82 L110.86 179.26 L111.2 179.31 L111.53 178.77 L111.86 179.14 L112.2 178.83 L112.53 178.77 L112.87 178.75 L113.2 178.51 L113.53 178.94 L113.87 178.82 L114.2 178.97 L114.53 179.09 L114.87 178.99 L115.2 178.58 L115.53 178.58 L115.87 178.98 L116.2 178.69 L116.53 178.86 L116.87 178.66 L117.2 178.98 L117.53 178.76 L117.87 178.78 L118.2 178.96 L118.53 178.9 L118.87 178.89 L119.2 178.79 L119.53 178.49 L119.87 178.5 L120.2 178.49 L120.53 178.67 L120.87 178.6 L121.2 178.95 L121.53 178.75 L121.87 178.56 L122.2 178.69 L122.54 178.87 L122.87 178.66 L123.2 178.7 L123.54 178.71 L123.87 178.83 L124.2 178.61 L124.54 178.76 L124.87 178.86 L125.2 178.72 L125.54 178.61 L125.87 178.47 L126.2 178.5 L126.54 179.02 L126.87 178.51 L127.2 178.59 L127.54 178.61 L127.87 178.44 L128.2 178.38 L128.54 178.56 L128.87 178.7 L129.2 178.77 L129.54 178.64 L129.87 178.6 L130.2 178.8 L130.54 178.36 L130.87 178.39 L131.21 178.51 L131.54 178.32 L131.87 178.5 L132.21 178.73 L132.54 178.5 L132.87 178.3 L133.21 178.7 L133.54 178.89 L133.87 178.49 L134.21 178.97 L134.54 178.84 L134.87 178.59 L135.21 178.73 L135.54 178.35 L135.87 178.66 L136.21 178.54 L136.54 178.46 L136.87 178.65 L137.21 178.56 L137.54 178.98 L137.87 178.29 L138.21 178.64 L138.54 178.7 L138.87 178.77 L139.21 178.62 L139.54 178.76 L139.87 178.62 L140.21 178.77 L140.54 178.91 L140.88 178.8 L141.21 178.81 L141.54 178.59 L141.88 178.63 L142.21 178.75 L142.54 178.6 L142.88 178.77 L143.21 178.66 L143.54 178.71 L143.88 178.58 L144.21 178.81 L144.54 178.68 L144.88 178.66 L145.21 178.85 L145.54 178.64 L145.88 178.66 L146.21 178.49 L146.54 178.85 L146.88 178.91 L147.21 178.94 L147.54 178.61 L147.88 178.75 L148.21 178.83 L148.54 178.61 L148.88 178.49 L149.21 178.31 L149.55 178.42 L149.88 178.76 L150.21 178.38 L150.55 178.78 L150.88 178.57 L151.21 178.5 L151.55 178.91 L151.88 178.62 L152.21 178.62 L152.55 178.25 L152.88 178.75 L153.21 178.5 L153.55 178.67 L153.88 178.62 L154.21 178.81 L154.55 178.46 L154.88 178.41 L155.21 178.42 L155.55 178.94 L155.88 178.97 L156.21 178.65 L156.55 178.43 L156.88 178.49 L157.21 178.68 L157.55 178.76 L157.88 178.33 L158.21 178.38 L158.55 178.76 L158.88 178.64 L159.22 178.65 L159.55 178.25 L159.88 178.5 L160.22 178.42 L160.55 178.78 L160.88 178.58 L161.22 178.64 L161.55 178.6 L161.88 178.55 L162.22 178.64 L162.55 178.81 L162.88 178.41 L163.22 178.79 L163.55 178.76 L163.88 178.95 L164.22 178.56 L164.55 178.6 L164.88 178.74 L165.22 178.78 L165.55 178.59 L165.88 178.67 L166.22 178.8 L166.55 178.54 L166.88 178.45 L167.22 178.55 L167.55 178.46 L167.89 178.57 L168.22 178.34 L168.55 178.45 L168.89 178.67 L169.22 178.41 L169.55 178.55 L169.89 178.7 L170.22 178.73 L170.55 178.66 L170.89 178.96 L171.22 178.74 L171.55 178.7 L171.89 178.89 L172.22 178.76 L172.55 178.78 L172.89 178.88 L173.22 178.63 L173.55 178.57 L173.89 178.54 L174.22 178.4 L174.55 178.64 L174.89 178.69 L175.22 178.6 L175.55 178.38 L175.89 178.32 L176.22 178.7 L176.55 178.53 L176.89 178.63 L177.22 178.5 L177.56 179.04 L177.89 178.68 L178.22 178.94 L178.56 179.16 L178.89 178.53 L179.22 178.76 L179.56 178.37 L179.89 178.45 L180.22 178.37 L180.56 178.45 L180.89 178.68 L181.22 178.53 L181.56 178.87 L181.89 178.81 L182.22 178.5 L182.56 178.27 L182.89 178.55 L183.22 178.79 L183.56 178.6 L183.89 178.48 L184.22 178.4 L184.56 178.56 L184.89 178.28 L185.22 178.39 L185.56 178.51 L185.89 178.65 L186.23 178.15 L186.56 178.66 L186.89 178.64 L187.23 178.75 L187.56 178.54 L187.89 178.9 L188.23 178.49 L188.56 178.88 L188.89 178.47 L189.23 178.85 L189.56 178.82 L189.89 178.73 L190.23 178.55 L190.56 178.63 L190.89 178.77 L191.23 178.62 L191.56 178.48 L191.89 178.91 L192.23 178.36 L192.56 178.59 L192.89 179.07 L193.23 178.56 L193.56 178.62 L193.89 178.67 L194.23 178.64 L194.56 178.66 L194.89 178.44 L195.23 178.54 L195.56 178.47 L195.9 178.62 L196.23 178.34 L196.56 178.6 L196.9 178.47 L197.23 178.6 L197.56 178.6 L197.9 178.41 L198.23 178.42 L198.56 178.56 L198.9 178.55 L199.23 178.63 L199.56 178.45 L199.9 178.5 L200.23 178.41 L200.56 178.53" fill="none" stroke="#d62728" stroke-width="1.4" stroke-opacity="0.78" stroke-linejoin="round" />
</g>
<rect x="25.5" y="173.4" width="183.4" height="120.2" fill="none" stroke="#3a3a3a" stroke-width="0.9" rx="0" />
<line x1="22.9" y1="293.6" x2="25.5" y2="293.6" stroke="#333" stroke-width="0.8" />
<text x="21.9" y="295.73" font-size="5.94" text-anchor="end" fill="#1a1a1a" textLength="8.91" lengthAdjust="spacingAndGlyphs" >0.0</text>
<line x1="22.9" y1="269.56" x2="25.5" y2="269.56" stroke="#333" stroke-width="0.8" />
<text x="21.9" y="271.69" font-size="5.94" text-anchor="end" fill="#1a1a1a" textLength="8.91" lengthAdjust="spacingAndGlyphs" >0.5</text>
<line x1="22.9" y1="245.52" x2="25.5" y2="245.52" stroke="#333" stroke-width="0.8" />
<text x="21.9" y="247.65" font-size="5.94" text-anchor="end" fill="#1a1a1a" textLength="8.91" lengthAdjust="spacingAndGlyphs" >1.0</text>
<line x1="22.9" y1="221.48" x2="25.5" y2="221.48" stroke="#333" stroke-width="0.8" />
<text x="21.9" y="223.61" font-size="5.94" text-anchor="end" fill="#1a1a1a" textLength="8.91" lengthAdjust="spacingAndGlyphs" >1.5</text>
<line x1="22.9" y1="197.44" x2="25.5" y2="197.44" stroke="#333" stroke-width="0.8" />
<text x="21.9" y="199.57" font-size="5.94" text-anchor="end" fill="#1a1a1a" textLength="8.91" lengthAdjust="spacingAndGlyphs" >2.0</text>
<line x1="22.9" y1="173.4" x2="25.5" y2="173.4" stroke="#333" stroke-width="0.8" />
<text x="21.9" y="175.53" font-size="5.94" text-anchor="end" fill="#1a1a1a" textLength="8.91" lengthAdjust="spacingAndGlyphs" >2.5</text>
<line x1="208.9" y1="293.6" x2="211.3" y2="293.6" stroke="#2a2a66" stroke-width="0.9" />
<text x="212.5" y="295.73" font-size="5.94" text-anchor="start" fill="#1a1a1a" textLength="8.91" lengthAdjust="spacingAndGlyphs" >0.0</text>
<line x1="208.9" y1="269.56" x2="211.3" y2="269.56" stroke="#2a2a66" stroke-width="0.9" />
<text x="212.5" y="271.69" font-size="5.94" text-anchor="start" fill="#1a1a1a" textLength="8.91" lengthAdjust="spacingAndGlyphs" >0.2</text>
<line x1="208.9" y1="245.52" x2="211.3" y2="245.52" stroke="#2a2a66" stroke-width="0.9" />
<text x="212.5" y="247.65" font-size="5.94" text-anchor="start" fill="#1a1a1a" textLength="8.91" lengthAdjust="spacingAndGlyphs" >0.4</text>
<line x1="208.9" y1="221.48" x2="211.3" y2="221.48" stroke="#2a2a66" stroke-width="0.9" />
<text x="212.5" y="223.61" font-size="5.94" text-anchor="start" fill="#1a1a1a" textLength="8.91" lengthAdjust="spacingAndGlyphs" >0.6</text>
<line x1="208.9" y1="197.44" x2="211.3" y2="197.44" stroke="#2a2a66" stroke-width="0.9" />
<text x="212.5" y="199.57" font-size="5.94" text-anchor="start" fill="#1a1a1a" textLength="8.91" lengthAdjust="spacingAndGlyphs" >0.8</text>
<line x1="208.9" y1="173.4" x2="211.3" y2="173.4" stroke="#2a2a66" stroke-width="0.9" />
<text x="212.5" y="175.53" font-size="5.94" text-anchor="start" fill="#1a1a1a" textLength="8.91" lengthAdjust="spacingAndGlyphs" >1.0</text>
<line x1="33.84" y1="293.6" x2="33.84" y2="296.2" stroke="#333" stroke-width="0.8" />
<text x="33.84" y="301.23" font-size="5.94" text-anchor="middle" fill="#1a1a1a" textLength="3.56" lengthAdjust="spacingAndGlyphs" >0</text>
<line x1="67.18" y1="293.6" x2="67.18" y2="296.2" stroke="#333" stroke-width="0.8" />
<text x="67.18" y="301.23" font-size="5.94" text-anchor="middle" fill="#1a1a1a" textLength="10.69" lengthAdjust="spacingAndGlyphs" >100</text>
<line x1="100.53" y1="293.6" x2="100.53" y2="296.2" stroke="#333" stroke-width="0.8" />
<text x="100.53" y="301.23" font-size="5.94" text-anchor="middle" fill="#1a1a1a" textLength="10.69" lengthAdjust="spacingAndGlyphs" >200</text>
<line x1="133.87" y1="293.6" x2="133.87" y2="296.2" stroke="#333" stroke-width="0.8" />
<text x="133.87" y="301.23" font-size="5.94" text-anchor="middle" fill="#1a1a1a" textLength="10.69" lengthAdjust="spacingAndGlyphs" >300</text>
<line x1="167.22" y1="293.6" x2="167.22" y2="296.2" stroke="#333" stroke-width="0.8" />
<text x="167.22" y="301.23" font-size="5.94" text-anchor="middle" fill="#1a1a1a" textLength="10.69" lengthAdjust="spacingAndGlyphs" >400</text>
<line x1="200.56" y1="293.6" x2="200.56" y2="296.2" stroke="#333" stroke-width="0.8" />
<text x="200.56" y="301.23" font-size="5.94" text-anchor="middle" fill="#1a1a1a" textLength="10.69" lengthAdjust="spacingAndGlyphs" >500</text>
<text x="116.8" y="311.6" font-size="6.41" text-anchor="middle" fill="#1a1a1a" textLength="22.6" lengthAdjust="spacingAndGlyphs" >Epochs</text>
<text x="4.8" y="236.9" font-size="6.41" text-anchor="middle" fill="#1a1a1a" textLength="41.4" lengthAdjust="spacingAndGlyphs" transform="rotate(-90 4.8 234.6)" >Training loss</text>
<text x="227.6" y="236.8" font-size="6.41" text-anchor="middle" fill="#1a1a1a" textLength="58.6" lengthAdjust="spacingAndGlyphs" transform="rotate(-90 227.6 234.5)" >Validation accuracy</text>
<rect x="173.2" y="175.6" width="26.6" height="10.2" fill="none" stroke="#3a3a8c" stroke-width="0.8" rx="0" />
<line x1="173.2" y1="175.6" x2="114.4" y2="202.2" stroke="#3a3a8c" stroke-width="0.7" />
<line x1="199.8" y1="185.8" x2="185.5" y2="249.6" stroke="#3a3a8c" stroke-width="0.7" />
<rect x="114.4" y="202.2" width="71.1" height="47.4" fill="#fff" stroke="none" stroke-width="0.8" rx="0" />
<defs><clipPath id="iclipd"><rect x="114.4" y="202.2" width="71.1" height="47.4"/></clipPath></defs>
<g clip-path="url(#iclipd)">
<path d="M114.4 239.32 L115.11 238.51 L115.82 239.45 L116.53 238.61 L117.24 238.34 L117.96 237.93 L118.67 239.13 L119.38 239.03 L120.09 238.44 L120.8 239.16 L121.51 238.75 L122.22 239.14 L122.93 239.31 L123.64 239.94 L124.35 239.11 L125.06 238.71 L125.78 239.01 L126.49 239.48 L127.2 239.01 L127.91 237.83 L128.62 239.24 L129.33 239.82 L130.04 237.66 L130.75 239.68 L131.46 237.81 L132.18 238.69 L132.89 240.47 L133.6 239.36 L134.31 239.4 L135.02 239.41 L135.73 239.43 L136.44 238.56 L137.15 238.84 L137.86 237.88 L138.57 239.37 L139.28 239.23 L140 238.53 L140.71 239.22 L141.42 239.53 L142.13 238.83 L142.84 240.06 L143.55 240.19 L144.26 239.58 L144.97 238.64 L145.68 238.36 L146.4 240.07 L147.11 239.65 L147.82 238.83 L148.53 238.91 L149.24 239.92 L149.95 238.34 L150.66 239.43 L151.37 239.26 L152.08 239.77 L152.79 238.15 L153.5 238.19 L154.22 239.4 L154.93 238.03 L155.64 238.24 L156.35 238.54 L157.06 239.21 L157.77 238.38 L158.48 239.79 L159.19 239.65 L159.9 239.43 L160.62 238.66 L161.33 238.01 L162.04 240.92 L162.75 239.31 L163.46 239.92 L164.17 238.78 L164.88 240.48 L165.59 237.6 L166.3 239.75 L167.01 237.93 L167.73 240.4 L168.44 238.77 L169.15 237.73 L169.86 238.06 L170.57 240.3 L171.28 240.34 L171.99 240.71 L172.7 238.83 L173.41 240.65 L174.12 237.55 L174.83 238.51 L175.55 237.89 L176.26 239.71 L176.97 239.44 L177.68 239.23 L178.39 240.57 L179.1 240.56 L179.81 239.13 L180.52 239.64 L181.23 239.34 L181.94 240.38 L182.66 238.72 L183.37 238.03 L184.08 238.93 L184.79 239.75 L185.5 238.53" fill="none" stroke="#ff7f0e" stroke-width="1.6" stroke-opacity="0.78" stroke-linejoin="round" />
<path d="M114.4 212.45 L115.11 212.99 L115.82 214.09 L116.53 215.05 L117.24 211.51 L117.96 212.79 L118.67 213.58 L119.38 213.9 L120.09 215.45 L120.8 212.26 L121.51 213.32 L122.22 212.97 L122.93 213.36 L123.64 213.32 L124.35 212.76 L125.06 214.49 L125.78 213.87 L126.49 212.75 L127.2 212.18 L127.91 212.88 L128.62 212.78 L129.33 214.08 L130.04 213.87 L130.75 212.99 L131.46 213.13 L132.18 213.42 L132.89 213.25 L133.6 214.76 L134.31 214.73 L135.02 212.65 L135.73 213.23 L136.44 214 L137.15 212.98 L137.86 209.95 L138.57 213.84 L139.28 212.89 L140 213.3 L140.71 213.79 L141.42 213.98 L142.13 212.22 L142.84 213.75 L143.55 214.91 L144.26 211.58 L144.97 213.86 L145.68 212.54 L146.4 212.99 L147.11 213.57 L147.82 211.62 L148.53 214.14 L149.24 212.98 L149.95 212.83 L150.66 214.66 L151.37 214.05 L152.08 212.48 L152.79 211.33 L153.5 212.62 L154.22 215.47 L154.93 212.21 L155.64 214.82 L156.35 214.11 L157.06 213.29 L157.77 213.09 L158.48 213.41 L159.19 213.52 L159.9 211 L160.62 214.65 L161.33 213 L162.04 212.26 L162.75 212.6 L163.46 214.82 L164.17 211.95 L164.88 212 L165.59 214.06 L166.3 213.9 L167.01 211.97 L167.73 213.09 L168.44 214.22 L169.15 212.79 L169.86 214.05 L170.57 214.26 L171.28 215.28 L171.99 212.91 L172.7 214.05 L173.41 214.2 L174.12 213.73 L174.83 212.53 L175.55 213.37 L176.26 212.41 L176.97 213.38 L177.68 212.19 L178.39 211.67 L179.1 213.27 L179.81 213.33 L180.52 214.85 L181.23 213.78 L181.94 211.63 L182.66 212.58 L183.37 214.82 L184.08 214.24 L184.79 213.88 L185.5 213.23" fill="none" stroke="#2ca02c" stroke-width="1.6" stroke-opacity="0.78" stroke-linejoin="round" />
<path d="M114.4 204.51 L115.11 204.62 L115.82 204.2 L116.53 204.59 L117.24 205.16 L117.96 204.37 L118.67 207.11 L119.38 205.48 L120.09 204.73 L120.8 203.99 L121.51 204.03 L122.22 203.36 L122.93 203.47 L123.64 204.38 L124.35 204.44 L125.06 204.06 L125.78 205.06 L126.49 205.01 L127.2 204.38 L127.91 205.62 L128.62 204.4 L129.33 204.33 L130.04 203.21 L130.75 205.76 L131.46 205.16 L132.18 203.43 L132.89 205.15 L133.6 204.3 L134.31 205.27 L135.02 203.35 L135.73 205.86 L136.44 205.09 L137.15 205.35 L137.86 203.43 L138.57 204.49 L139.28 206.29 L140 203.02 L140.71 206.03 L141.42 204.39 L142.13 203.75 L142.84 205.13 L143.55 205.29 L144.26 205.86 L144.97 206.15 L145.68 202.18 L146.4 203.6 L147.11 203.41 L147.82 206.27 L148.53 205.15 L149.24 205.94 L149.95 203.89 L150.66 202.89 L151.37 205.23 L152.08 205.33 L152.79 203.29 L153.5 205.71 L154.22 203.99 L154.93 205.11 L155.64 203.88 L156.35 205.08 L157.06 206.11 L157.77 204.42 L158.48 206.04 L159.19 204.16 L159.9 202.77 L160.62 203.36 L161.33 205.91 L162.04 206.15 L162.75 207.06 L163.46 205.59 L164.17 206.05 L164.88 205.54 L165.59 202.72 L166.3 204.23 L167.01 204.48 L167.73 205.25 L168.44 204.46 L169.15 204.09 L169.86 204.44 L170.57 203.74 L171.28 203.67 L171.99 205.22 L172.7 205.6 L173.41 203.32 L174.12 205.93 L174.83 204.23 L175.55 204.3 L176.26 203 L176.97 205.27 L177.68 205.97 L178.39 203.12 L179.1 205.41 L179.81 206.81 L180.52 205.83 L181.23 204.62 L181.94 203.4 L182.66 204.1 L183.37 204.67 L184.08 205.35 L184.79 204.52 L185.5 203.96" fill="none" stroke="#d62728" stroke-width="1.6" stroke-opacity="0.78" stroke-linejoin="round" />
</g>
<rect x="114.4" y="202.2" width="71.1" height="47.4" fill="none" stroke="#333" stroke-width="0.8" rx="0" />
<line x1="112" y1="249.6" x2="114.4" y2="249.6" stroke="#333" stroke-width="0.8" />
<text x="111" y="251.73" font-size="5.94" text-anchor="end" fill="#1a1a1a" textLength="12.47" lengthAdjust="spacingAndGlyphs" >0.90</text>
<line x1="112" y1="233.8" x2="114.4" y2="233.8" stroke="#333" stroke-width="0.8" />
<text x="111" y="235.93" font-size="5.94" text-anchor="end" fill="#1a1a1a" textLength="12.47" lengthAdjust="spacingAndGlyphs" >0.92</text>
<line x1="112" y1="218" x2="114.4" y2="218" stroke="#333" stroke-width="0.8" />
<text x="111" y="220.13" font-size="5.94" text-anchor="end" fill="#1a1a1a" textLength="12.47" lengthAdjust="spacingAndGlyphs" >0.94</text>
<line x1="112" y1="202.2" x2="114.4" y2="202.2" stroke="#333" stroke-width="0.8" />
<text x="111" y="204.33" font-size="5.94" text-anchor="end" fill="#1a1a1a" textLength="12.47" lengthAdjust="spacingAndGlyphs" >0.96</text>
<line x1="114.4" y1="249.6" x2="114.4" y2="252" stroke="#333" stroke-width="0.8" />
<text x="114.4" y="257.33" font-size="5.94" text-anchor="middle" fill="#1a1a1a" textLength="10.69" lengthAdjust="spacingAndGlyphs" >400</text>
<line x1="132.18" y1="249.6" x2="132.18" y2="252" stroke="#333" stroke-width="0.8" />
<text x="132.18" y="257.33" font-size="5.94" text-anchor="middle" fill="#1a1a1a" textLength="10.69" lengthAdjust="spacingAndGlyphs" >425</text>
<line x1="149.95" y1="249.6" x2="149.95" y2="252" stroke="#333" stroke-width="0.8" />
<text x="149.95" y="257.33" font-size="5.94" text-anchor="middle" fill="#1a1a1a" textLength="10.69" lengthAdjust="spacingAndGlyphs" >450</text>
<line x1="167.73" y1="249.6" x2="167.73" y2="252" stroke="#333" stroke-width="0.8" />
<text x="167.73" y="257.33" font-size="5.94" text-anchor="middle" fill="#1a1a1a" textLength="10.69" lengthAdjust="spacingAndGlyphs" >475</text>
<line x1="185.5" y1="249.6" x2="185.5" y2="252" stroke="#333" stroke-width="0.8" />
<text x="185.5" y="257.33" font-size="5.94" text-anchor="middle" fill="#1a1a1a" textLength="10.69" lengthAdjust="spacingAndGlyphs" >500</text>
<path d="M208.9 190.3 Q203 189.8 200 194.8" fill="none" stroke="#c8323c" stroke-width="1.0"/>
<path d="M199.38 195.83 L199.69 191.82 L202.78 193.67 Z" fill="#c8323c"/>
<path d="M25.5 283.5 Q33 283 37 278.6" fill="none" stroke="#c8323c" stroke-width="1.0"/>
<path d="M37.81 277.71 L36.72 281.59 L34.05 279.17 Z" fill="#c8323c"/>
<rect x="28.6" y="175.6" width="41.9" height="34.1" fill="#fff" stroke="#d0d0d0" stroke-width="0.7" rx="1.5" fill-opacity="0.8"/>
<line x1="30.5" y1="180" x2="42.8" y2="180" stroke="#1f77b4" stroke-width="1.1" stroke-opacity="0.78"/>
<text x="45.7" y="181.94" font-size="5.41" text-anchor="start" fill="#1a1a1a" textLength="18.41" lengthAdjust="spacingAndGlyphs" ><tspan font-style="italic">M</tspan> = 16</text>
<line x1="30.5" y1="188.3" x2="42.8" y2="188.3" stroke="#ff7f0e" stroke-width="1.1" stroke-opacity="0.78"/>
<text x="45.7" y="190.24" font-size="5.41" text-anchor="start" fill="#1a1a1a" textLength="18.41" lengthAdjust="spacingAndGlyphs" ><tspan font-style="italic">M</tspan> = 32</text>
<line x1="30.5" y1="196.4" x2="42.8" y2="196.4" stroke="#2ca02c" stroke-width="1.1" stroke-opacity="0.78"/>
<text x="45.7" y="198.34" font-size="5.41" text-anchor="start" fill="#1a1a1a" textLength="18.41" lengthAdjust="spacingAndGlyphs" ><tspan font-style="italic">M</tspan> = 64</text>
<line x1="30.5" y1="204.4" x2="42.8" y2="204.4" stroke="#d62728" stroke-width="1.1" stroke-opacity="0.78"/>
<text x="45.7" y="206.34" font-size="5.41" text-anchor="start" fill="#1a1a1a" textLength="21.65" lengthAdjust="spacingAndGlyphs" ><tspan font-style="italic">M</tspan> = 128</text>
<rect x="279" y="66.76" width="8.98" height="71.44" fill="#8f9bc9" stroke="none" stroke-width="0.8" rx="0" />
<rect x="287.93" y="66.36" width="8.98" height="71.84" fill="#a9c8c9" stroke="none" stroke-width="0.8" rx="0" />
<rect x="296.86" y="58.71" width="8.98" height="79.49" fill="#f1d6a7" stroke="none" stroke-width="0.8" rx="0" />
<rect x="305.79" y="56.3" width="8.98" height="81.9" fill="#f0ad8f" stroke="none" stroke-width="0.8" rx="0" />
<rect x="323.6" y="52.66" width="8.98" height="85.54" fill="#8f9bc9" stroke="none" stroke-width="0.8" rx="0" />
<rect x="332.53" y="50.65" width="8.98" height="87.55" fill="#a9c8c9" stroke="none" stroke-width="0.8" rx="0" />
<rect x="341.46" y="48.25" width="8.98" height="89.95" fill="#f1d6a7" stroke="none" stroke-width="0.8" rx="0" />
<rect x="350.39" y="44.6" width="8.98" height="93.6" fill="#f0ad8f" stroke="none" stroke-width="0.8" rx="0" />
<rect x="368.1" y="42.2" width="8.98" height="96" fill="#8f9bc9" stroke="none" stroke-width="0.8" rx="0" />
<rect x="377.03" y="44.2" width="8.98" height="94" fill="#a9c8c9" stroke="none" stroke-width="0.8" rx="0" />
<rect x="385.96" y="41" width="8.98" height="97.2" fill="#f1d6a7" stroke="none" stroke-width="0.8" rx="0" />
<rect x="394.89" y="38.55" width="8.98" height="99.65" fill="#f0ad8f" stroke="none" stroke-width="0.8" rx="0" />
<rect x="412.7" y="41.8" width="8.98" height="96.4" fill="#8f9bc9" stroke="none" stroke-width="0.8" rx="0" />
<rect x="421.63" y="41.8" width="8.98" height="96.4" fill="#a9c8c9" stroke="none" stroke-width="0.8" rx="0" />
<rect x="430.56" y="39.36" width="8.98" height="98.84" fill="#f1d6a7" stroke="none" stroke-width="0.8" rx="0" />
<rect x="439.49" y="36.55" width="8.98" height="101.65" fill="#f0ad8f" stroke="none" stroke-width="0.8" rx="0" />
<rect x="270.3" y="18" width="186.4" height="120.2" fill="none" stroke="#3a3a3a" stroke-width="0.9" rx="0" />
<line x1="267.9" y1="138.2" x2="270.3" y2="138.2" stroke="#333" stroke-width="0.8" />
<text x="266.9" y="140.06" font-size="5.19" text-anchor="end" fill="#1a1a1a" textLength="10.91" lengthAdjust="spacingAndGlyphs" >0.70</text>
<line x1="267.9" y1="118.17" x2="270.3" y2="118.17" stroke="#333" stroke-width="0.8" />
<text x="266.9" y="120.03" font-size="5.19" text-anchor="end" fill="#1a1a1a" textLength="10.91" lengthAdjust="spacingAndGlyphs" >0.75</text>
<line x1="267.9" y1="98.13" x2="270.3" y2="98.13" stroke="#333" stroke-width="0.8" />
<text x="266.9" y="99.99" font-size="5.19" text-anchor="end" fill="#1a1a1a" textLength="10.91" lengthAdjust="spacingAndGlyphs" >0.80</text>
<line x1="267.9" y1="78.1" x2="270.3" y2="78.1" stroke="#333" stroke-width="0.8" />
<text x="266.9" y="79.96" font-size="5.19" text-anchor="end" fill="#1a1a1a" textLength="10.91" lengthAdjust="spacingAndGlyphs" >0.85</text>
<line x1="267.9" y1="58.07" x2="270.3" y2="58.07" stroke="#333" stroke-width="0.8" />
<text x="266.9" y="59.93" font-size="5.19" text-anchor="end" fill="#1a1a1a" textLength="10.91" lengthAdjust="spacingAndGlyphs" >0.90</text>
<line x1="267.9" y1="38.03" x2="270.3" y2="38.03" stroke="#333" stroke-width="0.8" />
<text x="266.9" y="39.89" font-size="5.19" text-anchor="end" fill="#1a1a1a" textLength="10.91" lengthAdjust="spacingAndGlyphs" >0.95</text>
<line x1="267.9" y1="18" x2="270.3" y2="18" stroke="#333" stroke-width="0.8" />
<text x="266.9" y="19.86" font-size="5.19" text-anchor="end" fill="#1a1a1a" textLength="10.91" lengthAdjust="spacingAndGlyphs" >1.00</text>
<line x1="283.46" y1="138.2" x2="283.46" y2="140.4" stroke="#333" stroke-width="0.8" />
<text x="283.46" y="145.26" font-size="5.19" text-anchor="middle" fill="#1a1a1a" textLength="17.68" lengthAdjust="spacingAndGlyphs" ><tspan font-style="italic">M</tspan> = 16</text>
<line x1="328.06" y1="138.2" x2="328.06" y2="140.4" stroke="#333" stroke-width="0.8" />
<text x="328.06" y="145.26" font-size="5.19" text-anchor="middle" fill="#1a1a1a" textLength="17.68" lengthAdjust="spacingAndGlyphs" ><tspan font-style="italic">M</tspan> = 32</text>
<line x1="372.56" y1="138.2" x2="372.56" y2="140.4" stroke="#333" stroke-width="0.8" />
<text x="372.56" y="145.26" font-size="5.19" text-anchor="middle" fill="#1a1a1a" textLength="17.68" lengthAdjust="spacingAndGlyphs" ><tspan font-style="italic">M</tspan> = 64</text>
<line x1="417.16" y1="138.2" x2="417.16" y2="140.4" stroke="#333" stroke-width="0.8" />
<text x="417.16" y="145.26" font-size="5.19" text-anchor="middle" fill="#1a1a1a" textLength="20.8" lengthAdjust="spacingAndGlyphs" ><tspan font-style="italic">M</tspan> = 128</text>
<text x="358.1" y="150.46" font-size="6.32" text-anchor="middle" fill="#1a1a1a" textLength="95.5" lengthAdjust="spacingAndGlyphs" >Number of illumination patterns</text>
<text x="249.8" y="79.58" font-size="6.36" text-anchor="middle" fill="#1a1a1a" textLength="59" lengthAdjust="spacingAndGlyphs" transform="rotate(-90 249.8 77.3)" >Validation accuracy</text>
<rect x="273" y="20" width="56.5" height="28.5" fill="#fff" stroke="#d0d0d0" stroke-width="0.7" rx="1.5" fill-opacity="0.8"/>
<rect x="275" y="22.05" width="11.2" height="3.5" fill="#8f9bc9" stroke="none" stroke-width="0.8" rx="0" />
<text x="289.5" y="25.81" font-size="5.62" text-anchor="start" fill="#1a1a1a" textLength="11.2" lengthAdjust="spacingAndGlyphs" >CML</text>
<rect x="275" y="28.95" width="11.2" height="3.5" fill="#a9c8c9" stroke="none" stroke-width="0.8" rx="0" />
<text x="289.5" y="32.71" font-size="5.62" text-anchor="start" fill="#1a1a1a" textLength="37.4" lengthAdjust="spacingAndGlyphs" >QML(3 × 10<tspan dy="-1.8" font-size="4">−3</tspan><tspan dy="1.8">)</tspan></text>
<rect x="275" y="35.95" width="11.2" height="3.5" fill="#f1d6a7" stroke="none" stroke-width="0.8" rx="0" />
<text x="289.5" y="39.71" font-size="5.62" text-anchor="start" fill="#1a1a1a" textLength="27.9" lengthAdjust="spacingAndGlyphs" >QML(10<tspan dy="-1.8" font-size="4">−3</tspan><tspan dy="1.8">)</tspan></text>
<rect x="275" y="42.75" width="11.2" height="3.5" fill="#f0ad8f" stroke="none" stroke-width="0.8" rx="0" />
<text x="289.5" y="46.51" font-size="5.62" text-anchor="start" fill="#1a1a1a" textLength="13" lengthAdjust="spacingAndGlyphs" >QML</text>
<rect x="279.2" y="250.84" width="8.98" height="42.76" fill="#8f9bc9" stroke="none" stroke-width="0.8" rx="0" />
<rect x="288.13" y="250.44" width="8.98" height="43.16" fill="#a9c8c9" stroke="none" stroke-width="0.8" rx="0" />
<rect x="297.06" y="244.04" width="8.98" height="49.56" fill="#f1d6a7" stroke="none" stroke-width="0.8" rx="0" />
<rect x="305.99" y="238.05" width="8.98" height="55.55" fill="#f0ad8f" stroke="none" stroke-width="0.8" rx="0" />
<rect x="324" y="220.86" width="8.98" height="72.74" fill="#8f9bc9" stroke="none" stroke-width="0.8" rx="0" />
<rect x="332.93" y="220.86" width="8.98" height="72.74" fill="#a9c8c9" stroke="none" stroke-width="0.8" rx="0" />
<rect x="341.86" y="212.67" width="8.98" height="80.93" fill="#f1d6a7" stroke="none" stroke-width="0.8" rx="0" />
<rect x="350.79" y="203.28" width="8.98" height="90.32" fill="#f0ad8f" stroke="none" stroke-width="0.8" rx="0" />
<rect x="368.1" y="206.87" width="8.98" height="86.73" fill="#8f9bc9" stroke="none" stroke-width="0.8" rx="0" />
<rect x="377.03" y="203.67" width="8.98" height="89.93" fill="#a9c8c9" stroke="none" stroke-width="0.8" rx="0" />
<rect x="385.96" y="196.68" width="8.98" height="96.92" fill="#f1d6a7" stroke="none" stroke-width="0.8" rx="0" />
<rect x="394.89" y="193.68" width="8.98" height="99.92" fill="#f0ad8f" stroke="none" stroke-width="0.8" rx="0" />
<rect x="413" y="204.47" width="8.98" height="89.13" fill="#8f9bc9" stroke="none" stroke-width="0.8" rx="0" />
<rect x="421.93" y="198.48" width="8.98" height="95.12" fill="#a9c8c9" stroke="none" stroke-width="0.8" rx="0" />
<rect x="430.86" y="194.88" width="8.98" height="98.72" fill="#f1d6a7" stroke="none" stroke-width="0.8" rx="0" />
<rect x="439.79" y="190.09" width="8.98" height="103.51" fill="#f0ad8f" stroke="none" stroke-width="0.8" rx="0" />
<rect x="270.8" y="173.7" width="186.1" height="119.9" fill="none" stroke="#3a3a3a" stroke-width="0.9" rx="0" />
<line x1="268.4" y1="293.6" x2="270.8" y2="293.6" stroke="#333" stroke-width="0.8" />
<text x="267.4" y="295.46" font-size="5.19" text-anchor="end" fill="#1a1a1a" textLength="10.91" lengthAdjust="spacingAndGlyphs" >0.70</text>
<line x1="268.4" y1="273.62" x2="270.8" y2="273.62" stroke="#333" stroke-width="0.8" />
<text x="267.4" y="275.48" font-size="5.19" text-anchor="end" fill="#1a1a1a" textLength="10.91" lengthAdjust="spacingAndGlyphs" >0.75</text>
<line x1="268.4" y1="253.63" x2="270.8" y2="253.63" stroke="#333" stroke-width="0.8" />
<text x="267.4" y="255.49" font-size="5.19" text-anchor="end" fill="#1a1a1a" textLength="10.91" lengthAdjust="spacingAndGlyphs" >0.80</text>
<line x1="268.4" y1="233.65" x2="270.8" y2="233.65" stroke="#333" stroke-width="0.8" />
<text x="267.4" y="235.51" font-size="5.19" text-anchor="end" fill="#1a1a1a" textLength="10.91" lengthAdjust="spacingAndGlyphs" >0.85</text>
<line x1="268.4" y1="213.67" x2="270.8" y2="213.67" stroke="#333" stroke-width="0.8" />
<text x="267.4" y="215.53" font-size="5.19" text-anchor="end" fill="#1a1a1a" textLength="10.91" lengthAdjust="spacingAndGlyphs" >0.90</text>
<line x1="268.4" y1="193.68" x2="270.8" y2="193.68" stroke="#333" stroke-width="0.8" />
<text x="267.4" y="195.54" font-size="5.19" text-anchor="end" fill="#1a1a1a" textLength="10.91" lengthAdjust="spacingAndGlyphs" >0.95</text>
<line x1="268.4" y1="173.7" x2="270.8" y2="173.7" stroke="#333" stroke-width="0.8" />
<text x="267.4" y="175.56" font-size="5.19" text-anchor="end" fill="#1a1a1a" textLength="10.91" lengthAdjust="spacingAndGlyphs" >1.00</text>
<line x1="283.66" y1="293.6" x2="283.66" y2="295.8" stroke="#333" stroke-width="0.8" />
<text x="283.66" y="300.66" font-size="5.19" text-anchor="middle" fill="#1a1a1a" textLength="17.68" lengthAdjust="spacingAndGlyphs" ><tspan font-style="italic">M</tspan> = 16</text>
<line x1="328.46" y1="293.6" x2="328.46" y2="295.8" stroke="#333" stroke-width="0.8" />
<text x="328.46" y="300.66" font-size="5.19" text-anchor="middle" fill="#1a1a1a" textLength="17.68" lengthAdjust="spacingAndGlyphs" ><tspan font-style="italic">M</tspan> = 32</text>
<line x1="372.56" y1="293.6" x2="372.56" y2="295.8" stroke="#333" stroke-width="0.8" />
<text x="372.56" y="300.66" font-size="5.19" text-anchor="middle" fill="#1a1a1a" textLength="17.68" lengthAdjust="spacingAndGlyphs" ><tspan font-style="italic">M</tspan> = 64</text>
<line x1="417.46" y1="293.6" x2="417.46" y2="295.8" stroke="#333" stroke-width="0.8" />
<text x="417.46" y="300.66" font-size="5.19" text-anchor="middle" fill="#1a1a1a" textLength="20.8" lengthAdjust="spacingAndGlyphs" ><tspan font-style="italic">M</tspan> = 128</text>
<text x="358.6" y="308.36" font-size="6.32" text-anchor="middle" fill="#1a1a1a" textLength="95.5" lengthAdjust="spacingAndGlyphs" >Number of illumination patterns</text>
<text x="250.6" y="236.78" font-size="6.36" text-anchor="middle" fill="#1a1a1a" textLength="58.6" lengthAdjust="spacingAndGlyphs" transform="rotate(-90 250.6 234.5)" >Validation accuracy</text>
<rect x="273.4" y="175.8" width="56" height="28.2" fill="#fff" stroke="#d0d0d0" stroke-width="0.7" rx="1.5" fill-opacity="0.8"/>
<rect x="275.4" y="177.65" width="11.2" height="3.5" fill="#8f9bc9" stroke="none" stroke-width="0.8" rx="0" />
<text x="289.9" y="181.41" font-size="5.62" text-anchor="start" fill="#1a1a1a" textLength="11.2" lengthAdjust="spacingAndGlyphs" >CML</text>
<rect x="275.4" y="184.75" width="11.2" height="3.5" fill="#a9c8c9" stroke="none" stroke-width="0.8" rx="0" />
<text x="289.9" y="188.51" font-size="5.62" text-anchor="start" fill="#1a1a1a" textLength="37.4" lengthAdjust="spacingAndGlyphs" >QML(3 × 10<tspan dy="-1.8" font-size="4">−3</tspan><tspan dy="1.8">)</tspan></text>
<rect x="275.4" y="191.65" width="11.2" height="3.5" fill="#f1d6a7" stroke="none" stroke-width="0.8" rx="0" />
<text x="289.9" y="195.41" font-size="5.62" text-anchor="start" fill="#1a1a1a" textLength="27.9" lengthAdjust="spacingAndGlyphs" >QML(10<tspan dy="-1.8" font-size="4">−3</tspan><tspan dy="1.8">)</tspan></text>
<rect x="275.4" y="198.45" width="11.2" height="3.5" fill="#f0ad8f" stroke="none" stroke-width="0.8" rx="0" />
<text x="289.9" y="202.21" font-size="5.62" text-anchor="start" fill="#1a1a1a" textLength="13" lengthAdjust="spacingAndGlyphs" >QML</text>
<defs><clipPath id="sclipc"><rect x="493.5" y="16.8" width="187" height="121"/></clipPath></defs>
<g clip-path="url(#sclipc)"><g transform="scale(0.5)" stroke-width="3.4" stroke-linecap="round" fill="none">
<path d="M1104 133h0m13 7h0m9-16h0m1 0h0m4 3h0m16 0h0m1 35h0m20-5h0m10 47h0m6 2h0m2-67h0m0 55h0m1 4h0m0 3h0m1-81h0m1 31h0m0 12h0m0 23h0m2-43h0m0 57h0m3-33h0m0 29h0m0 5h0m1-40h0m1 49h0m1-7h0m1-77h0m0 22h0m1 4h0m0 41h0m0 9h0m2-64h0m1 63h0m1 10h0m1-15h0m0 3h0m0 2h0m0 4h0m1-1h0m1-41h0m0 22h0m2-34h0m0 48h0m0 4h0m1 4h0m0 0h0m4-8h0m0 4h0m0 3h0m1-4h0m3 0h0m2-42h0m0 5h0m5-33h0m4 74h0m1-52h0m5-4h0m3 6h0m16 45h0m2-11h0m2 9h0m3-10h0m5 12h0m1 1h0m2 3h0m0 3h0m1-19h0m0 12h0m1-8h0m2-2h0m6 7h0m2 9h0m2-17h0m1 11h0m4-3h0m3 3h0m3-8h0m5-6h0m13 3h0m3 1h0m10-12h0m8 6h0m4-2h0m1 0h0m1-1h0m1 1h0m1-17h0m0 16h0m0 3h0m1-8h0m0 3h0m1-5h0m1 6h0m11-1h0" stroke="#e41a1c"/>
<path d="M990 144h0m5-3h0m0 5h0m0 8h0m1-18h0m0 11h0m0 10h0m2-14h0m0 7h0m2-13h0m0 13h0m1-7h0m0 2h0m1-12h0m0 7h0m0 6h0m0 2h0m2-13h0m0 11h0m1 8h0m1-17h0m0 2h0m0 6h0m0 10h0m1-14h0m0 13h0m1-10h0m0 4h0m1 4h0m1-7h0m1-11h0m0 8h0m1-9h0m0 21h0m3-9h0m0 5h0m1 5h0m1-22h0m2-4h0m0 2h0m0 0h0m0 12h0m1-5h0m0 10h0m1-13h0m1 1h0m1-7h0m2-5h0m0 16h0m1-9h0m0 3h0m1-8h0m0 18h0m3-19h0m2-5h0m0 10h0m8-5h0m1 52h0m4-1h0m0 1h0m2-58h0m0 3h0m1 0h0m0 55h0m1-62h0m1 10h0m1 52h0m0 0h0m0 4h0m1-64h0m0 63h0m1-60h0m0 7h0m0 57h0m1-65h0m0 1h0m0 3h0m1 61h0m1-4h0m0 2h0m1-64h0m0 10h0m0 44h0m0 8h0m1-58h0m0 2h0m0 58h0m1-7h0m0 5h0m0 0h0m2-57h0m0 48h0m0 10h0m1-65h0m0 60h0m0 5h0m0 5h0m1-63h0m0 59h0m0 1h0m0 0h0m1-69h0m0 5h0m0 61h0m1-1h0m2-56h0m0 57h0m2-56h0m1-7h0m0 63h0m2-63h0m1 9h0m3-10h0m1-1h0m1 11h0m3-5h0m1 2h0m1-7h0m0 6h0m1-6h0m0 0h0m5 2h0m2 1h0m2 0h0m5-14h0m1 17h0m2-11h0m0 10h0m5-4h0m0 4h0m14 9h0m1-14h0" stroke="#f7941d"/>
<path d="M1046 135h0m116 28h0m11-2h0m0 0h0m8-30h0m5 12h0m7 19h0m3 5h0m0 0h0m0 7h0m2-34h0m7 17h0m0 12h0m2-40h0m2 48h0m6-1h0m3-40h0m1-12h0m3 20h0m1 17h0m1-20h0m2 8h0m1 18h0m3-6h0m1-4h0m3 17h0m0 3h0m1-22h0m1-26h0m2 0h0m0 11h0m0 33h0m1-33h0m0 19h0m1 16h0m2-16h0m1-15h0m1 11h0m9-31h0m0 11h0m2-5h0m1 37h0m1-24h0m0 13h0m11 9h0m3-1h0m1-4h0m4-19h0m1-5h0m4 11h0m9 19h0m3 2h0m2 9h0m4-25h0m6 8h0m2-25h0m2 1h0m0 32h0m6-9h0m1 10h0m1-11h0m3-17h0m0 6h0m2-5h0m5 18h0m1-17h0" stroke="#e3e336"/>
<path d="M1049 169h0m7-9h0m0 2h0m3 2h0m3-55h0m1 13h0m1 34h0m7 12h0m4-16h0m0 6h0m1 1h0m4-22h0m0 36h0m3-12h0m3-4h0m2 5h0m3-14h0m0 14h0m3 12h0m1-5h0m13-48h0m2 57h0m6-62h0m6 9h0m2-31h0m0 76h0m2 6h0m4-59h0m6 11h0m9-33h0m2 9h0m2-12h0m2 9h0m3 6h0m0 5h0m1-6h0m0 11h0m8 9h0m2-29h0m7 18h0m5-16h0m0 35h0m3-25h0m0 13h0m1 3h0m3-5h0m2-22h0m0 20h0m3-6h0m1 6h0m5-20h0m0 3h0m7 15h0m3 4h0m2 12h0m2-42h0m1 2h0m1-4h0m1 42h0m1-2h0m1-39h0m0 27h0m1-8h0m2-18h0m0 20h0m3-16h0m0 5h0m1-6h0m0 5h0m1-5h0m1 3h0m0 1h0m1 38h0m3-23h0m2-1h0m2 16h0m2-5h0m0 22h0m2-23h0m1 3h0m4 1h0m5-9h0m13-6h0m0 31h0m3-13h0m10-14h0m4-8h0m4-1h0m1-4h0m0 7h0m1-4h0m0 7h0m0 10h0m2-12h0m1-5h0m0 7h0m1-4h0m0 5h0m1-11h0m0 5h0m0 5h0m1 6h0m1-14h0m0 4h0m0 0h0m1-2h0m1-3h0m1 6h0m0 1h0m1-7h0m0 1h0m0 8h0m2-6h0m1 0h0m4 27h0m3-25h0" stroke="#2f9a35"/>
<path d="M1068 184h0m0 1h0m1-12h0m8-8h0m1 18h0m2 6h0m3-9h0m1-12h0m0 17h0m2-12h0m2-8h0m8 9h0m1-4h0m6 14h0m2-21h0m1 11h0m0 4h0m1 2h0m1-16h0m0 30h0m1-63h0m0 51h0m5-1h0m1-8h0m0 0h0m1 0h0m2-23h0m4 20h0m4-14h0m0 5h0m2 7h0m0 9h0m0 8h0m3-22h0m3 14h0m4 0h0m2-13h0m1 4h0m1 2h0m1 3h0m3-27h0m0 19h0m0 13h0m8-12h0m1-2h0m3 9h0m8-19h0m1-9h0m5-12h0m0 55h0m1-12h0m5-28h0m5 14h0m0 2h0m0 10h0m0 1h0m2-20h0m6 3h0m2-11h0m1-1h0m7 6h0m1 25h0m1-11h0m1-38h0m1 5h0m2 40h0m5-21h0m1 22h0m1-42h0m1 41h0m0 2h0m0 11h0m2-33h0m2 25h0m2 11h0m2-12h0m4-27h0m1-12h0m1 45h0m1-22h0m0 16h0m1-30h0m0 8h0m2 9h0m4-29h0m2 12h0m1 37h0m1-33h0m2 25h0m2-5h0m10-26h0m10 27h0m1-19h0m8-1h0m7 4h0" stroke="#5bc8d6"/>
<path d="M1046 166h0m7-13h0m1-9h0m3 20h0m3-44h0m0 27h0m5 25h0m2-9h0m1-15h0m1-15h0m3 11h0m3 17h0m1 1h0m8-32h0m2-16h0m2 45h0m4 17h0m4-37h0m1 9h0m0 27h0m2-33h0m0 8h0m2-10h0m1 3h0m0 11h0m1-30h0m0 41h0m1-56h0m1 53h0m1-20h0m0 14h0m0 16h0m1-25h0m0 29h0m1-65h0m3 15h0m1 1h0m2-13h0m1 21h0m3 14h0m0 25h0m3-62h0m1 0h0m3 34h0m4 20h0m2 13h0m1-75h0m1-6h0m0 32h0m1 44h0m1-13h0m1-45h0m0 31h0m1-16h0m3 28h0m0 20h0m1-67h0m0 65h0m7-33h0m1 9h0m0 26h0m2-41h0m3 33h0m2-44h0m2 35h0m2-56h0m1 25h0m2-26h0m1 36h0m1-40h0m1-2h0m4 64h0m1-6h0m1-42h0m0 22h0m4-29h0m1-11h0m3 46h0m1-36h0m0 21h0m2 12h0m3 13h0m0 15h0m1-29h0m3 10h0m5-43h0m0 13h0m4 6h0m3-3h0m1-2h0m5 35h0m1-6h0m2-31h0m7 1h0m3-5h0m0 26h0m3 5h0m2-28h0m1 34h0m2-36h0m1 45h0m6-48h0m1 32h0m4-8h0m3 14h0m5-47h0m2 34h0m0 26h0m1-31h0m0 7h0m1-9h0m16 31h0m1-33h0m7 20h0m2 7h0m1-40h0m12 26h0m1-30h0m3 32h0m13-13h0m3 6h0" stroke="#2a47b8"/>
<path d="M1148 128h0m24 31h0m9-50h0m22-3h0m2-6h0m1 18h0m1 37h0m3-45h0m3 46h0m0 5h0m2-14h0m3 4h0m1-19h0m1 1h0m1-31h0m1 31h0m2-19h0m1 31h0m0 12h0m1-10h0m0 5h0m1-48h0m0 4h0m0 58h0m1-50h0m1 8h0m0 44h0m2-2h0m5-50h0m1 12h0m0 3h0m0 12h0m0 9h0m0 8h0m3 8h0m1-43h0m3-3h0m4 44h0m1-14h0m6-60h0m0 15h0m1 5h0m1 11h0m1-13h0m0 13h0m1-18h0m0 22h0m3 1h0m0 4h0m1-11h0m0 28h0m1-23h0m0 16h0m2 8h0m2 6h0m1-26h0m1-19h0m0 3h0m1 4h0m1 9h0m2 6h0m1-28h0m2 17h0m0 26h0m2 7h0m4-27h0m1-16h0m2 3h0m1 3h0m0 23h0m3-42h0m0 19h0m2 39h0m1-48h0m3 11h0m1 35h0m1-43h0m1 10h0m1-2h0m1-5h0m2-1h0m1 5h0m0 13h0m11-11h0m1 12h0m8-13h0m2 4h0m5-7h0" stroke="#a24bb5"/>
<path d="M1041 142h0m18-1h0m1 3h0m7-4h0m5 0h0m3-1h0m2 6h0m1-13h0m0 6h0m0 5h0m6-2h0m2 5h0m2-8h0m1 2h0m1 4h0m3-3h0m1-2h0m4 2h0m2-3h0m0 6h0m4-6h0m1 0h0m2 0h0m1 1h0m9-52h0m3 6h0m2-5h0m2-2h0m1 9h0m3-6h0m0 2h0m1-2h0m2-3h0m0 5h0m3-5h0m2-2h0m0 2h0m0 7h0m1-13h0m0 12h0m1-10h0m0 3h0m0 1h0m2 5h0m4-8h0m0 4h0m1-1h0m1 2h0m0 3h0m3-6h0m2 6h0m5-5h0m2-2h0m0 5h0m0 4h0m1-12h0m6 1h0m0 5h0m0 5h0m3-6h0m1 7h0m0 3h0m2-14h0m1 1h0m0 0h0m8 2h0m32 5h0" stroke="#f5b3c9"/>
<path d="M1065 168h0m6 1h0m1-1h0m4 9h0m3 1h0m1-6h0m3-14h0m3 3h0m1-4h0m0 16h0m1-11h0m0 8h0m2 9h0m5-6h0m1-12h0m0 22h0m2-37h0m5-22h0m1-12h0m0 23h0m0 51h0m5-14h0m3 18h0m1-7h0m15-60h0m0 64h0m1-71h0m0 80h0m3-2h0m0 3h0m1-81h0m0 23h0m0 52h0m1 11h0m2-96h0m1 60h0m1 27h0m2-24h0m0 33h0m1-68h0m1-1h0m1-9h0m2 1h0m0 74h0m1 4h0m1 1h0m1-67h0m3 64h0m2-55h0m0 52h0m1-10h0m1 2h0m0 2h0m1 9h0m1-14h0m1 4h0m0 2h0m0 11h0m2-19h0m0 5h0m1-88h0m0 97h0m3 6h0m4-94h0m9 6h0m0 11h0m3-16h0m0 3h0m9 31h0m3-40h0m2 43h0m2-25h0m10-6h0m1 29h0m5-11h0m1 17h0m0 11h0m7 1h0m2 8h0m1 5h0m2-67h0m0 38h0m1 19h0m1 2h0m2-62h0m0 59h0m1-21h0m1-26h0m1 3h0m0 31h0m2 9h0m1 12h0m0 5h0m2-10h0m1-4h0m3-43h0m0 44h0m4 0h0m1-9h0m0 5h0m0 1h0m0 14h0m2-8h0m0 2h0m0 3h0m1-6h0m1 9h0m1-52h0m2 37h0m0 9h0m0 4h0m2-27h0m0 29h0m2-3h0m1-8h0m0 6h0m2-8h0m0 19h0m1-18h0m0 11h0m2-4h0m1 3h0m1-2h0m1-41h0m0 31h0m0 10h0m1-9h0m1-5h0m1-33h0m0 39h0m1 4h0m1 10h0m2-11h0m0 3h0m1-31h0m1 24h0m0 8h0m1-3h0m0 12h0m3-75h0m0 56h0m2 18h0m3-7h0m0 5h0m1-57h0m1-8h0m0 59h0m0 4h0m1-52h0m1 38h0m0 8h0m0 2h0m1-55h0m0 35h0m0 20h0m1-10h0m0 8h0m0 3h0m0 2h0m3-60h0m0 54h0m1 2h0m1-2h0m1-3h0m2 10h0m1-22h0m1-35h0m4 0h0m0 40h0m1 16h0m1-19h0m0 12h0m1-55h0m0 50h0m1-14h0m5-7h0m1 22h0m1-6h0m4 4h0m1-15h0m1-18h0m1 27h0m0 1h0m1-14h0m2 9h0m2-17h0m0 34h0m1-3h0m2-4h0m0 6h0m0 2h0m1-10h0m1-2h0m2-16h0m1-1h0m2 18h0m1-3h0m0 17h0m1-12h0m3 11h0m4-26h0m0 18h0m2-24h0m0 17h0m4-10h0" stroke="#8f3fae"/>
<path d="M1053 142h0m9 12h0m9-9h0m0 8h0m21 21h0m10-41h0m4-8h0m6 42h0m2-17h0m1-5h0m1-23h0m4-3h0m0 18h0m2 19h0m2-30h0m3 33h0m2-47h0m1 5h0m1 46h0m1-31h0m2-16h0m1 42h0m1-10h0m2-8h0m1-31h0m3 24h0m2 10h0m1-16h0m2-9h0m1 59h0m5-49h0m1-10h0m0 3h0m1-6h0m2 44h0m1-32h0m2-12h0m1 0h0m0 11h0m2 13h0m0 18h0m1-35h0m0 14h0m2-27h0m0 22h0m1 9h0m0 4h0m1-13h0m1-22h0m0 20h0m2-6h0m1 15h0m1-24h0m0 41h0m5-29h0m1-9h0m0 3h0m1 4h0m1-14h0m0 30h0m1 7h0m1-26h0m0 13h0m4 12h0m2-8h0m2-25h0m1 22h0m2 7h0m1 10h0m1-37h0m0 7h0m1-4h0m2 2h0m0 0h0m4-12h0m1 16h0m0 22h0m2-38h0m0 5h0m1 0h0m0 14h0m1-12h0m0 23h0m2-35h0m0 22h0m2-19h0m0 4h0m1 39h0m1-42h0m0 39h0m2 0h0m1-32h0m1 41h0m4-25h0m1 19h0m2-13h0m0 15h0m3-41h0m1 30h0m0 1h0m2-2h0m2-7h0m1 4h0m1-31h0m3 19h0m2 17h0m0 11h0m1-21h0m0 5h0m2 39h0m2-38h0m0 8h0m1-39h0m0 34h0m1-13h0m3 7h0m2 5h0m2-9h0m2 0h0m1-20h0m3 29h0m3 1h0m6 6h0m11-11h0m5-3h0m4 1h0m1 37h0m10-71h0m0 51h0" stroke="#a52a33"/>
<path d="M1119 126h0m6 5h0m1-5h0m2 2h0m5 3h0m9-3h0m1 7h0m3 38h0m9-49h0m2 0h0m5 38h0m1-38h0m6 7h0m3-5h0m0 67h0m4-22h0m8 20h0m0 1h0m0 5h0m0 5h0m2-32h0m1-13h0m0 46h0m2-13h0m3 12h0m1 3h0m2-11h0m0 9h0m1-18h0m0 5h0m0 2h0m0 9h0m1-4h0m0 1h0m1-3h0m1 2h0m1 7h0m2 1h0m1-2h0m0 9h0m2-15h0m1-4h0m3 1h0m1 13h0m1-3h0m4-11h0m1-41h0m6-19h0m2 72h0m2-57h0m10 6h0m10 51h0m8-10h0m2 9h0m4-10h0m0 6h0m2-10h0m2 4h0m0 2h0m0 5h0m2-13h0m0 7h0m2-10h0m0 17h0m2-7h0m1 2h0m0 6h0m2-4h0m8-3h0m1 12h0m2-7h0m4-8h0m0 5h0m1 6h0m10-19h0m10-5h0m1 16h0m7-11h0m1-6h0m1-1h0m0 9h0m1-10h0m1 3h0m0 5h0m0 2h0m4-12h0m3-5h0m1 15h0m1-9h0m0 5h0m4 6h0m1-10h0m0 2h0m0 2h0m0 2h0m4-9h0m0 8h0m3 2h0m1-12h0m1 2h0m3 2h0m0 5h0m2-4h0m1 3h0m0 7h0" stroke="#e41a1c"/>
<path d="M992 148h0m2-6h0m1 4h0m1-10h0m0 5h0m1 6h0m0 6h0m1-11h0m0 6h0m0 9h0m3-13h0m2-9h0m0 10h0m1-2h0m2-12h0m1 6h0m0 0h0m0 7h0m0 2h0m0 0h0m0 4h0m1-17h0m0 3h0m0 8h0m0 10h0m1-18h0m0 3h0m1-5h0m0 19h0m0 2h0m2-27h0m0 5h0m0 16h0m2-21h0m0 7h0m0 2h0m0 17h0m1-6h0m1-12h0m2-1h0m0 9h0m1-17h0m0 3h0m0 4h0m0 3h0m3-10h0m0 1h0m0 5h0m1-1h0m1-5h0m4 4h0m0 0h0m2-3h0m1 42h0m4-8h0m1-33h0m7-9h0m0 4h0m2-1h0m1-2h0m1 46h0m1-39h0m2 44h0m0 4h0m3-61h0m0 2h0m0 58h0m0 4h0m0 6h0m1-67h0m0 58h0m0 7h0m0 5h0m1-66h0m0 54h0m1-51h0m0 52h0m0 0h0m0 6h0m1-61h0m0 54h0m0 1h0m0 0h0m0 0h0m1-64h0m0 2h0m0 65h0m1 2h0m0 4h0m1-71h0m2 61h0m1-64h0m0 10h0m0 1h0m2 0h0m0 54h0m0 3h0m2-65h0m0 65h0m2-61h0m2-3h0m0 5h0m1-8h0m0 2h0m0 10h0m1-8h0m3-1h0m0 5h0m1 5h0m1-14h0m0 5h0m0 5h0m1-8h0m0 11h0m8-10h0m1 8h0m1-6h0m1-1h0m0 1h0m0 2h0m0 3h0m1-2h0m2-10h0m2-1h0m4 5h0m10 5h0m4 2h0m1-20h0m1 15h0m4-10h0m0 6h0m4-2h0m0 1h0m4 2h0m0 1h0m6 2h0" stroke="#f7941d"/>
<path d="M1164 154h0m10 6h0m5 14h0m6-12h0m8-10h0m2 12h0m2-11h0m3-4h0m4-28h0m0 16h0m2 8h0m2 13h0m2-10h0m0 25h0m0 0h0m1 1h0m1-28h0m10 7h0m3-18h0m0 34h0m1-25h0m2 25h0m1-13h0m3-23h0m0 39h0m1-24h0m1 28h0m5-37h0m1 15h0m2-5h0m0 12h0m6-24h0m0 37h0m2-5h0m1-26h0m0 7h0m1-6h0m1-5h0m2 15h0m3 8h0m1-32h0m1 38h0m6-7h0m4-7h0m4-15h0m0 5h0m2 10h0m0 15h0m1-35h0m2 31h0m2-3h0m4 12h0m1-33h0m2 28h0m1 7h0m1-11h0m2-3h0m7-3h0m7-21h0m2 14h0m13-14h0m0 27h0m8-1h0m7 4h0" stroke="#e3e336"/>
<path d="M1045 166h0m3-9h0m1 12h0m2-5h0m10-10h0m1 13h0m0 2h0m7-8h0m1-13h0m0 9h0m4-10h0m5 16h0m1-12h0m0 11h0m2-6h0m2-3h0m1 22h0m2-10h0m5-7h0m0 7h0m1-20h0m8-6h0m0 34h0m2-24h0m6 2h0m1 0h0m3 5h0m3-7h0m7-15h0m0 30h0m4-62h0m1 70h0m1-57h0m3-20h0m1 23h0m0 12h0m4-23h0m4 1h0m1-9h0m0 8h0m5 2h0m3 2h0m5-7h0m0 1h0m1 19h0m1-7h0m1-19h0m0 21h0m5-15h0m3 3h0m1 1h0m2 3h0m2 9h0m4-13h0m0 17h0m6-13h0m4 11h0m3 11h0m2-36h0m1 20h0m1 13h0m2-22h0m2 26h0m1-34h0m0 11h0m3 12h0m3 5h0m1-21h0m0 32h0m5-39h0m0 27h0m1-6h0m1 7h0m1-36h0m1 22h0m0 17h0m1-43h0m1 2h0m0 38h0m1-41h0m0 5h0m1-3h0m0 17h0m0 11h0m2-7h0m1-15h0m4-7h0m0 3h0m0 4h0m0 22h0m0 7h0m1-36h0m0 57h0m1-58h0m0 10h0m1-2h0m1-2h0m0 31h0m1-34h0m0 7h0m0 14h0m1-23h0m1 9h0m1 12h0m9 9h0m2-1h0m2 3h0m0 4h0m2-16h0m3 25h0m1 6h0m3-33h0m0 37h0m3-11h0m1-11h0m10-5h0m11-14h0m1-2h0m0 1h0m0 1h0m0 15h0m1 18h0m4-27h0m1-4h0m0 4h0m1 6h0m0 2h0m2-17h0m0 2h0m0 14h0m1-15h0m0 11h0m0 8h0m1-13h0m0 3h0m1-10h0m1 14h0m1-6h0m0 1h0m2-2h0m3 6h0m0 1h0" stroke="#2f9a35"/>
<path d="M1074 161h0m1 25h0m1-6h0m0 5h0m1-33h0m1 27h0m5-5h0m4 12h0m2-8h0m0 13h0m2-6h0m1-18h0m1-1h0m1-15h0m0 18h0m4 16h0m1 1h0m3-19h0m0 7h0m0 2h0m7 1h0m2-11h0m0 7h0m0 15h0m3-9h0m1-2h0m1-6h0m1 13h0m2-19h0m0 8h0m3 8h0m1 5h0m1-22h0m0 17h0m5-8h0m3 3h0m2 3h0m3-21h0m3 8h0m1-12h0m0 11h0m7 15h0m9-4h0m1-23h0m1 8h0m0 34h0m2-8h0m14-22h0m5-5h0m0 7h0m1-25h0m0 24h0m4-32h0m0 32h0m1 0h0m2 2h0m2 3h0m2-11h0m1 6h0m2 17h0m4-7h0m1-18h0m0 8h0m4-13h0m1 13h0m0 1h0m1-24h0m0 31h0m3 6h0m1-8h0m5-11h0m10 1h0m4-22h0m1 41h0m1-33h0m3-3h0m4 22h0m4-20h0m0 24h0m5-22h0m2-3h0m4 16h0m1-18h0m0 27h0m9-6h0m7-2h0m4 3h0" stroke="#5bc8d6"/>
<path d="M1018 167h0m27-4h0m4-6h0m2-1h0m0 8h0m5 1h0m2-13h0m6 5h0m6-26h0m2-1h0m2-4h0m8-3h0m3 43h0m4-11h0m1-41h0m1 34h0m2-28h0m0 40h0m0 7h0m3-45h0m0 31h0m3-35h0m0 30h0m1-8h0m0 27h0m1 4h0m2-4h0m1-51h0m0 50h0m2-32h0m1 14h0m0 16h0m1-40h0m1 47h0m1-26h0m0 3h0m0 14h0m1-21h0m1 3h0m0 22h0m1 4h0m1-17h0m2 1h0m0 14h0m1 1h0m1-50h0m0 40h0m1-1h0m2 26h0m1-84h0m0 70h0m2-8h0m2-41h0m0 30h0m1-30h0m1 37h0m0 19h0m1-6h0m3-63h0m0 52h0m2-41h0m1 21h0m0 18h0m4-8h0m1-24h0m1-23h0m0 4h0m4 58h0m0 3h0m0 14h0m2-66h0m0 32h0m1 12h0m0 16h0m1-40h0m1 21h0m2-8h0m0 14h0m1-42h0m0 6h0m1 2h0m2 16h0m1 0h0m1-23h0m1 34h0m6-27h0m1 5h0m1 4h0m2-6h0m5-5h0m1 41h0m1-27h0m1 19h0m0 8h0m1-71h0m0 19h0m1 40h0m4 31h0m4-64h0m3 13h0m12-31h0m1 62h0m9-23h0m1-7h0m0 5h0m2 4h0m2-10h0m0 18h0m1 8h0m4-18h0m5 5h0m2-17h0m2-19h0m3 32h0m2 8h0m3 1h0m9-27h0m1-22h0m0 45h0m5-23h0m1-12h0m9 18h0m1 27h0m15-30h0m11 4h0m0 14h0m8-9h0m2-13h0m1 2h0" stroke="#2a47b8"/>
<path d="M1180 114h0m5 31h0m2-28h0m2-2h0m4 15h0m2-12h0m0 1h0m4 11h0m1-33h0m0 34h0m1 37h0m1-9h0m1-41h0m1 6h0m0 28h0m2-33h0m0 45h0m2-43h0m4 46h0m2-69h0m1 61h0m1-51h0m1 47h0m0 4h0m0 1h0m1-42h0m1-4h0m1 53h0m1-61h0m1 8h0m0 8h0m1-11h0m4-11h0m1 3h0m0 52h0m2-55h0m1 20h0m1 32h0m2-35h0m5 44h0m0 8h0m3-13h0m3 3h0m2-27h0m0 12h0m1-11h0m0 29h0m1-9h0m2 2h0m0 2h0m1-56h0m0 43h0m2-8h0m0 10h0m3-37h0m2 41h0m2-26h0m1-1h0m1 38h0m1-55h0m0 2h0m0 15h0m0 15h0m1-26h0m0 54h0m1-45h0m0 32h0m1-27h0m2 19h0m3-16h0m1 23h0m1-30h0m0 24h0m0 5h0m1-24h0m4 21h0m1-46h0m0 3h0m0 8h0m0 4h0m0 34h0m7-36h0m0 14h0m5-4h0m3-22h0m0 1h0m0 24h0m2 5h0m6-11h0m1 0h0m1 0h0m1-11h0m0 6h0m6 54h0m1-33h0m4-33h0m1 1h0m2 29h0m3-8h0m2-1h0" stroke="#a24bb5"/>
<path d="M1057 138h0m1-4h0m8 5h0m2 3h0m4-4h0m1-1h0m0 4h0m1-1h0m1-3h0m0 1h0m7 4h0m3-2h0m1 1h0m2-1h0m0 3h0m3-3h0m1 0h0m1 5h0m2-4h0m2 5h0m2-9h0m6 5h0m19-53h0m2-5h0m0 8h0m2-5h0m0 6h0m2-9h0m1 2h0m6-3h0m3-1h0m0 2h0m0 1h0m1-1h0m1-1h0m2 6h0m1-8h0m4-1h0m0 6h0m6 2h0m0 0h0m1-2h0m2 5h0m1-6h0m4 5h0m2 3h0m0 4h0m2-11h0m0 1h0m0 3h0m4-6h0m1-1h0m1 6h0m3-8h0m3-1h0m0 11h0m4-6h0m1 0h0m4 4h0m5-6h0m7 7h0" stroke="#f5b3c9"/>
<path d="M1059 114h0m4 44h0m2 10h0m4 13h0m11-20h0m0 10h0m0 7h0m1-16h0m0 19h0m3 0h0m1-13h0m0 3h0m7-21h0m5 13h0m1-11h0m2 31h0m3-10h0m9-12h0m10 25h0m2-77h0m0 35h0m1 57h0m3-26h0m1 19h0m1-5h0m0 10h0m1-5h0m0 3h0m2-8h0m1 6h0m2 7h0m1-4h0m0 7h0m2-12h0m2 6h0m2-5h0m0 2h0m0 3h0m0 1h0m1-5h0m1-73h0m0 51h0m0 22h0m0 1h0m4-78h0m0 65h0m0 17h0m1-5h0m0 1h0m1-26h0m4 35h0m1-15h0m0 2h0m3 8h0m2-8h0m2 9h0m6-65h0m1 59h0m1-92h0m13 46h0m2 2h0m2-13h0m7-19h0m6-7h0m0 45h0m3-33h0m4 12h0m1-9h0m3-20h0m0 19h0m4 24h0m8 21h0m0 2h0m2-37h0m3 38h0m1-35h0m0 33h0m2-2h0m1-15h0m5 15h0m0 1h0m1 2h0m2-27h0m1 15h0m0 10h0m3-63h0m0 63h0m1 2h0m0 0h0m1-5h0m1 2h0m3-36h0m0 41h0m1-36h0m0 31h0m0 8h0m1-3h0m2-6h0m0 4h0m1 3h0m0 5h0m2-20h0m2 19h0m1-18h0m0 12h0m1-55h0m0 48h0m1-52h0m0 67h0m1-18h0m1-37h0m4 39h0m2 10h0m0 0h0m3 0h0m3-9h0m0 6h0m1-29h0m0 23h0m0 1h0m0 1h0m1-3h0m1 16h0m1-64h0m0 10h0m0 41h0m1-1h0m1-28h0m0 31h0m1-68h0m0 76h0m3-14h0m1 7h0m2-6h0m14-23h0m1 24h0m1-14h0m1 4h0m1-7h0m1 0h0m5-14h0m1 21h0m2 3h0m0 8h0m1-52h0m0 29h0m1 12h0m0 9h0m1-7h0m0 4h0m2-10h0m0 8h0m1-20h0m1 16h0m0 11h0m3-20h0m0 2h0m1 9h0m0 1h0m1-1h0m2-14h0m0 8h0m0 15h0m1-15h0m1 17h0m1-10h0m0 5h0m1-28h0m0 24h0m1 1h0m1-24h0m1 14h0m0 12h0m0 2h0m1-22h0m2 24h0m0 2h0m4-11h0" stroke="#8f3fae"/>
<path d="M1047 145h0m14 14h0m4 4h0m2-9h0m1 3h0m6-5h0m12 2h0m2 6h0m17 20h0m1-52h0m3 24h0m4-19h0m2 30h0m1-24h0m2-3h0m1-9h0m3 28h0m0 26h0m1-63h0m0 7h0m0 9h0m0 31h0m3-49h0m5-3h0m1 7h0m0 38h0m0 8h0m3-55h0m4 15h0m4-9h0m1 12h0m0 10h0m1-19h0m0 5h0m0 16h0m1 37h0m1-63h0m0 7h0m5 2h0m1-14h0m0 25h0m3-20h0m0 20h0m4-16h0m7 0h0m0 27h0m0 1h0m6-20h0m0 10h0m1-35h0m1 5h0m0 24h0m1-10h0m1-1h0m1 1h0m1-6h0m3 23h0m1-8h0m0 2h0m1 29h0m1-26h0m1-13h0m1-27h0m1 39h0m3-10h0m2-1h0m0 11h0m1-23h0m3 17h0m2-11h0m0 6h0m1-11h0m0 11h0m1-16h0m5 11h0m1 9h0m3 9h0m0 0h0m5-3h0m1-25h0m0 7h0m1 25h0m0 6h0m2-32h0m2 40h0m1-31h0m0 3h0m1 29h0m1-10h0m0 5h0m1 1h0m1-50h0m5 5h0m1 22h0m1-28h0m2 40h0m5-17h0m1 13h0m0 3h0m4-9h0m0 15h0m2-28h0m5 34h0m1-22h0m0 6h0m4 8h0m3 1h0m14 7h0m2-12h0m11-15h0m2 25h0" stroke="#a52a33"/>
<path d="M1121 122h0m1 8h0m20 15h0m15-23h0m1 16h0m16 7h0m1 49h0m3-48h0m2 57h0m1-3h0m2-2h0m1-6h0m1 6h0m1-58h0m0 21h0m0 35h0m0 1h0m1-5h0m2 6h0m0 2h0m2 7h0m3-11h0m2 9h0m2-55h0m2 55h0m1-11h0m1-50h0m1 17h0m0 37h0m1 10h0m8-7h0m0 6h0m0 4h0m5-88h0m1 34h0m0 52h0m1-62h0m6 58h0m14-63h0m7 56h0m5-1h0m4-8h0m0 13h0m0 1h0m2-4h0m4-5h0m0 4h0m0 7h0m1-11h0m7 11h0m4-9h0m0 5h0m5 5h0m3-16h0m0 4h0m0 9h0m1-6h0m0 3h0m2-4h0m0 2h0m1-3h0m1-3h0m7 3h0m6 3h0m11-11h0m5-11h0m0 0h0m1 3h0m2 6h0m3-11h0m3-2h0m1 7h0m0 2h0m0 1h0m0 0h0m0 0h0m4 2h0m0 4h0m2-8h0m2 0h0m5-12h0m1 26h0m13-16h0m4-1h0" stroke="#e41a1c"/>
<path d="M991 151h0m1-5h0m1-1h0m2 8h0m0 1h0m1-10h0m0 1h0m1-1h0m1 10h0m1-8h0m0 1h0m1-14h0m0 14h0m1-13h0m0 9h0m1 10h0m0 1h0m1-23h0m0 26h0m1-22h0m1 1h0m2 11h0m1 2h0m0 8h0m0 1h0m1-8h0m2-16h0m1 23h0m0 0h0m1-24h0m2 12h0m1-8h0m0 11h0m1-23h0m0 7h0m4-1h0m2 2h0m1 5h0m4-1h0m1-5h0m3-9h0m0 7h0m3 3h0m2 9h0m1 28h0m2-35h0m1-7h0m0 41h0m1 5h0m2-53h0m1 9h0m1-8h0m0 49h0m1-49h0m1-1h0m2-9h0m1 8h0m1 58h0m0 1h0m1-54h0m1 57h0m1-61h0m1 62h0m1-65h0m0 58h0m0 4h0m0 1h0m0 1h0m0 0h0m0 3h0m1-69h0m1 5h0m0 57h0m0 0h0m1 6h0m1-70h0m0 10h0m0 0h0m0 60h0m2-9h0m0 3h0m1 3h0m1-67h0m1 13h0m2-4h0m1-9h0m0 2h0m0 0h0m0 2h0m0 60h0m0 3h0m1-65h0m0 62h0m0 10h0m3-69h0m1-6h0m1 3h0m0 7h0m1-2h0m3 1h0m1-11h0m2 13h0m1 2h0m2-10h0m2 6h0m2-14h0m3 15h0m1-6h0m3 5h0m2-9h0m0 2h0m1 5h0m3-1h0m0 5h0m3-4h0m5 5h0m9-13h0m9 1h0m0 1h0m11-8h0" stroke="#f7941d"/>
<path d="M1119 143h0m17 32h0m19-19h0m11 3h0m1-2h0m6-5h0m0 2h0m0 8h0m5 5h0m6-6h0m3 5h0m6-10h0m12-7h0m3-23h0m2 42h0m1-8h0m3 7h0m0 9h0m1-46h0m2 30h0m4-4h0m1-9h0m2-8h0m1 22h0m4 5h0m4-42h0m0 37h0m3-31h0m2 37h0m2-25h0m3 38h0m1-54h0m0 18h0m1 34h0m3-26h0m1 11h0m3-30h0m0 10h0m3-12h0m4 10h0m2-8h0m5 10h0m0 1h0m0 5h0m0 15h0m5-32h0m1 45h0m1-14h0m0 2h0m1 3h0m1-28h0m0 1h0m1 11h0m4 11h0m1-36h0m1 8h0m0 25h0m1-11h0m2-8h0m0 6h0m0 15h0m1-24h0m3 12h0m1-8h0m2 2h0m1-2h0m1-9h0m3 31h0m6-32h0m0 29h0m4-11h0m5-12h0m2 8h0m2 25h0m1-15h0m3 4h0m6-3h0m2 6h0" stroke="#e3e336"/>
<path d="M1057 158h0m1 11h0m2-7h0m5 0h0m6-6h0m1-9h0m2 7h0m11 5h0m2-8h0m2-2h0m1 25h0m1-18h0m3 10h0m2-3h0m0 10h0m6 4h0m3-28h0m3 29h0m1-15h0m6-33h0m8-18h0m5 0h0m14 4h0m5-25h0m1 36h0m4 45h0m2-37h0m1-35h0m0 16h0m1 23h0m1-20h0m1 7h0m7-18h0m4 10h0m6 13h0m1-13h0m1-11h0m3-2h0m1-8h0m0 22h0m2 5h0m3 10h0m2 0h0m1-44h0m0 29h0m0 16h0m1-11h0m0 3h0m2 0h0m3-28h0m2 3h0m2 9h0m2-1h0m4-1h0m4 17h0m2-7h0m2-8h0m3-28h0m5 11h0m1-2h0m0 2h0m2-6h0m0 4h0m1-4h0m2 0h0m0 0h0m2 2h0m0 23h0m1-22h0m0 11h0m2-12h0m1 48h0m1-25h0m0 10h0m4 14h0m2-8h0m5-7h0m0 9h0m1-19h0m1 4h0m6 14h0m8 8h0m2-29h0m0 1h0m5 32h0m8-33h0m4-4h0m1-5h0m0 1h0m0 4h0m0 0h0m0 5h0m2-2h0m0 18h0m1-27h0m0 5h0m1-3h0m0 9h0m4-8h0m2-4h0m0 8h0m1 9h0m1-7h0m1 4h0m0 3h0m1-15h0m1 9h0m0 1h0m1 4h0m1-3h0m1-10h0m7 8h0" stroke="#2f9a35"/>
<path d="M1046 187h0m22-5h0m11 1h0m4-1h0m3 3h0m2-11h0m3 6h0m2 9h0m2-12h0m3-15h0m1 20h0m2-14h0m0 1h0m1 12h0m2 8h0m1-17h0m2 16h0m2-25h0m2 8h0m1-22h0m0 37h0m1-12h0m2 22h0m3-21h0m1-1h0m0 14h0m4-12h0m2 3h0m0 1h0m3 10h0m2-26h0m4-21h0m1 20h0m10 14h0m1-11h0m1-2h0m1 6h0m2-1h0m1-5h0m0 7h0m5-36h0m5 29h0m2 18h0m2-21h0m0 20h0m6-15h0m2 8h0m0 7h0m1-18h0m1-15h0m3 13h0m0 17h0m1-34h0m0 14h0m0 6h0m12-10h0m1-1h0m1 30h0m6-41h0m4 41h0m4-45h0m3 32h0m1-26h0m3 39h0m8-24h0m1-7h0m1 5h0m2 24h0m2-44h0m0 7h0m7-1h0m7 32h0m2 1h0m1-38h0m0 20h0m3-8h0m3-13h0m0 41h0m4-16h0m2-12h0m0 7h0m1 2h0m1-19h0m4 20h0" stroke="#5bc8d6"/>
<path d="M1038 159h0m1 1h0m4 1h0m1-9h0m7-7h0m4 17h0m0 2h0m2-24h0m8 9h0m1-25h0m1 16h0m0 6h0m1 29h0m1-52h0m1 14h0m0 25h0m3-25h0m2 11h0m2-4h0m2-3h0m3 23h0m1 0h0m1-10h0m0 8h0m2-27h0m1 32h0m0 4h0m2-31h0m5-2h0m1-19h0m0 17h0m0 29h0m3-1h0m5-18h0m1 6h0m0 7h0m1-35h0m2 5h0m2-2h0m0 54h0m1-33h0m1 24h0m2-23h0m2 24h0m2-2h0m1-15h0m1 4h0m3 5h0m1-8h0m1 0h0m2 3h0m2 19h0m2-18h0m0 12h0m1-66h0m1 47h0m0 15h0m1-2h0m3-14h0m2 13h0m1-63h0m0 64h0m1 1h0m1-21h0m1 11h0m1 48h0m6-98h0m3 3h0m0 34h0m2-21h0m3 21h0m1 2h0m3-37h0m0 23h0m0 1h0m1-23h0m1 21h0m0 53h0m3-27h0m1 1h0m0 23h0m1-57h0m2-13h0m1 48h0m6-60h0m4 20h0m0 33h0m2-28h0m0 37h0m1-10h0m2-36h0m2-11h0m2 26h0m2 22h0m4 1h0m1 18h0m1-29h0m0 10h0m1-39h0m1 18h0m1 22h0m1-42h0m0 37h0m1-42h0m1 7h0m0 31h0m4-33h0m3 10h0m7 16h0m2 38h0m1-51h0m0 45h0m2-60h0m0 32h0m1 3h0m2 20h0m1-52h0m2 49h0m1-47h0m0 2h0m2 1h0m0 27h0m3 7h0m1 11h0m3-60h0m2 19h0m3-6h0m7 1h0m1-6h0m1 37h0m1-12h0m2-16h0m2 46h0m2-9h0m6-46h0m1 13h0m3-16h0m14 38h0m3-17h0m3-11h0m14 24h0m1 3h0m13-1h0m2-6h0" stroke="#2a47b8"/>
<path d="M1137 141h0m28-29h0m17 9h0m10 1h0m5 4h0m7-28h0m3 47h0m5-18h0m1 34h0m0 7h0m2-7h0m1-36h0m0 34h0m3-47h0m1 47h0m1-62h0m0 47h0m4-47h0m2-3h0m2 34h0m0 30h0m1-62h0m1 42h0m2 25h0m1-41h0m3 35h0m1 6h0m1-49h0m0 4h0m1-10h0m1 3h0m0 50h0m2-24h0m0 23h0m2-28h0m0 2h0m0 24h0m0 6h0m1-40h0m3 0h0m1 14h0m1-8h0m4 7h0m2-18h0m0 17h0m0 25h0m2-21h0m1-33h0m1 23h0m1-7h0m1-19h0m2 26h0m0 20h0m1-12h0m1-18h0m0 12h0m0 7h0m1-34h0m2 7h0m3 33h0m3-9h0m1-8h0m3 8h0m6 20h0m1-48h0m1 16h0m2 11h0m0 4h0m1-17h0m0 20h0m2-35h0m1 18h0m5-21h0m1 16h0m0 5h0m1-27h0m0 13h0m0 13h0m3-23h0m4 21h0m2 3h0m2 11h0m1-29h0m2 5h0m0 10h0m1-13h0m3 14h0m6-6h0m0 3h0m3 24h0m8-14h0m6 4h0" stroke="#a24bb5"/>
<path d="M1063 144h0m4-6h0m4 3h0m4-4h0m0 5h0m2 1h0m2 1h0m1-6h0m1-7h0m6 6h0m1 4h0m2-6h0m0 6h0m1-2h0m1 1h0m1-7h0m1 6h0m0 1h0m0 0h0m0 3h0m2 1h0m1 0h0m5-11h0m1 9h0m1-3h0m0 1h0m5 1h0m3-5h0m16-49h0m0 10h0m3-9h0m1-1h0m1-7h0m2 8h0m3-5h0m2 3h0m0 0h0m2 2h0m3-5h0m1 1h0m1 3h0m2-4h0m2-1h0m0 1h0m1-4h0m1 0h0m3 12h0m3-13h0m1 14h0m1-6h0m0 3h0m1 2h0m0 1h0m5-3h0m3 3h0m1-11h0m0 5h0m6 8h0m5-13h0m2 1h0m1 2h0" stroke="#f5b3c9"/>
<path d="M1020 137h0m47 7h0m8 12h0m1 17h0m1-18h0m3 2h0m0 27h0m7-17h0m0 13h0m1-2h0m1 1h0m2-7h0m1-12h0m5-2h0m2-4h0m1-11h0m2 37h0m1-45h0m0 28h0m1-39h0m1 17h0m0 9h0m1 8h0m2-12h0m0 2h0m1 12h0m3-20h0m0 15h0m1-44h0m4 48h0m0 10h0m2-7h0m10-35h0m0 68h0m1 1h0m1-27h0m1-40h0m0 72h0m1-16h0m1-74h0m0 34h0m1 61h0m1-4h0m1-33h0m0 23h0m0 7h0m1-3h0m0 1h0m0 4h0m2-4h0m1-89h0m0 70h0m1-8h0m0 24h0m0 2h0m0 7h0m1-10h0m1-67h0m0 66h0m1 8h0m0 4h0m1-6h0m0 1h0m1-7h0m2 4h0m0 6h0m1-29h0m1 17h0m2-2h0m2-59h0m0 77h0m1 1h0m2-25h0m0 23h0m1-85h0m3-9h0m2 15h0m3 74h0m1-85h0m2 31h0m7 51h0m30-79h0m1-22h0m0 7h0m7 52h0m1-5h0m5-32h0m1 37h0m3 14h0m1 9h0m1-34h0m0 26h0m3-2h0m0 1h0m1 5h0m0 1h0m1-45h0m3 42h0m0 5h0m2-44h0m1 35h0m2-11h0m0 21h0m1-7h0m1 0h0m5-6h0m2 3h0m1 3h0m1 2h0m1-5h0m0 15h0m1-58h0m1-2h0m0 39h0m1-44h0m1 60h0m1-10h0m1-27h0m2-30h0m1 29h0m0 30h0m0 5h0m1 13h0m2-17h0m1-28h0m1 22h0m2-59h0m0 60h0m1 1h0m0 10h0m1-12h0m1 3h0m2-51h0m0 53h0m0 2h0m0 1h0m1-28h0m0 17h0m1 4h0m0 12h0m1 2h0m2-34h0m0 19h0m2 1h0m4-41h0m1 45h0m2-8h0m0 11h0m1 0h0m2-2h0m7-2h0m2-50h0m5 19h0m0 15h0m2-45h0m1 35h0m0 11h0m1-27h0m0 15h0m1 10h0m1-13h0m0 9h0m1 10h0m1-9h0m0 14h0m1-11h0m4-20h0m0 18h0m0 7h0m1-13h0m1 6h0m0 1h0m0 13h0m1-30h0m0 11h0m0 17h0m1-30h0m0 21h0m1 8h0m1-27h0m0 25h0m1-19h0m3 22h0m0 2h0m1-12h0m0 7h0m0 5h0m0 4h0m1-23h0m0 18h0m1-2h0m1-17h0m0 8h0m0 10h0m0 3h0m1 7h0m2-29h0m0 11h0m0 19h0m1-36h0m0 27h0m1-8h0m0 1h0m2 11h0m4-10h0m0 3h0m2-16h0m1 2h0" stroke="#8f3fae"/>
<path d="M1059 155h0m1 3h0m4 20h0m25-22h0m6 7h0m2 1h0m8-35h0m3-4h0m0 16h0m0 6h0m4-14h0m0 16h0m0 7h0m9-47h0m1 43h0m1 14h0m3-26h0m0 4h0m0 13h0m1-37h0m0 36h0m2-29h0m3 43h0m0 4h0m4-19h0m1-39h0m0 18h0m1 7h0m0 11h0m3 22h0m1-52h0m0 12h0m0 7h0m3-26h0m5 29h0m0 2h0m3-24h0m1 15h0m1-32h0m1 21h0m0 5h0m2 25h0m1-35h0m1-10h0m1 12h0m1 2h0m0 15h0m1-28h0m0 26h0m1-16h0m0 4h0m1 15h0m1-29h0m0 8h0m4 10h0m1 13h0m2-29h0m4 4h0m0 1h0m2 0h0m1-19h0m0 29h0m1-22h0m0 20h0m1-26h0m0 8h0m0 18h0m2 3h0m1-2h0m0 3h0m2-20h0m0 5h0m1 5h0m3-2h0m1-14h0m1 29h0m2 5h0m1-31h0m0 5h0m1-10h0m0 34h0m1-34h0m1 6h0m2-3h0m0 3h0m0 5h0m0 27h0m2-29h0m1-5h0m1 39h0m1-48h0m1 28h0m1-17h0m0 31h0m3-7h0m3-8h0m4 4h0m3 14h0m3-47h0m2 23h0m0 0h0m3 34h0m1-27h0m4 17h0m0 1h0m1-38h0m0 20h0m2 17h0m1-10h0m2-1h0m7-21h0m0 12h0m1-10h0m0 3h0m2 36h0m1-41h0m0 31h0m4-2h0m1 4h0m2-8h0m3 3h0m2 9h0m5-4h0m2-4h0m1 0h0m4 1h0m3-2h0m3 9h0m10-4h0m1-49h0" stroke="#a52a33"/>
<path d="M1113 132h0m0 8h0m32 13h0m1-30h0m4 11h0m10-13h0m6 25h0m1 4h0m0 16h0m1-27h0m6 19h0m1 41h0m1-4h0m5 0h0m1 9h0m2-10h0m1 6h0m0 6h0m1-70h0m2 61h0m0 11h0m3-9h0m3-3h0m0 1h0m0 1h0m0 4h0m0 2h0m1-13h0m2-35h0m0 30h0m0 9h0m2-53h0m0 26h0m0 32h0m2-44h0m1 48h0m2-4h0m2 3h0m0 4h0m1-60h0m1 51h0m6-13h0m1 17h0m3 8h0m1-6h0m10-50h0m3-24h0m3 6h0m1 1h0m17 63h0m1-5h0m1 1h0m4 6h0m1-10h0m3 8h0m0 2h0m1-5h0m1 9h0m1-13h0m3 7h0m1-6h0m0 6h0m2-3h0m0 12h0m2-10h0m0 3h0m1-2h0m1-6h0m0 7h0m1-15h0m0 7h0m6-3h0m7 0h0m21 1h0m3-2h0m8-6h0m1 3h0m1-10h0m0 2h0m1 4h0m0 7h0m4-11h0m0 5h0m0 3h0m2 0h0m5-8h0m1-9h0m2 13h0m4-5h0m1-2h0m1-4h0m4 9h0m0 2h0m1-7h0m1 5h0" stroke="#e41a1c"/>
<path d="M993 148h0m2-7h0m1 12h0m1-3h0m1-5h0m0 1h0m0 9h0m1-12h0m1-9h0m0 12h0m0 0h0m1-10h0m0 1h0m0 7h0m0 5h0m0 1h0m1-15h0m1 2h0m1 7h0m0 4h0m0 0h0m1-9h0m0 9h0m1-8h0m1-5h0m0 20h0m1-1h0m1-16h0m5 2h0m2 4h0m1 4h0m2-14h0m0 10h0m0 15h0m1-26h0m0 19h0m1-21h0m3-8h0m0 9h0m1-7h0m0 7h0m1-5h0m0 4h0m0 29h0m2-36h0m0 5h0m4-2h0m1 11h0m8-15h0m5 34h0m0 25h0m2-58h0m0 3h0m1-4h0m0 52h0m1-8h0m0 12h0m1-54h0m0 50h0m1-63h0m0 5h0m1 0h0m0 1h0m0 63h0m1-1h0m1-7h0m0 0h0m0 6h0m1-60h0m0 4h0m0 52h0m0 1h0m1-56h0m0 2h0m0 3h0m1 52h0m0 0h0m0 6h0m1-74h0m0 9h0m0 5h0m0 8h0m1-16h0m0 5h0m0 64h0m1-59h0m0 1h0m0 50h0m1-58h0m0 56h0m0 10h0m2-69h0m0 8h0m0 60h0m1 0h0m1-66h0m0 72h0m1-73h0m0 8h0m0 2h0m0 1h0m0 54h0m1-66h0m0 66h0m1-58h0m0 5h0m2-10h0m2-1h0m2 5h0m0 0h0m2-8h0m4 4h0m1-4h0m0 2h0m2-6h0m0 6h0m2-1h0m0 1h0m0 1h0m0 6h0m1 1h0m1-5h0m2-12h0m0 6h0m0 1h0m0 9h0m1 1h0m2-8h0m0 6h0m2 1h0m29-13h0m4 3h0m58-12h0" stroke="#f7941d"/>
<path d="M1151 169h0m4-14h0m11 8h0m6-31h0m1 24h0m10 12h0m14-17h0m7 0h0m2-18h0m1 24h0m1-3h0m1 2h0m0 3h0m3-1h0m4-25h0m0 24h0m0 11h0m1-10h0m1 22h0m2-33h0m0 20h0m1 4h0m1-19h0m2-30h0m0 19h0m0 24h0m4-22h0m0 2h0m1 29h0m1-4h0m1-33h0m5 9h0m2 26h0m0 3h0m1-41h0m0 40h0m1-21h0m3 3h0m4-23h0m5 10h0m2-15h0m1 24h0m6 8h0m1-23h0m0 27h0m0 12h0m1-21h0m3 11h0m1 9h0m1-27h0m1 4h0m0 7h0m0 20h0m3-32h0m1 21h0m4-33h0m5-2h0m1 40h0m2-14h0m0 11h0m3-34h0m1 4h0m2-2h0m5 31h0m1-32h0m1 22h0m2 18h0m1-37h0m1 25h0m2 5h0m0 0h0m1-36h0m5 39h0m5-26h0m0 21h0m1 5h0m4-13h0m2-10h0m3 18h0m9-13h0" stroke="#e3e336"/>
<path d="M1062 162h0m2 10h0m6-10h0m2 5h0m7-14h0m1 20h0m4-28h0m0 5h0m0 11h0m5 6h0m3-10h0m2 21h0m1-25h0m2-11h0m2 18h0m4-53h0m8 67h0m4-22h0m0 9h0m1-45h0m5 36h0m2 11h0m3-49h0m3-1h0m0 7h0m0 47h0m3-63h0m1 10h0m4-9h0m1-7h0m8 34h0m3-35h0m9 25h0m2-19h0m2 4h0m7 29h0m4-24h0m1-7h0m3-4h0m1 24h0m1-4h0m1-6h0m3-4h0m1-7h0m2 27h0m3-15h0m4 9h0m5-30h0m1 15h0m5 31h0m2-40h0m0 3h0m0 39h0m1-16h0m1 5h0m2-19h0m4 8h0m1-30h0m0 45h0m0 3h0m1-29h0m0 22h0m2-7h0m1-39h0m0 6h0m1 0h0m1 1h0m0 19h0m1-24h0m0 7h0m1-9h0m0 12h0m0 4h0m2 2h0m1 7h0m1-22h0m0 3h0m1 9h0m0 17h0m1 2h0m1-26h0m0 2h0m3 1h0m3 1h0m1 17h0m0 1h0m3-17h0m0 5h0m0 1h0m14 14h0m6-5h0m1 4h0m6-13h0m3 7h0m7-2h0m1-3h0m4 0h0m0 6h0m1-13h0m1-3h0m0 2h0m0 2h0m0 2h0m0 2h0m2-4h0m1 3h0m1-4h0m3 9h0m1-9h0m3-1h0m3 12h0m0 2h0m51 40h0" stroke="#2f9a35"/>
<path d="M1048 153h0m18 24h0m6-24h0m5 19h0m2 3h0m12-1h0m1-7h0m1 3h0m2 1h0m3 6h0m3 17h0m1-26h0m1 4h0m1-10h0m0 2h0m5 20h0m2-5h0m4-8h0m1 3h0m2-1h0m1-31h0m2 33h0m2 0h0m3-2h0m4-6h0m0 21h0m1-8h0m5-9h0m0 14h0m5-2h0m1-1h0m11-19h0m1 10h0m0 3h0m1-2h0m4-14h0m1-13h0m7 11h0m4-6h0m8 10h0m1 19h0m1-34h0m1-19h0m12 25h0m4-14h0m1 16h0m0 5h0m0 6h0m0 14h0m2-41h0m2-6h0m2 6h0m4 27h0m2-14h0m1 26h0m4-26h0m1 4h0m0 19h0m1-58h0m2 53h0m2-14h0m2 2h0m3-23h0m0 31h0m2 10h0m7 1h0m5-1h0m1-18h0m2-9h0m1 21h0m0 14h0m1-26h0m0 15h0m7-26h0m1 35h0m1-30h0m0 1h0m14 6h0m2-4h0m5 8h0m2-6h0m0 11h0m47 16h0" stroke="#5bc8d6"/>
<path d="M1043 150h0m6 8h0m7-18h0m0 18h0m2-8h0m1 18h0m2-4h0m3-9h0m0 21h0m5 1h0m2-30h0m3 4h0m0 3h0m2-23h0m2 3h0m1-6h0m1-15h0m1 15h0m0 20h0m2-5h0m1 9h0m1-27h0m1 29h0m4 4h0m1 10h0m3-43h0m0 30h0m2-19h0m2 4h0m2-12h0m0 17h0m7-23h0m2 24h0m1-39h0m0 53h0m1 0h0m0 2h0m2 6h0m1 2h0m1-12h0m0 14h0m1-39h0m0 21h0m1-6h0m0 6h0m0 21h0m1-25h0m1-9h0m1 13h0m1 7h0m0 9h0m2-22h0m3 23h0m0 15h0m1 2h0m1-29h0m1-30h0m0 41h0m5-19h0m2-16h0m1 22h0m1 26h0m1-82h0m0 79h0m1-49h0m0 32h0m0 1h0m1-24h0m1 7h0m0 20h0m3-56h0m0 34h0m1-21h0m1 44h0m3-56h0m0 54h0m1-12h0m2-29h0m1-1h0m4-21h0m0 39h0m4-32h0m2 47h0m1-18h0m1-35h0m2 52h0m1-6h0m0 25h0m1-69h0m0 61h0m3-20h0m2-16h0m8-14h0m0 21h0m4-7h0m1 10h0m1-31h0m1-13h0m0 23h0m2-3h0m1-7h0m3-13h0m2 22h0m0 3h0m3 2h0m1-15h0m0 10h0m0 33h0m2-51h0m0 48h0m4-29h0m2-10h0m0 50h0m0 27h0m3-52h0m1-29h0m1 60h0m1-53h0m2 24h0m9-30h0m9 39h0m2-28h0m1 0h0m3-2h0m4 24h0m8-4h0m0 31h0m3-9h0m3-42h0m2 29h0m6-2h0m9-17h0m1-12h0m7 35h0m9-1h0m2-2h0m1 43h0m9-52h0m3 0h0m18 6h0" stroke="#2a47b8"/>
<path d="M1108 112h0m29 42h0m17-9h0m16-30h0m4 28h0m3-24h0m6 13h0m2-25h0m0 56h0m8-62h0m2 8h0m2-3h0m3 48h0m2-32h0m0 25h0m1-40h0m0 56h0m3-54h0m1-4h0m2 18h0m2-22h0m1 8h0m1-3h0m0 56h0m1-41h0m1 45h0m1-13h0m0 13h0m1-62h0m2 16h0m1 40h0m0 1h0m2-44h0m0 37h0m2 12h0m1-60h0m2-1h0m0 48h0m1-29h0m2 24h0m2-48h0m3 4h0m1 50h0m3-1h0m2-3h0m2-42h0m3 0h0m0 55h0m2-18h0m0 20h0m2-59h0m0 9h0m1-3h0m0 50h0m1-38h0m0 30h0m1-47h0m1 8h0m0 1h0m2 3h0m3-8h0m0 8h0m3 17h0m0 27h0m1-12h0m1-5h0m2-44h0m0 5h0m0 55h0m1-38h0m0 24h0m3-34h0m0 6h0m2 33h0m2-50h0m4 5h0m0 2h0m0 47h0m4-26h0m0 14h0m1 14h0m2-14h0m2-46h0m0 7h0m1 10h0m0 42h0m1-40h0m4 19h0m2-27h0m3 7h0m4-6h0m0 16h0m2-13h0m0 3h0m0 2h0m5 27h0m1-25h0m0 4h0m2 8h0m2-20h0m0 2h0m1-2h0m0 6h0m2 39h0m2-42h0m2 7h0m2-14h0" stroke="#a24bb5"/>
<path d="M1055 137h0m1 2h0m1 8h0m13-9h0m9 2h0m1-8h0m3 7h0m1-6h0m1 6h0m1 4h0m4-4h0m0 0h0m1-3h0m4 1h0m2-1h0m1 5h0m8 0h0m2 2h0m10-53h0m6-3h0m3 4h0m2-5h0m0 4h0m3-4h0m0 2h0m3-5h0m1 4h0m2-2h0m1 3h0m2-6h0m1 11h0m3-10h0m1-3h0m1 8h0m3-7h0m0 8h0m0 5h0m1 2h0m4-6h0m0 2h0m2-4h0m2 4h0m1 3h0m1-7h0m3 0h0m0 5h0m6-1h0m2-5h0m2-4h0m2-4h0m5 3h0m2 5h0m4 5h0" stroke="#f5b3c9"/>
<path d="M1068 170h0m9-31h0m8-14h0m0 24h0m1 20h0m1-16h0m5 7h0m3 12h0m1-48h0m2 36h0m0 1h0m1-3h0m0 17h0m5-16h0m8 1h0m1 2h0m1 19h0m1 3h0m5 3h0m5-49h0m0 51h0m2-20h0m1-59h0m0 14h0m3 34h0m1-26h0m0 57h0m1-22h0m1 1h0m0 24h0m1 3h0m1 1h0m0 6h0m1-12h0m1 3h0m0 2h0m1-82h0m1 74h0m1 10h0m1-34h0m0 29h0m0 4h0m1 2h0m0 1h0m2-52h0m1-20h0m0 69h0m3-1h0m1 1h0m0 0h0m1-5h0m1 6h0m0 7h0m1-58h0m0 56h0m1-5h0m1-7h0m2-1h0m0 2h0m0 10h0m4-15h0m0 2h0m0 1h0m1 11h0m5-93h0m4 1h0m1-4h0m0 42h0m11-46h0m1 73h0m19-48h0m1-3h0m12-22h0m8 47h0m0 22h0m4-21h0m3-13h0m0 32h0m2-29h0m0 31h0m3 10h0m1-8h0m0 9h0m2-16h0m1 5h0m1 2h0m2 1h0m0 4h0m4-11h0m0 12h0m1-17h0m2-47h0m0 62h0m0 5h0m1-58h0m0 49h0m3-31h0m1 25h0m1 1h0m0 0h0m0 5h0m2-8h0m0 12h0m0 0h0m2-7h0m5-63h0m1 68h0m0 10h0m1-19h0m0 6h0m1-6h0m0 7h0m1-2h0m2-39h0m1 45h0m4-16h0m0 8h0m2 1h0m0 8h0m1 1h0m1-74h0m0 66h0m1 0h0m0 4h0m0 1h0m2-10h0m2-22h0m0 39h0m1-61h0m1 19h0m0 36h0m2-1h0m4-7h0m0 3h0m2 5h0m4-32h0m2 12h0m0 8h0m1 5h0m0 1h0m4-22h0m4 3h0m1 5h0m0 10h0m2-36h0m0 27h0m2 2h0m1-3h0m2-14h0m1 4h0m0 9h0m1-8h0m1 17h0m0 8h0m2-8h0m1-7h0m1 12h0m1-38h0m0 31h0m1 0h0m1-9h0m1-4h0m1 2h0m0 3h0m1 0h0m0 8h0m0 14h0m1-20h0m1 17h0m0 7h0m1-23h0m0 0h0m2-25h0m1 3h0m2 13h0m0 22h0m1-10h0m1-2h0m0 0h0m1 8h0m1-18h0m1 5h0m0 12h0" stroke="#8f3fae"/>
<path d="M1053 147h0m3 2h0m9-16h0m5 31h0m14-9h0m1 3h0m14-2h0m1 2h0m0 8h0m1 7h0m1-17h0m2 19h0m1-40h0m7-8h0m0 1h0m0 6h0m0 4h0m0 40h0m3-47h0m2-7h0m0 6h0m2 41h0m1-55h0m1 43h0m2-38h0m2 11h0m3-15h0m0 50h0m4 17h0m3-64h0m0 13h0m2 26h0m1-28h0m0 2h0m1 20h0m2-32h0m1 3h0m1-8h0m0 4h0m2 20h0m4-25h0m2 39h0m1-14h0m1-12h0m3 15h0m1-28h0m0 15h0m1-22h0m0 6h0m1 1h0m0 16h0m1-17h0m0 25h0m0 11h0m1-40h0m0 19h0m1 8h0m3-36h0m0 32h0m0 8h0m8-15h0m1 15h0m3 2h0m4-41h0m0 5h0m0 18h0m1-1h0m0 11h0m1-8h0m1-22h0m1 7h0m0 4h0m0 13h0m0 9h0m5 2h0m1-7h0m1 3h0m3-27h0m0 14h0m1-7h0m2 11h0m2-6h0m2-16h0m1 33h0m1-24h0m2-10h0m3 5h0m4 37h0m1-7h0m1-26h0m2-2h0m0 1h0m1 9h0m3-8h0m0 13h0m0 18h0m2-28h0m0 18h0m1-22h0m2-7h0m1 12h0m1 20h0m2 6h0m0 2h0m8-11h0m2 11h0m1-3h0m3-7h0m1-3h0m0 7h0m0 7h0m1-8h0m2-12h0m2-15h0m0 21h0m0 7h0m4-34h0m2 40h0m0 10h0m5-19h0m5 2h0m2-1h0m10-10h0m3 3h0m6 6h0m5-5h0" stroke="#a52a33"/>
</g></g>
<rect x="493.5" y="16.8" width="187" height="121" fill="none" stroke="#3a3a3a" stroke-width="0.9" rx="0" />
<line x1="493.5" y1="137.8" x2="493.5" y2="140.2" stroke="#333" stroke-width="0.8" />
<text x="493.5" y="145.73" font-size="5.94" text-anchor="middle" fill="#1a1a1a" textLength="8.91" lengthAdjust="spacingAndGlyphs" >0.0</text>
<line x1="491.1" y1="137.8" x2="493.5" y2="137.8" stroke="#333" stroke-width="0.8" />
<text x="490.1" y="139.93" font-size="5.94" text-anchor="end" fill="#1a1a1a" textLength="8.91" lengthAdjust="spacingAndGlyphs" >0.0</text>
<line x1="530.9" y1="137.8" x2="530.9" y2="140.2" stroke="#333" stroke-width="0.8" />
<text x="530.9" y="145.73" font-size="5.94" text-anchor="middle" fill="#1a1a1a" textLength="8.91" lengthAdjust="spacingAndGlyphs" >0.2</text>
<line x1="491.1" y1="113.6" x2="493.5" y2="113.6" stroke="#333" stroke-width="0.8" />
<text x="490.1" y="115.73" font-size="5.94" text-anchor="end" fill="#1a1a1a" textLength="8.91" lengthAdjust="spacingAndGlyphs" >0.2</text>
<line x1="568.3" y1="137.8" x2="568.3" y2="140.2" stroke="#333" stroke-width="0.8" />
<text x="568.3" y="145.73" font-size="5.94" text-anchor="middle" fill="#1a1a1a" textLength="8.91" lengthAdjust="spacingAndGlyphs" >0.4</text>
<line x1="491.1" y1="89.4" x2="493.5" y2="89.4" stroke="#333" stroke-width="0.8" />
<text x="490.1" y="91.53" font-size="5.94" text-anchor="end" fill="#1a1a1a" textLength="8.91" lengthAdjust="spacingAndGlyphs" >0.4</text>
<line x1="605.7" y1="137.8" x2="605.7" y2="140.2" stroke="#333" stroke-width="0.8" />
<text x="605.7" y="145.73" font-size="5.94" text-anchor="middle" fill="#1a1a1a" textLength="8.91" lengthAdjust="spacingAndGlyphs" >0.6</text>
<line x1="491.1" y1="65.2" x2="493.5" y2="65.2" stroke="#333" stroke-width="0.8" />
<text x="490.1" y="67.33" font-size="5.94" text-anchor="end" fill="#1a1a1a" textLength="8.91" lengthAdjust="spacingAndGlyphs" >0.6</text>
<line x1="643.1" y1="137.8" x2="643.1" y2="140.2" stroke="#333" stroke-width="0.8" />
<text x="643.1" y="145.73" font-size="5.94" text-anchor="middle" fill="#1a1a1a" textLength="8.91" lengthAdjust="spacingAndGlyphs" >0.8</text>
<line x1="491.1" y1="41" x2="493.5" y2="41" stroke="#333" stroke-width="0.8" />
<text x="490.1" y="43.13" font-size="5.94" text-anchor="end" fill="#1a1a1a" textLength="8.91" lengthAdjust="spacingAndGlyphs" >0.8</text>
<line x1="680.5" y1="137.8" x2="680.5" y2="140.2" stroke="#333" stroke-width="0.8" />
<text x="680.5" y="145.73" font-size="5.94" text-anchor="middle" fill="#1a1a1a" textLength="8.91" lengthAdjust="spacingAndGlyphs" >1.0</text>
<line x1="491.1" y1="16.8" x2="493.5" y2="16.8" stroke="#333" stroke-width="0.8" />
<text x="490.1" y="18.93" font-size="5.94" text-anchor="end" fill="#1a1a1a" textLength="8.91" lengthAdjust="spacingAndGlyphs" >1.0</text>
<text x="592.2" y="155.99" font-size="6.39" text-anchor="middle" fill="#1a1a1a" textLength="56.2" lengthAdjust="spacingAndGlyphs" >Main component 1</text>
<text x="475.5" y="81.59" font-size="6.39" text-anchor="middle" fill="#1a1a1a" textLength="56.2" lengthAdjust="spacingAndGlyphs" transform="rotate(-90 475.5 79.3)" >Main component 2</text>
<rect x="496.2" y="19" width="24.4" height="84" fill="#fff" stroke="#d0d0d0" stroke-width="0.7" rx="1.5" fill-opacity="0.8"/>
<circle cx="504.3" cy="24" r="0.6" fill="#e41a1c"/>
<text x="516" y="26.13" font-size="5.94" text-anchor="middle" fill="#1a1a1a" textLength="3.56" lengthAdjust="spacingAndGlyphs" >0</text>
<circle cx="504.3" cy="32.2" r="0.6" fill="#f7941d"/>
<text x="516" y="34.33" font-size="5.94" text-anchor="middle" fill="#1a1a1a" textLength="3.56" lengthAdjust="spacingAndGlyphs" >1</text>
<circle cx="504.3" cy="40.4" r="0.6" fill="#e3e336"/>
<text x="516" y="42.53" font-size="5.94" text-anchor="middle" fill="#1a1a1a" textLength="3.56" lengthAdjust="spacingAndGlyphs" >2</text>
<circle cx="504.3" cy="48.6" r="0.6" fill="#2f9a35"/>
<text x="516" y="50.73" font-size="5.94" text-anchor="middle" fill="#1a1a1a" textLength="3.56" lengthAdjust="spacingAndGlyphs" >3</text>
<circle cx="504.3" cy="56.8" r="0.6" fill="#5bc8d6"/>
<text x="516" y="58.93" font-size="5.94" text-anchor="middle" fill="#1a1a1a" textLength="3.56" lengthAdjust="spacingAndGlyphs" >4</text>
<circle cx="504.3" cy="65" r="0.6" fill="#2a47b8"/>
<text x="516" y="67.13" font-size="5.94" text-anchor="middle" fill="#1a1a1a" textLength="3.56" lengthAdjust="spacingAndGlyphs" >5</text>
<circle cx="504.3" cy="73.2" r="0.6" fill="#a24bb5"/>
<text x="516" y="75.33" font-size="5.94" text-anchor="middle" fill="#1a1a1a" textLength="3.56" lengthAdjust="spacingAndGlyphs" >6</text>
<circle cx="504.3" cy="81.4" r="0.6" fill="#f5b3c9"/>
<text x="516" y="83.53" font-size="5.94" text-anchor="middle" fill="#1a1a1a" textLength="3.56" lengthAdjust="spacingAndGlyphs" >7</text>
<circle cx="504.3" cy="89.6" r="0.6" fill="#8f3fae"/>
<text x="516" y="91.73" font-size="5.94" text-anchor="middle" fill="#1a1a1a" textLength="3.56" lengthAdjust="spacingAndGlyphs" >8</text>
<circle cx="504.3" cy="97.8" r="0.6" fill="#a52a33"/>
<text x="516" y="99.93" font-size="5.94" text-anchor="middle" fill="#1a1a1a" textLength="3.56" lengthAdjust="spacingAndGlyphs" >9</text>
<defs><clipPath id="sclipf"><rect x="494" y="172.6" width="187" height="121.2"/></clipPath></defs>
<g clip-path="url(#sclipf)"><g transform="scale(0.5)" stroke-width="3.4" stroke-linecap="round" fill="none">
<path d="M1133 420h0m100 81h0m3 44h0m1-4h0m5 10h0m6-23h0m2 18h0m2-12h0m0 6h0m0 11h0m1-24h0m0 14h0m0 21h0m1-59h0m4 29h0m0 11h0m1-5h0m1-14h0m0 16h0m1-19h0m0 12h0m3 14h0m3-26h0m2 6h0m2 4h0m1-1h0m1-3h0m0 4h0m2-23h0m2 2h0m1 17h0m1-4h0m0 9h0m1-36h0m1 23h0m1-2h0m1 15h0m0 4h0m2 8h0m2-39h0m0 25h0m1-25h0m0 6h0m0 4h0m0 29h0m2-44h0m0 1h0m4 18h0m1-16h0m1 38h0m1-14h0m3 12h0m1-21h0m1-13h0m0 6h0m0 13h0m0 6h0m1 7h0m1-37h0m1-4h0m1 35h0m0 12h0m1-34h0m2 18h0m2 7h0m1-19h0m1-8h0m1-7h0m0 1h0m0 8h0m2 18h0m1-3h0m0 14h0m4-11h0m1-1h0m3-6h0m5-32h0" stroke="#e41a1c"/>
<path d="M1048 399h0m5 4h0m3-8h0m0 8h0m1-1h0m1-2h0m2-9h0m0 10h0m1 1h0m0 4h0m1-7h0m2 0h0m1 4h0m0 1h0m1-5h0m1-7h0m11 78h0m10-95h0m3 3h0m1-2h0m1 14h0m1-2h0m3-10h0m0 12h0m2 0h0m1-4h0m1-26h0m0 24h0m0 2h0m1-14h0m0 9h0m5-4h0m1 13h0m1-20h0m2-7h0m1 4h0m0 2h0m2 8h0m0 6h0m1-19h0m1 11h0m3-2h0m2-15h0m0 31h0m11-38h0m4 15h0m7 40h0m1-40h0m1-17h0m4 1h0m1 7h0m0 3h0m0 5h0m0 1h0m1-13h0m0 15h0m5-12h0m0 4h0m1-11h0m0 5h0m2 1h0m0 2h0m0 8h0m6-20h0m1 10h0m1 5h0m1-6h0m3-5h0m80 182h0m2-114h0m15 74h0m2-75h0" stroke="#f7941d"/>
<path d="M1087 495h0m5 2h0m3 3h0m3-12h0m60-131h0m31 61h0m1-15h0m5-25h0m1 2h0m1 14h0m2-4h0m1 6h0m1-16h0m0 36h0m2-25h0m0 28h0m3-34h0m1 2h0m1-14h0m0 65h0m1-51h0m0 8h0m3-14h0m0 40h0m1-34h0m0 54h0m1-52h0m1-10h0m0 2h0m1 11h0m2 22h0m1-26h0m2 54h0m1-57h0m1 9h0m2-7h0m0 17h0m3 12h0m0 2h0m0 0h0m0 18h0m2-33h0m1-2h0m1 20h0m1-28h0m1 25h0m0 14h0m0 10h0m2-24h0m0 17h0m1-41h0m0 1h0m1 26h0m1 23h0m2-50h0m0 3h0m0 47h0m1-58h0m0 30h0m1-17h0m1-7h0m0 26h0m1-21h0m0 45h0m0 7h0m1-63h0m0 59h0m1-57h0m0 3h0m0 3h0m1 19h0m0 32h0m1-53h0m0 54h0m2-40h0m0 6h0m1-16h0m0 1h0m0 7h0m0 36h0m0 8h0m1-48h0m0 3h0m1-6h0m1-3h0m0 2h0m1 17h0m0 13h0m0 22h0m2-29h0m1-13h0m1 1h0m0 2h0m4 19h0m7-15h0" stroke="#e3e336"/>
<path d="M1072 426h0m0 20h0m15 5h0m2-10h0m6 9h0m2-3h0m2-8h0m1 14h0m1-6h0m2-8h0m0 20h0m1-17h0m0 6h0m2 6h0m0 6h0m1-8h0m1-13h0m0 18h0m3-8h0m0 10h0m1-13h0m3 7h0m1-2h0m1-7h0m1 10h0m1-9h0m0 11h0m3-15h0m0 9h0m1-7h0m0 3h0m0 11h0m1-25h0m2 3h0m1-9h0m1 16h0m1-21h0m1 22h0m1 0h0m1-21h0m0 4h0m1-8h0m1 0h0m1-5h0m2 12h0m1-4h0m0 15h0m0 15h0m1 0h0m3-2h0m2-6h0m2-8h0m0 8h0m0 3h0m1-3h0m1 1h0m0 7h0m2-28h0m0 25h0m1 4h0m3-11h0m1 5h0m3 0h0m6-22h0m4 17h0m2-6h0m1-1h0m0 14h0m4-9h0m1-22h0m0 9h0m0 9h0m0 5h0m6-9h0m1-4h0m0 6h0m2-13h0m5 12h0m1-4h0m1 1h0m26 8h0m16-9h0m1 79h0m11-66h0m31-22h0" stroke="#2f9a35"/>
<path d="M1100 546h0m2 23h0m2-23h0m0 8h0m2-14h0m2 0h0m1-2h0m2 6h0m0 3h0m0 9h0m1-1h0m3-7h0m4-4h0m1-10h0m0 2h0m5 29h0m1-15h0m0 5h0m3-2h0m0 0h0m4 3h0m3-12h0m1 32h0m1-29h0m0 5h0m1-1h0m0 27h0m3-8h0m1-31h0m1 17h0m0 10h0m0 9h0m0 3h0m1-7h0m2-28h0m0 3h0m0 11h0m0 12h0m0 5h0m1-15h0m0 13h0m1-12h0m0 5h0m1-13h0m1 22h0m0 3h0m0 4h0m4-21h0m0 6h0m2-3h0m0 9h0m0 7h0m1-16h0m3 9h0m0 11h0m1-24h0m0 19h0m1-8h0m0 23h0m1-18h0m1-31h0m0 29h0m0 7h0m3 5h0m1 1h0m1-29h0m0 15h0m0 8h0m3-31h0m0 18h0m0 2h0m6 12h0m5-13h0m0 12h0m1-11h0m1 4h0m1 3h0m1-3h0m0 12h0m2-17h0m0 5h0m0 6h0m1-36h0m0 35h0m1 12h0m1-30h0m0 16h0m4 9h0m3-25h0m0 23h0m2-9h0m0 0h0m1-19h0m1 17h0m9-3h0m31-25h0m21 2h0" stroke="#5bc8d6"/>
<path d="M1105 434h0m53-17h0m0 17h0m3 52h0m2-49h0m0 48h0m1-15h0m1 13h0m1 0h0m1-42h0m1-13h0m1 58h0m1 0h0m1-3h0m1-64h0m1 2h0m0 27h0m0 7h0m0 29h0m1-48h0m0 47h0m1-50h0m0 25h0m0 3h0m0 23h0m2-16h0m0 16h0m0 2h0m1-48h0m0 37h0m0 0h0m0 11h0m2-42h0m0 2h0m2 35h0m2-8h0m0 8h0m0 13h0m2-13h0m0 6h0m3-16h0m0 8h0m1 0h0m1-4h0m1 1h0m1 3h0m1 0h0m1-5h0m1-38h0m0 37h0m0 11h0m3-34h0m1-2h0m0 34h0m0 2h0m0 5h0m1-7h0m1-1h0m1-3h0m1-45h0m0 40h0m0 0h0m1 12h0m1-7h0m0 14h0m3-35h0m0 20h0m0 77h0m2-120h0m0 43h0m0 5h0m2-48h0m1 46h0m0 5h0m2-59h0m0 8h0m0 23h0m1-3h0m0 43h0m1-66h0m0 24h0m0 1h0m0 26h0m1 17h0m3-56h0m0 43h0m4-13h0m1 9h0m0 4h0m3 9h0m2-18h0m0 7h0m4-11h0m15 21h0" stroke="#2a47b8"/>
<path d="M1086 467h0m2 9h0m3-1h0m6 9h0m3-18h0m3 1h0m1-1h0m0 11h0m2-3h0m0 3h0m1 8h0m0 42h0m1-52h0m2 0h0m0 18h0m3-14h0m1 4h0m0 5h0m2-19h0m1 8h0m1-19h0m0 13h0m1 10h0m4-4h0m1-6h0m1 5h0m1-2h0m1-4h0m0 0h0m0 5h0m0 11h0m0 3h0m1-5h0m1-11h0m0 12h0m0 7h0m0 0h0m1-18h0m0 13h0m5-20h0m0 25h0m1-5h0m1 8h0m1 3h0m2-11h0m1 1h0m1 1h0m2-15h0m0 8h0m1 12h0m3-17h0m0 6h0m2 13h0m2 2h0m1-18h0m0 1h0m1-2h0m2-7h0m0 19h0m1-1h0m1 0h0m0 6h0m1-15h0m2-18h0m0 22h0m0 9h0m1-21h0m2-21h0m1 22h0m0 7h0m0 6h0m0 4h0m1-17h0m0 16h0m6-26h0m0 9h0m3-21h0m0 29h0m2 4h0m1 3h0m1-2h0m4 1h0m0 8h0m1-7h0m1-20h0m0 9h0m1-19h0m0 6h0m0 15h0m1 0h0m1 14h0m1-15h0m0 8h0m3-17h0m1 31h0m2-11h0m7 2h0m2-11h0m3-4h0m6 0h0m2-15h0m1 12h0m3 7h0m1 17h0m3-6h0m2-25h0m2 2h0m3 17h0m1-9h0m2 11h0m2-10h0m3 4h0m1-20h0m2 21h0m6 63h0m6-63h0m9-25h0m6-17h0m4 9h0m1-13h0m4 26h0m0 0h0m0 13h0m4-31h0m0 12h0m1-21h0m1 21h0m1 14h0m1-17h0m3-10h0m0 17h0m0 6h0m0 2h0m1-9h0m0 12h0m2-8h0m1-19h0m1 3h0m0 4h0m1 1h0m1-8h0m1 1h0m1 13h0m0 20h0m1-8h0m1-22h0m1 8h0m3-21h0m0 25h0m4-18h0m0 1h0m0 14h0m9-7h0" stroke="#a24bb5"/>
<path d="M994 452h0m1 11h0m2-18h0m3 9h0m1-5h0m0 9h0m3-31h0m1 31h0m2-1h0m1 22h0m3-38h0m1 17h0m1-5h0m0 14h0m1 3h0m1-28h0m1 8h0m1 16h0m1 3h0m1 6h0m1-23h0m0 14h0m2 0h0m1-20h0m0 30h0m0 9h0m1-14h0m1-29h0m0 6h0m0 5h0m1 13h0m1 4h0m0 11h0m1-18h0m0 16h0m1-38h0m0 45h0m1-33h0m0 20h0m1-15h0m1 12h0m0 2h0m1-10h0m0 1h0m0 7h0m0 15h0m1-19h0m0 16h0m1-47h0m0 12h0m0 12h0m0 1h0m0 36h0m3-47h0m0 23h0m0 5h0m1-25h0m3 17h0m0 16h0m2-21h0m2 2h0m0 9h0m1 4h0m0 7h0m1-10h0m1 13h0m2-22h0m1-11h0m2 9h0m1-10h0m1 24h0m1 1h0m2 8h0m2-25h0m3 2h0m6 25h0m0 4h0m3-24h0m1 6h0m0 26h0m1-29h0m0 0h0m3 1h0m2-5h0m1 8h0m3-3h0m57-47h0m11 122h0m77-157h0m15 136h0" stroke="#f5b3c9"/>
<path d="M1079 545h0m12-119h0m31 51h0m6 5h0m2-6h0m8-9h0m9-8h0m0 19h0m3-23h0m2 12h0m1-5h0m2 25h0m1-26h0m5 29h0m8 3h0m1-31h0m0 4h0m3 7h0m2 10h0m0 1h0m1 4h0m4-22h0m2-26h0m0 23h0m0 20h0m4-18h0m2 35h0m1-28h0m2 15h0m4-30h0m3 44h0m4-47h0m2 25h0m1-33h0m0 18h0m2 87h0m1-88h0m1 1h0m1 0h0m2-3h0m0 7h0m0 26h0m3-39h0m0 9h0m1 38h0m1-35h0m2-28h0m0 24h0m0 3h0m0 5h0m0 2h0m1-39h0m0 5h0m0 0h0m0 6h0m0 25h0m0 22h0m3-32h0m1-20h0m0 5h0m0 21h0m2-1h0m1-10h0m2-23h0m0 5h0m0 9h0m0 52h0m1-36h0m0 3h0m1-33h0m0 3h0m0 11h0m1 24h0m1-6h0m1-28h0m0 18h0m1-22h0m1-1h0m0 46h0m2-39h0m0 29h0m2-28h0m2-3h0m1 27h0m2 1h0m3-17h0m1 28h0m5-11h0m9-9h0m1-4h0m2 8h0m2-12h0m0 12h0m1 15h0m2 13h0m2-43h0m1 18h0m1-2h0m3-37h0m3 32h0m9-54h0m4 41h0m3 0h0m1 14h0m1 27h0m2-48h0m0 11h0m0 22h0m1-33h0m0 7h0m2-7h0m0 10h0m1-25h0m0 7h0m1-2h0m1 6h0m0 17h0m1-20h0m1 12h0m1-4h0m4 9h0m1 21h0m0 2h0m1-43h0m0 18h0m0 4h0m0 26h0m1-31h0m1-19h0m0 15h0m0 1h0m0 28h0m1-19h0m1-14h0m0 15h0m1-9h0m0 30h0m1-37h0m0 34h0m1-44h0m0 23h0m1 21h0m0 1h0m1-29h0m0 11h0m0 24h0m3-32h0m0 35h0m3-35h0m1-1h0m0 26h0m0 8h0m3-50h0m2 3h0m1 35h0m0 13h0m3-24h0m1-19h0m0 30h0m5-23h0" stroke="#8f3fae"/>
<path d="M1036 518h0m11-2h0m2-5h0m1 16h0m2 16h0m1-27h0m4-4h0m1 5h0m0 3h0m1-14h0m1 1h0m4 5h0m1 19h0m1-18h0m1-2h0m1 4h0m0 16h0m0 3h0m1-12h0m0 1h0m2-4h0m0 7h0m1-1h0m0 16h0m1-13h0m3-5h0m0 11h0m0 4h0m2-7h0m2-16h0m2 23h0m1-21h0m0 8h0m0 5h0m1-13h0m1 12h0m1 6h0m1 0h0m0 1h0m0 3h0m1-5h0m0 1h0m1 1h0m4-14h0m0 2h0m1 18h0m1-16h0m0 1h0m4-8h0m0 20h0m2-16h0m2 0h0m0 0h0m0 2h0m1-10h0m2 19h0m2-11h0m1-18h0m0 15h0m2-8h0m0 10h0m1-5h0m1 4h0m0 10h0m1-12h0m0 10h0m2-31h0m1 21h0m1-18h0m0 33h0m3-34h0m1 3h0m0 35h0m1-11h0m1-3h0m2-30h0m1 9h0m1-3h0m0 9h0m1-13h0m0 22h0m1 10h0m5-23h0m1-10h0m0 3h0m2-2h0m0 7h0m1-4h0m1-2h0m3 0h0m0 6h0m1 2h0m4 1h0m2 3h0m4-4h0m1-4h0m2-7h0m0 20h0m2-18h0m0 9h0m0 4h0m0 1h0m0 2h0m2-15h0m0 3h0m1 8h0m3 6h0m1-15h0m2 19h0m1-16h0m1 5h0m1 6h0m0 9h0m2-17h0m1 7h0m0 0h0m0 4h0m3-15h0m1 16h0m1-17h0m1 6h0m4 1h0m3 0h0m1 0h0m69-16h0m21-67h0" stroke="#a52a33"/>
<path d="M1234 541h0m0 2h0m1-6h0m5-6h0m0 18h0m1-15h0m0 14h0m2-15h0m1 5h0m1-3h0m0 14h0m1-16h0m0 20h0m2-10h0m0 9h0m1-26h0m0 10h0m0 6h0m0 6h0m1 4h0m1-14h0m2-2h0m1-3h0m0 3h0m0 1h0m1-7h0m5 7h0m1-25h0m3 12h0m1 2h0m0 13h0m2-3h0m1 2h0m1-20h0m0 19h0m1-9h0m1-16h0m4-7h0m0 1h0m0 17h0m1 4h0m1-2h0m0 4h0m1-2h0m1-27h0m5 29h0m1-28h0m0 6h0m0 12h0m1 5h0m1-13h0m0 2h0m2 15h0m2-9h0m1-10h0m1 25h0m1-17h0m1-9h0m0 47h0m1-53h0m0 27h0m0 1h0m1-26h0m1-3h0m0 7h0m0 10h0m0 25h0m1-41h0m1 2h0m0 22h0m1 16h0m1 6h0m1-34h0m0 14h0m0 13h0m2-21h0m0 20h0m1-28h0m0 1h0m0 0h0m1 8h0m1-4h0m0 12h0m2-10h0m0 29h0m2-36h0m0 16h0m2 11h0m1-39h0m0 5h0m1 0h0m0 1h0m0 3h0m1-4h0m0 32h0m1-32h0m0 3h0m8 2h0m3-1h0" stroke="#e41a1c"/>
<path d="M1042 395h0m14 1h0m0 1h0m2 8h0m4-4h0m1-1h0m1-4h0m0 7h0m2-14h0m0 6h0m1 7h0m0 2h0m3-7h0m2 10h0m3-9h0m3 4h0m7-1h0m2-17h0m0 1h0m2-9h0m0 2h0m1-4h0m2 2h0m1-5h0m0 3h0m0 5h0m0 5h0m1-5h0m1-4h0m1-1h0m0 2h0m0 5h0m2-5h0m1 2h0m4 19h0m1-30h0m1-12h0m1 22h0m0 8h0m1-21h0m1-7h0m0 15h0m0 22h0m1-31h0m0 9h0m0 10h0m1-11h0m2-7h0m0 4h0m0 1h0m0 3h0m0 10h0m0 10h0m3-15h0m1-8h0m3 0h0m0 16h0m2-3h0m2-12h0m5 1h0m10 0h0m1-5h0m2 3h0m4-3h0m1 10h0m2-28h0m0 13h0m1 3h0m0 4h0m0 5h0m1-7h0m0 7h0m1-21h0m3 10h0m1 12h0m2-22h0m1 0h0m1 0h0m0 2h0m0 3h0m0 1h0m1-1h0m0 8h0m1 5h0m2-22h0m0 6h0m0 3h0m1-5h0m1 3h0m0 10h0m2-10h0m1-5h0m1 4h0m1-2h0m1 1h0m4 3h0m0 1h0m4 3h0m3 2h0m59 200h0" stroke="#f7941d"/>
<path d="M1070 508h0m14-18h0m109-105h0m1 0h0m4 8h0m2-17h0m2 4h0m1 25h0m2-28h0m1 26h0m0 11h0m1 1h0m2-33h0m1 6h0m2-8h0m0 11h0m0 17h0m1 39h0m1-63h0m0 10h0m0 3h0m3 34h0m2-32h0m0 16h0m1-8h0m2-17h0m0 0h0m0 9h0m4 21h0m3 15h0m2-48h0m0 29h0m1-15h0m0 29h0m1-32h0m0 37h0m1-34h0m1-5h0m0 107h0m1-89h0m0 15h0m2-13h0m1-30h0m0 6h0m0 10h0m0 32h0m2-43h0m0 12h0m0 1h0m0 16h0m1-14h0m0 40h0m3-39h0m1 21h0m1-33h0m0 40h0m2 7h0m1-49h0m0 0h0m1 31h0m2-30h0m1 2h0m0 11h0m0 3h0m1 5h0m1 4h0m2-6h0m0 23h0m1-26h0m0 4h0m0 7h0m1-10h0m0 28h0m1-27h0m1-6h0m1 27h0m3-16h0m1-10h0m0 22h0m1-16h0m0 18h0m24 49h0m33-19h0" stroke="#e3e336"/>
<path d="M1090 450h0m0 4h0m3-14h0m0 13h0m1-8h0m0 7h0m0 1h0m0 1h0m1-1h0m2-6h0m0 5h0m0 3h0m1-12h0m0 5h0m1-3h0m0 14h0m2-20h0m0 15h0m2-8h0m4 4h0m0 6h0m1-17h0m0 2h0m0 0h0m1-6h0m0 13h0m1-2h0m0 1h0m1-10h0m1 9h0m0 16h0m2-26h0m0 7h0m1 4h0m0 5h0m1-12h0m4 15h0m2-39h0m0 27h0m1-25h0m1 26h0m0 8h0m1-7h0m1 0h0m2 3h0m1 1h0m1-2h0m1-3h0m0 17h0m2-39h0m0 35h0m1-39h0m0 24h0m0 0h0m2 12h0m1-31h0m0 17h0m1 0h0m0 1h0m1-24h0m1 15h0m0 11h0m2-24h0m1 106h0m1-82h0m4 2h0m0 8h0m1-11h0m2 6h0m0 38h0m4-69h0m4 15h0m1 5h0m2 4h0m0 2h0m1-20h0m3 12h0m0 7h0m1 10h0m4-13h0m2-6h0m5-15h0m0 15h0m0 13h0m2-13h0m1-1h0m1-9h0m3-2h0m2 20h0m2-20h0m2 11h0m14 116h0m104-108h0" stroke="#2f9a35"/>
<path d="M1101 539h0m0 10h0m3-10h0m1 8h0m1-1h0m0 22h0m2-8h0m1-17h0m0 8h0m6-6h0m0 5h0m1-15h0m1 8h0m0 13h0m3-13h0m2 13h0m2 12h0m1-25h0m1 5h0m0 3h0m1 8h0m0 7h0m5-22h0m0 15h0m0 14h0m3 4h0m3-35h0m0 8h0m0 0h0m2-1h0m0 5h0m1 2h0m0 10h0m3-7h0m0 18h0m4-38h0m0 25h0m1-6h0m3 2h0m0 5h0m6-8h0m0 1h0m0 25h0m1-9h0m0 4h0m1-25h0m0 1h0m1-1h0m0 11h0m1-2h0m1 19h0m2-20h0m1 18h0m0 8h0m1-34h0m1 24h0m2-4h0m1 10h0m5-16h0m1 15h0m4-3h0m3-1h0m2 0h0m0 2h0m1-13h0m2-29h0m3 39h0m11 10h0m1-22h0m0 9h0m12-129h0" stroke="#5bc8d6"/>
<path d="M1102 465h0m16 65h0m38-45h0m1-27h0m0 23h0m3-57h0m1 10h0m0 12h0m0 4h0m0 35h0m0 0h0m2-10h0m1-21h0m1-8h0m0 9h0m3 22h0m0 1h0m0 1h0m1-52h0m0 36h0m1-22h0m0 8h0m0 2h0m1-24h0m0 23h0m0 38h0m1-11h0m0 7h0m1-55h0m0 35h0m0 9h0m1-25h0m0 33h0m1-26h0m0 8h0m1 10h0m0 9h0m0 2h0m0 2h0m1-11h0m0 5h0m0 1h0m1-44h0m2 45h0m1 3h0m2-34h0m1 32h0m5 2h0m0 7h0m2-5h0m1-15h0m0 5h0m1-7h0m1-19h0m0 23h0m0 13h0m2-2h0m0 0h0m2-4h0m4-11h0m1-15h0m2 23h0m0 11h0m1-61h0m1 5h0m0 41h0m0 7h0m1-7h0m1 10h0m1-56h0m1 23h0m0 25h0m2-2h0m1-39h0m0 19h0m0 19h0m1-31h0m0 1h0m0 15h0m1 21h0m0 10h0m2 2h0m1-44h0m3 39h0m1-38h0m1 37h0m5-2h0m3 1h0m30-1h0" stroke="#2a47b8"/>
<path d="M1090 471h0m2 4h0m0 1h0m2 0h0m3 1h0m0 3h0m3-3h0m4 1h0m0 16h0m2-18h0m4-6h0m1 24h0m2-5h0m5-11h0m0 9h0m1-10h0m1 0h0m0 17h0m2-14h0m1 10h0m1-19h0m1-4h0m0 20h0m1-11h0m0 11h0m0 1h0m1 3h0m1-27h0m2 14h0m0 9h0m2-1h0m1-22h0m1 13h0m2-8h0m0 16h0m0 0h0m1 11h0m1-12h0m1 12h0m1 0h0m1-3h0m2-14h0m0 6h0m2 5h0m2-12h0m3-1h0m1-7h0m1 7h0m1-1h0m0 0h0m1-16h0m0 18h0m0 7h0m0 8h0m2-22h0m2 4h0m0 5h0m0 12h0m1-8h0m0 17h0m1-16h0m0 6h0m1-40h0m0 40h0m1 1h0m1-3h0m2 3h0m1-28h0m1 9h0m0 2h0m0 7h0m1 2h0m1 1h0m3-18h0m0 5h0m1-5h0m0 18h0m1-28h0m1 22h0m1 4h0m3-11h0m1 5h0m0 7h0m0 7h0m1-28h0m0 9h0m1-21h0m0 42h0m1-4h0m1-1h0m0 4h0m0 35h0m1-49h0m0 1h0m0 11h0m1-4h0m0 0h0m2 0h0m1-9h0m0 1h0m1-3h0m0 16h0m1-36h0m0 24h0m0 12h0m1-2h0m2 10h0m2-29h0m0 16h0m0 3h0m1-9h0m7 16h0m2-33h0m0 23h0m1-14h0m2 0h0m0 20h0m0 6h0m0 4h0m2-12h0m1-21h0m4 10h0m7 6h0m1-4h0m2 12h0m4-6h0m8-23h0m5 10h0m2 9h0m26-35h0m2 16h0m2-22h0m0 10h0m1-23h0m1 6h0m1 34h0m1-16h0m1 11h0m1-21h0m0 21h0m1 10h0m1-35h0m1 3h0m0 18h0m1-22h0m0 2h0m0 8h0m1 6h0m1-9h0m0 27h0m1-16h0m0 5h0m3 3h0m4-14h0m1 20h0m1-6h0m1-32h0m0 38h0m3 1h0m2-13h0m0 0h0m1-16h0m0 26h0m1-23h0m0 7h0m0 5h0m2 11h0m20 0h0" stroke="#a24bb5"/>
<path d="M974 462h0m20-4h0m1-10h0m1 5h0m2-4h0m3-9h0m0 4h0m2-5h0m0 5h0m2 9h0m3-12h0m0 41h0m3-34h0m0 3h0m1 14h0m2-10h0m1 0h0m1-12h0m1 24h0m0 2h0m2-29h0m0 4h0m0 20h0m1-18h0m2 10h0m1-15h0m0 6h0m0 23h0m2-19h0m0 7h0m0 6h0m0 8h0m1-7h0m1-5h0m0 11h0m0 12h0m2-23h0m0 25h0m1-34h0m0 20h0m1-3h0m1-13h0m0 4h0m0 19h0m0 15h0m2-24h0m1-27h0m0 39h0m1-23h0m0 11h0m1-2h0m3-17h0m0 48h0m1-38h0m0 1h0m1-5h0m1 15h0m1 14h0m4-16h0m0 3h0m2-8h0m1 7h0m1-17h0m0 14h0m1-3h0m1-17h0m0 14h0m1 0h0m0 32h0m2-37h0m0 14h0m1-12h0m1 13h0m0 2h0m1 0h0m1-12h0m0 17h0m1-28h0m0 4h0m0 0h0m2 16h0m0 15h0m0 8h0m1-27h0m1-2h0m2 37h0m3-50h0m0 13h0m3 0h0m3-3h0m0 1h0m0 7h0m43 5h0m5 23h0m28-70h0m106 67h0" stroke="#f5b3c9"/>
<path d="M1092 500h0m7 15h0m23-36h0m14-1h0m3-10h0m4 16h0m1 4h0m1-26h0m3 4h0m4 1h0m0 11h0m0 4h0m12-27h0m5 32h0m0 3h0m5-30h0m1 20h0m1-9h0m8-38h0m1 54h0m1 3h0m1 8h0m8-21h0m3-10h0m2-2h0m1-4h0m0 6h0m0 17h0m1-42h0m0 59h0m2-46h0m0 4h0m1 2h0m0 41h0m1-5h0m4-46h0m0 9h0m0 14h0m1-15h0m1 6h0m1 29h0m0 10h0m1-31h0m0 23h0m2-37h0m1-16h0m0 23h0m3-23h0m0 0h0m3-9h0m0 23h0m1-23h0m0 67h0m3-61h0m0 37h0m4-44h0m1 1h0m0 32h0m1-25h0m0 22h0m1-31h0m3 4h0m0 9h0m0 31h0m0 4h0m1-38h0m2-7h0m1 8h0m0 27h0m1 1h0m0 2h0m3 13h0m1-47h0m1 48h0m4-26h0m2 7h0m1 8h0m3-34h0m11 12h0m1 1h0m0 2h0m19 25h0m3-33h0m2-9h0m1-5h0m0 27h0m1-28h0m0 13h0m0 0h0m1-2h0m4-7h0m4 10h0m2-1h0m2 24h0m2-20h0m1-15h0m0 2h0m2 12h0m0 1h0m0 23h0m4-34h0m0 26h0m3-46h0m0 49h0m2-38h0m0 12h0m0 25h0m0 18h0m1-38h0m0 27h0m1-37h0m0 23h0m0 15h0m2-24h0m0 23h0m2-14h0m0 6h0m1-25h0m0 28h0m1-36h0m0 16h0m0 0h0m1 13h0m0 10h0m3-45h0m1 27h0m1-4h0m0 1h0m0 12h0m2-21h0m1-18h0m3 26h0m1-25h0m4 2h0m1 27h0m8-18h0" stroke="#8f3fae"/>
<path d="M1048 524h0m6-4h0m1 9h0m6-19h0m2 2h0m0 9h0m2 7h0m2-18h0m1 20h0m1-18h0m0 7h0m0 10h0m1-8h0m0 1h0m1-11h0m1 19h0m0 3h0m0 7h0m1-30h0m0 27h0m1-3h0m2-20h0m0 6h0m0 1h0m0 8h0m0 7h0m4-11h0m0 16h0m1-15h0m1-10h0m4 7h0m3 17h0m0 3h0m1-26h0m0 15h0m1-3h0m1 13h0m2-21h0m0 10h0m1-1h0m0 2h0m0 2h0m3-6h0m0 15h0m0 6h0m1-30h0m1 20h0m2-11h0m0 10h0m1-19h0m7-4h0m1 1h0m0 19h0m4-28h0m5 13h0m1-14h0m0 1h0m1-7h0m2-1h0m1 7h0m1-4h0m1 20h0m0 10h0m1-33h0m1 2h0m0 3h0m0 12h0m0 12h0m4-31h0m0 23h0m1 0h0m1-17h0m1-6h0m0 15h0m1-16h0m0 0h0m0 2h0m1-12h0m0 6h0m2 9h0m0 6h0m3-10h0m0 25h0m10-8h0m2-11h0m1-6h0m1 5h0m1 1h0m2 9h0m0 2h0m1-14h0m4 2h0m0 12h0m3-1h0m2-10h0m2 11h0m1-9h0m1-6h0m1-4h0m0 15h0m0 10h0m2-16h0m0 2h0m0 7h0m3-15h0m2 1h0m0 8h0m0 1h0m1 0h0m1-12h0m4 15h0m2-7h0m48-45h0" stroke="#a52a33"/>
<path d="M1108 565h0m51-83h0m76 51h0m4 13h0m2-30h0m1-25h0m0 55h0m1-5h0m2-2h0m0 2h0m0 2h0m1-14h0m0 13h0m2 4h0m1 4h0m1-5h0m0 5h0m1-7h0m2-4h0m0 11h0m2-68h0m1 57h0m0 10h0m3-11h0m1-6h0m1-20h0m0 18h0m0 2h0m1-1h0m1 10h0m2-1h0m2-3h0m0 14h0m2-29h0m1-32h0m0 39h0m2-11h0m1 13h0m0 5h0m1-16h0m2 0h0m0 2h0m0 5h0m1-9h0m1 3h0m1-8h0m0 10h0m0 12h0m2-11h0m1 4h0m1 12h0m0 0h0m1-38h0m0 11h0m0 5h0m0 0h0m1-5h0m3-14h0m0 1h0m0 23h0m1-10h0m0 18h0m2-11h0m1-20h0m0 16h0m1-19h0m0 6h0m0 22h0m1-21h0m0 35h0m1-40h0m1-2h0m0 2h0m0 32h0m2-16h0m1 10h0m0 4h0m0 38h0m1-35h0m1-16h0m0 10h0m0 12h0m1 6h0m1-44h0m0 35h0m0 1h0m1-33h0m0 6h0m0 2h0m1-14h0m0 4h0m0 14h0m1-7h0m0 26h0m1-19h0m0 30h0m1-18h0m0 5h0m2-31h0m0 18h0m0 17h0m0 8h0m1-39h0m1 16h0m0 19h0m1-32h0m0 18h0m1-17h0m0 12h0m1-12h0m1-2h0m0 0h0m1 1h0m3 10h0" stroke="#e41a1c"/>
<path d="M1055 394h0m0 4h0m3-1h0m1 1h0m0 9h0m1-6h0m5-3h0m0 7h0m2-7h0m1 8h0m1-12h0m1 11h0m3-9h0m16-18h0m0 1h0m1-9h0m0 8h0m1-4h0m0 1h0m3-7h0m0 4h0m0 12h0m2-15h0m0 0h0m0 13h0m1-8h0m0 9h0m0 2h0m1-14h0m1 19h0m1-19h0m1-2h0m0 17h0m1-18h0m1 14h0m1-7h0m1 9h0m4-16h0m0 0h0m1 9h0m1-17h0m1 3h0m2 13h0m2-9h0m0 8h0m1-2h0m1-2h0m1-13h0m2 4h0m0 15h0m1-7h0m4-6h0m8 16h0m1-29h0m4 5h0m0 15h0m0 1h0m4-10h0m0 12h0m2-19h0m2-9h0m1 11h0m2-5h0m0 0h0m3 0h0m0 4h0m1 3h0m1 5h0m1 2h0m1-14h0m0 16h0m1-11h0m0 7h0m0 1h0m1-7h0m0 3h0m0 1h0m1-10h0m2 2h0m0 2h0m1-1h0m0 9h0m2-8h0m2 6h0m1-5h0m1 8h0m3 6h0m1-3h0m3-6h0m53 52h0" stroke="#f7941d"/>
<path d="M1083 502h0m4 9h0m7-20h0m5 9h0m69-113h0m23 31h0m2-29h0m0 22h0m5 8h0m1-12h0m1-29h0m1 40h0m1-40h0m0 3h0m3 0h0m0 32h0m1 3h0m2-24h0m0 1h0m2 32h0m1-45h0m0 38h0m5-41h0m1 5h0m2 59h0m2-24h0m1-3h0m1-28h0m1 39h0m1-14h0m1-4h0m0 3h0m0 0h0m0 16h0m3-23h0m0 8h0m1 19h0m0 11h0m1-44h0m3 7h0m0 30h0m1-51h0m1 35h0m0 16h0m1-40h0m0 39h0m1-39h0m0 4h0m2-7h0m0 46h0m1-3h0m1-46h0m2 13h0m0 1h0m0 21h0m0 5h0m0 6h0m1-36h0m1 42h0m1-43h0m0 9h0m1-6h0m0 27h0m1-29h0m0 10h0m0 1h0m0 18h0m0 8h0m1-22h0m0 34h0m1-48h0m0 19h0m0 25h0m2-1h0m2-42h0m0 7h0m0 34h0m0 3h0m3-17h0m1-24h0m0 0h0m5 18h0m3 0h0m17-2h0" stroke="#e3e336"/>
<path d="M1089 443h0m4 0h0m0 3h0m1-2h0m1 4h0m1-13h0m0 24h0m3-7h0m1 1h0m1-7h0m0 11h0m1-19h0m0 8h0m0 8h0m1 2h0m1-18h0m2 16h0m0 13h0m1-7h0m2-11h0m0 5h0m2 4h0m3-5h0m1 7h0m4-8h0m1 2h0m1-19h0m1 15h0m0 2h0m2-6h0m0 6h0m2-11h0m0 7h0m0 3h0m1-30h0m1 26h0m0 12h0m1-8h0m0 8h0m1-35h0m0 14h0m2 8h0m0 0h0m2-24h0m0 16h0m0 6h0m1-30h0m0 8h0m0 0h0m0 1h0m4 28h0m2-16h0m0 5h0m1 0h0m0 8h0m5-1h0m1 5h0m1-5h0m0 3h0m3-7h0m1-5h0m0 7h0m1-5h0m0 6h0m6-10h0m0 6h0m0 3h0m0 6h0m1-9h0m1-30h0m0 32h0m2-2h0m5-13h0m1 11h0m3-16h0m2 14h0m2-3h0m4-2h0m0 5h0m4-2h0m2-2h0m1-4h0m0 3h0m0 5h0m3-3h0m112-36h0" stroke="#2f9a35"/>
<path d="M1075 537h0m28 20h0m3-11h0m0 2h0m0 0h0m2-2h0m3-3h0m1 0h0m2 6h0m2-1h0m1 5h0m0 4h0m2-11h0m0 10h0m4-11h0m0 11h0m1 15h0m4-26h0m1 10h0m3 7h0m4-13h0m0 5h0m1 1h0m0 22h0m2-17h0m0 25h0m4-13h0m2-17h0m0 12h0m1-51h0m1 35h0m2-68h0m1 55h0m0 18h0m0 3h0m1 24h0m1-32h0m0 41h0m1-54h0m0 16h0m0 1h0m1 9h0m0 12h0m0 5h0m0 1h0m1-11h0m0 16h0m1-87h0m0 66h0m1 0h0m0 0h0m1 2h0m1-31h0m0 41h0m2 1h0m2-4h0m1-5h0m0 16h0m1-35h0m0 9h0m1 30h0m1-30h0m3-9h0m0 19h0m2 9h0m3-22h0m4-4h0m0 10h0m3 7h0m1-4h0m2 1h0m5 10h0m1-4h0m0 15h0m2-10h0m2-10h0m0 15h0m2-11h0m1-20h0m1 29h0m8-7h0m1 6h0m46-29h0" stroke="#5bc8d6"/>
<path d="M1068 431h0m87 72h0m4-65h0m4-9h0m0 20h0m0 29h0m0 12h0m1-2h0m1-53h0m0 42h0m0 1h0m0 5h0m3 0h0m0 7h0m1-45h0m0 40h0m1-56h0m1-34h0m0 62h0m0 29h0m1-43h0m0 50h0m1-59h0m0 69h0m1-43h0m0 5h0m0 13h0m1-18h0m1 26h0m1-43h0m0 15h0m0 17h0m1-40h0m3 45h0m2-5h0m0 2h0m0 9h0m0 1h0m1-16h0m1 10h0m0 5h0m1-9h0m0 1h0m0 6h0m0 3h0m4-17h0m0 16h0m0 5h0m1-16h0m0 3h0m1 8h0m1-1h0m1-10h0m0 3h0m2-40h0m1 49h0m1-7h0m0 2h0m1-9h0m0 17h0m1-12h0m0 8h0m1-2h0m1-44h0m1-4h0m0 37h0m0 8h0m1 9h0m2-49h0m1 36h0m2-52h0m0 4h0m1-5h0m0 20h0m1 35h0m1-58h0m1 36h0m1-26h0m1 6h0m1 37h0m1 6h0m1-40h0m2-7h0m0 52h0m4-37h0m1 39h0m14 2h0m4-6h0m0 1h0" stroke="#2a47b8"/>
<path d="M1068 462h0m13 15h0m1 0h0m6 8h0m5 0h0m0 3h0m7-14h0m1 9h0m4-9h0m1 0h0m5 20h0m2-22h0m2 8h0m1-13h0m0 3h0m0 27h0m3-8h0m1-17h0m1 3h0m0 6h0m2 5h0m1-12h0m1-1h0m1 0h0m2-7h0m1 10h0m0 18h0m2-24h0m6 18h0m0 2h0m1-9h0m1 2h0m1 1h0m1 3h0m3-3h0m2-8h0m1 1h0m0 1h0m0 9h0m2-18h0m1 18h0m3 0h0m0 32h0m1-49h0m2 15h0m0 2h0m2-19h0m0 5h0m1-4h0m3 17h0m1 12h0m1-2h0m1-26h0m1-6h0m0 16h0m0 35h0m2-35h0m4 0h0m2-11h0m0 92h0m1-91h0m1 7h0m1 18h0m1-4h0m0 2h0m1-24h0m0 20h0m1-3h0m1-8h0m2 0h0m1-4h0m0 4h0m0 3h0m2 13h0m1-26h0m2-2h0m1-1h0m1 25h0m2-21h0m0 15h0m1 4h0m0 1h0m1-4h0m1-13h0m0 33h0m2-33h0m3-15h0m0 20h0m4 0h0m2-22h0m0 34h0m8-28h0m1 24h0m3-11h0m1 8h0m3-11h0m1-4h0m0 1h0m6-6h0m9 10h0m7 2h0m18-22h0m1-19h0m4 11h0m2 3h0m0 6h0m1-17h0m4 22h0m0 6h0m1-33h0m0 38h0m0 1h0m1-23h0m0 21h0m1-23h0m0 9h0m0 4h0m3-4h0m1 4h0m0 7h0m0 3h0m1-24h0m0 19h0m0 6h0m0 8h0m1-14h0m1-25h0m0 28h0m2-7h0m3 3h0m0 13h0m2-18h0m1 1h0m0 7h0m0 8h0m1-25h0m1-10h0m0 24h0m0 1h0m3-10h0m0 4h0m1-19h0m1 10h0m1-9h0m0 13h0m0 0h0m1 9h0m2-10h0" stroke="#a24bb5"/>
<path d="M1000 447h0m1 11h0m2 0h0m1-3h0m0 3h0m4 4h0m1-16h0m2 8h0m0 7h0m0 5h0m2-22h0m0 2h0m0 24h0m3-21h0m1 19h0m1-20h0m0 4h0m1-6h0m2 2h0m1 11h0m0 0h0m0 21h0m1 6h0m2-33h0m0 15h0m0 0h0m0 8h0m4 0h0m1-30h0m0 19h0m0 5h0m1-23h0m0 42h0m2-9h0m0 2h0m1-34h0m0 26h0m0 6h0m1-7h0m1-4h0m2-10h0m0 8h0m1-4h0m0 20h0m1-20h0m0 32h0m1-47h0m1 6h0m1 8h0m0 10h0m1-24h0m0 30h0m0 9h0m2-43h0m1 25h0m0 3h0m2-11h0m0 1h0m0 9h0m0 15h0m1-25h0m2 4h0m0 2h0m1-12h0m0 20h0m3-1h0m1-14h0m0 25h0m0 7h0m0 4h0m3-28h0m0 14h0m1-6h0m4-12h0m0 2h0m0 7h0m1-12h0m0 11h0m1-2h0m0 3h0m0 6h0m4-14h0m8 5h0m22 93h0m61-149h0" stroke="#f5b3c9"/>
<path d="M1124 495h0m1-13h0m5 1h0m8-20h0m5 14h0m2-5h0m7 13h0m8-17h0m2 10h0m2 1h0m3-2h0m4-27h0m1 53h0m3-3h0m10-41h0m3 24h0m8-22h0m1 21h0m1-39h0m0 16h0m1 19h0m0 12h0m6-29h0m0 8h0m0 26h0m1-49h0m0 16h0m1-2h0m0 5h0m1-27h0m0 7h0m0 18h0m1 4h0m3-4h0m0 36h0m1-40h0m0 4h0m1-26h0m0 11h0m0 2h0m1 1h0m0 12h0m1-33h0m0 33h0m2-8h0m0 12h0m1-5h0m1 31h0m1-37h0m2-13h0m0 1h0m1-4h0m0 4h0m0 20h0m1-16h0m0 28h0m0 0h0m1-13h0m2-34h0m0 30h0m1-16h0m1-5h0m0 6h0m1-4h0m1 18h0m0 12h0m0 11h0m0 4h0m1-21h0m2-32h0m0 5h0m2 24h0m0 6h0m1-2h0m0 1h0m0 6h0m0 12h0m4-5h0m2-13h0m1-1h0m0 0h0m0 5h0m0 19h0m1-58h0m0 40h0m2 0h0m2-25h0m3 24h0m9-8h0m5-6h0m1 22h0m5-22h0m0 15h0m3-12h0m20-25h0m0 2h0m0 16h0m1-10h0m0 17h0m1-22h0m1 5h0m0 7h0m2-13h0m0 3h0m0 27h0m2-19h0m1-4h0m1 2h0m0 6h0m1 18h0m1 8h0m1-23h0m2 18h0m1-34h0m0 28h0m3-24h0m0 23h0m0 9h0m2-42h0m1 32h0m0 6h0m1-37h0m0 13h0m2 4h0m1-5h0m0 2h0m2 1h0m1-15h0m4 12h0m0 19h0m1-25h0m1 11h0m2 8h0m3-11h0m0 24h0m1-42h0m0 5h0m1 17h0m2-13h0m7-4h0m5-2h0m10-14h0" stroke="#8f3fae"/>
<path d="M1048 501h0m0 27h0m7-4h0m1 1h0m2-13h0m1 21h0m1-16h0m0 12h0m4-6h0m1 6h0m1 2h0m1-7h0m1-1h0m1 17h0m0 0h0m1-24h0m0 4h0m0 0h0m0 0h0m1-2h0m0 21h0m2-19h0m0 9h0m0 3h0m1-6h0m0 15h0m1-11h0m0 5h0m2-25h0m0 4h0m0 9h0m1 10h0m1-15h0m0 8h0m2-2h0m1-6h0m1 11h0m0 6h0m0 4h0m1-11h0m1 9h0m2-21h0m0 1h0m1 10h0m2 5h0m1 7h0m1-8h0m1-7h0m2 10h0m2-5h0m1-5h0m0 5h0m0 16h0m1-6h0m2-19h0m2 11h0m0 7h0m1-32h0m0 33h0m0 1h0m1-25h0m1 5h0m2 11h0m4-38h0m0 13h0m1 0h0m0 25h0m1-7h0m1 14h0m3-37h0m1 18h0m1-24h0m0 31h0m1-15h0m0 23h0m1-35h0m1 27h0m1-21h0m1-4h0m0 2h0m1-5h0m0 11h0m2-9h0m1 30h0m1-35h0m1-1h0m1-71h0m0 81h0m0 5h0m1 0h0m0 8h0m2-9h0m1 7h0m0 9h0m2-29h0m1 9h0m1-4h0m0 1h0m0 2h0m0 9h0m0 5h0m5-23h0m0 2h0m0 1h0m1 6h0m1 6h0m5-2h0m2-13h0m2 10h0m2-9h0m0 8h0m1 4h0m2-6h0m1 8h0m1 1h0m4 11h0m1-8h0m3-8h0m1-10h0m1 9h0m3-9h0m2 6h0m0 6h0m2 8h0m1-18h0m1 5h0m39-25h0" stroke="#a52a33"/>
<path d="M1091 462h0m15 82h0m13-149h0m118 140h0m1 2h0m1 7h0m1-3h0m0 3h0m1-14h0m0 2h0m0 5h0m2 4h0m1-11h0m0 16h0m1-12h0m0 9h0m0 3h0m1-1h0m1 5h0m2-24h0m0 3h0m2 6h0m2-11h0m0 11h0m0 13h0m2-12h0m0 5h0m7-15h0m2 14h0m1 1h0m0 2h0m1-10h0m2-10h0m1 11h0m5-35h0m0 3h0m0 36h0m2-33h0m0 27h0m1-21h0m1 1h0m1 17h0m0 2h0m0 11h0m2-18h0m1-25h0m0 3h0m0 27h0m1-16h0m1 13h0m0 8h0m2-25h0m0 8h0m1-3h0m1 6h0m1 4h0m1-1h0m1 25h0m1-48h0m0 25h0m0 28h0m1-52h0m1 8h0m0 12h0m1-20h0m1 8h0m1-17h0m0 5h0m0 59h0m1-40h0m0 21h0m0 31h0m1-63h0m1 17h0m0 7h0m1-25h0m0 14h0m3-3h0m0 4h0m1-16h0m0 31h0m2 11h0m1-50h0m0 50h0m1-45h0m0 7h0m0 22h0m1-17h0m1-4h0m1 1h0m0 30h0m1-23h0m0 6h0m8-14h0m1 22h0" stroke="#e41a1c"/>
<path d="M1051 400h0m3-4h0m1-8h0m2 7h0m0 7h0m3-8h0m0 1h0m0 2h0m1-2h0m2-6h0m1 6h0m0 4h0m0 5h0m1-9h0m1 4h0m0 8h0m2-7h0m1 5h0m1-4h0m0 1h0m1-9h0m7 3h0m7-8h0m1-10h0m1 4h0m3 1h0m1-3h0m1 4h0m1-15h0m0 31h0m4-19h0m1-13h0m0 3h0m0 9h0m1-3h0m2-11h0m0 4h0m0 7h0m1-13h0m0 9h0m0 2h0m0 6h0m0 11h0m1-14h0m2 6h0m1 7h0m1-28h0m0 34h0m3-35h0m0 6h0m0 12h0m1-17h0m3 16h0m1 0h0m0 6h0m2-12h0m1-12h0m1-1h0m0 24h0m1-15h0m2 3h0m1-15h0m1 15h0m1-6h0m5 11h0m5-11h0m2 101h0m2-108h0m2 2h0m1-2h0m1-9h0m0 22h0m1-23h0m0 9h0m1-3h0m3-3h0m0 7h0m3-3h0m2-7h0m0 9h0m0 0h0m1-4h0m1 1h0m4 6h0m1-13h0m0 3h0m1 11h0m0 6h0m2-7h0m1-7h0m1 6h0m8 4h0m1-5h0m94 210h0" stroke="#f7941d"/>
<path d="M1085 492h0m10-1h0m2 6h0m1-10h0m25 81h0m69-163h0m1-4h0m3-16h0m1 20h0m2-24h0m2-6h0m1 1h0m0 27h0m2-23h0m1-2h0m1 4h0m2 4h0m0 24h0m1-20h0m1-11h0m1 25h0m1-19h0m0 42h0m1-29h0m1-9h0m0 10h0m0 20h0m1-38h0m2 7h0m0 3h0m0 14h0m1 1h0m1-30h0m0 60h0m1-35h0m1-21h0m0 43h0m0 4h0m1-38h0m0 42h0m1-13h0m4-37h0m0 37h0m2-38h0m0 46h0m1 7h0m1-10h0m0 5h0m1 1h0m1-34h0m0 38h0m1-20h0m0 0h0m1 10h0m1-42h0m0 23h0m0 34h0m1-53h0m1 52h0m1-41h0m0 41h0m1-53h0m0 39h0m0 4h0m1-23h0m1 0h0m0 20h0m0 14h0m0 3h0m1-50h0m0 10h0m0 14h0m1-19h0m0 10h0m1 17h0m0 11h0m1-31h0m2-13h0m0 55h0m1-44h0m0 11h0m1-11h0m0 3h0m1 8h0m1-9h0m0 16h0m0 3h0m1-26h0m0 1h0m1 9h0m0 11h0m3-9h0m12-2h0m9 11h0" stroke="#e3e336"/>
<path d="M1085 449h0m7-3h0m3 0h0m1 0h0m2-1h0m0 8h0m1 20h0m2-31h0m0 9h0m1 6h0m1-20h0m0 8h0m0 4h0m0 8h0m1-33h0m0 17h0m0 4h0m1 6h0m1-8h0m1 11h0m1-11h0m0 8h0m2-1h0m0 0h0m0 11h0m1-42h0m0 28h0m0 15h0m2-11h0m1-5h0m3-13h0m1 7h0m3 1h0m0 7h0m1 5h0m5-29h0m0 20h0m0 4h0m0 2h0m2-10h0m2-24h0m1 6h0m0 28h0m1-5h0m3-24h0m2 19h0m2 8h0m1 3h0m1-9h0m0 17h0m2-42h0m1 16h0m0 10h0m0 1h0m2-11h0m2 9h0m0 16h0m4-9h0m3 0h0m4-3h0m0 9h0m2-29h0m0 3h0m3 19h0m1-32h0m5 12h0m3-9h0m0 9h0m1 19h0m1-12h0m0 15h0m1-18h0m1-1h0m4 2h0m1 9h0m1-16h0m2 13h0m3-4h0m1-3h0m1-12h0m1 9h0m50 49h0" stroke="#2f9a35"/>
<path d="M1108 545h0m0 5h0m0 7h0m6 0h0m1-8h0m1-17h0m0 26h0m0 5h0m2-23h0m2 8h0m0 12h0m1-1h0m2-19h0m3 16h0m1-5h0m0 14h0m1-18h0m0 12h0m3-51h0m0 50h0m0 21h0m1-25h0m0 5h0m0 10h0m3-12h0m1 12h0m0 8h0m1-16h0m0 13h0m1-15h0m2-10h0m0 32h0m2-18h0m2 12h0m0 8h0m2-32h0m0 1h0m1-2h0m0 25h0m1-6h0m2 11h0m1-7h0m1-9h0m2-3h0m0 21h0m2-5h0m2-34h0m0 20h0m0 2h0m2-13h0m3 19h0m1-137h0m0 156h0m1-47h0m0 28h0m2-3h0m1 18h0m2-12h0m0 15h0m2-30h0m1-17h0m0 20h0m0 11h0m2 5h0m1 4h0m1 2h0m1-35h0m3 9h0m0 18h0m1 4h0m3-4h0m2 7h0m4-6h0m5-1h0m2-8h0m3 3h0m3 5h0m2 7h0m1-23h0" stroke="#5bc8d6"/>
<path d="M1152 473h0m8 15h0m1-33h0m0 29h0m1-48h0m0 10h0m2 28h0m2 4h0m1-29h0m0 11h0m2-20h0m3-13h0m0 35h0m1-14h0m0 8h0m0 18h0m2-31h0m0 31h0m1-37h0m0 18h0m0 26h0m1-21h0m1-36h0m0 61h0m1-44h0m0 3h0m1 35h0m0 0h0m0 7h0m1-4h0m0 3h0m0 6h0m2-7h0m0 2h0m3 0h0m1-17h0m0 18h0m1-10h0m1 4h0m1 2h0m2-4h0m2-36h0m0 30h0m0 2h0m0 2h0m0 10h0m0 1h0m1-4h0m0 4h0m3-14h0m1-39h0m2 5h0m1 40h0m1 6h0m1 3h0m1-61h0m0 54h0m2-36h0m1 47h0m2-12h0m0 4h0m0 1h0m4-47h0m3 0h0m0 39h0m3 0h0m1 1h0m2-1h0m5-61h0m10 67h0m1-2h0" stroke="#2a47b8"/>
<path d="M1061 528h0m27-47h0m13-12h0m7 1h0m0 3h0m2 3h0m2-1h0m1 2h0m0 15h0m3-25h0m0 17h0m1-8h0m2 5h0m1-12h0m1-9h0m3 11h0m1 11h0m3-11h0m3 1h0m0 2h0m0 8h0m1 11h0m1-1h0m0 5h0m1 3h0m2-12h0m1-16h0m0 29h0m1-30h0m2 8h0m0 3h0m1-6h0m1 2h0m0 2h0m2 20h0m1-24h0m0 7h0m0 7h0m0 0h0m0 8h0m2-19h0m1-19h0m1 6h0m0 7h0m1 20h0m3-19h0m1 18h0m1-12h0m1 1h0m1 10h0m4-6h0m2-3h0m2 0h0m2-4h0m0 9h0m2 12h0m1-37h0m0 24h0m0 6h0m1 5h0m1-18h0m1 20h0m1-31h0m0 12h0m0 8h0m1-41h0m0 27h0m0 7h0m2 3h0m0 13h0m3-41h0m0 19h0m3 1h0m0 2h0m1-19h0m0 25h0m1-3h0m1-17h0m0 25h0m2-21h0m5 27h0m1-12h0m0 4h0m0 4h0m1-22h0m0 15h0m4-30h0m2 10h0m2 1h0m1 4h0m5 9h0m5-2h0m2 12h0m0 1h0m3-19h0m1-5h0m6 33h0m3-32h0m9-11h0m2 1h0m2 14h0m5 14h0m1-3h0m6-11h0m8-17h0m3-6h0m3 0h0m1 6h0m3-11h0m2 101h0m2-104h0m0 3h0m1 0h0m2-7h0m3-1h0m2 23h0m1-10h0m1-6h0m1 3h0m0 16h0m3-24h0m1 35h0m3-8h0m0 9h0m1-45h0m0 33h0m0 11h0m1-26h0m2-2h0m0 11h0m0 16h0m1-18h0m0 18h0m1-19h0m2 7h0m0 1h0m0 9h0m0 4h0m1-17h0m0 6h0m1-6h0m1-12h0m0 2h0m3 1h0m0 5h0m2 0h0m0 1h0" stroke="#a24bb5"/>
<path d="M996 439h0m2 34h0m5-25h0m2-2h0m1-5h0m1 15h0m0 12h0m1 3h0m3-28h0m1-4h0m0 17h0m1-10h0m1 15h0m2-24h0m0 15h0m1-6h0m0 5h0m0 10h0m2-15h0m0 13h0m1 0h0m1 0h0m1-1h0m0 25h0m2-34h0m1 25h0m0 17h0m1-36h0m1 18h0m0 11h0m1-28h0m0 2h0m0 12h0m0 10h0m0 3h0m1-3h0m2-32h0m1 25h0m1-19h0m1 6h0m0 7h0m1 22h0m2-47h0m0 33h0m1-7h0m0 13h0m1-7h0m1 18h0m1-30h0m1 35h0m1-30h0m0 30h0m1-35h0m0 5h0m0 6h0m1-24h0m0 12h0m0 6h0m1 6h0m1-16h0m0 2h0m0 4h0m0 1h0m0 8h0m0 17h0m0 0h0m2-2h0m1-22h0m0 4h0m2 21h0m1-63h0m0 41h0m0 2h0m0 0h0m1-4h0m0 23h0m1-18h0m0 4h0m3 6h0m2 0h0m1-18h0m0 6h0m1 21h0m1-15h0m1-12h0m1 6h0m0 5h0m0 42h0m1-47h0m1 0h0m0 14h0m3-2h0m1 2h0m4-15h0m0 2h0m1 0h0m1-1h0m6-4h0m0 7h0m181 33h0" stroke="#f5b3c9"/>
<path d="M1069 491h0m26-60h0m31 54h0m8-12h0m3-3h0m1 23h0m1-21h0m0 20h0m9 5h0m2-8h0m1-24h0m3 28h0m1-36h0m7 11h0m3 18h0m1-18h0m3 30h0m7-41h0m8 33h0m0 17h0m0 23h0m3-62h0m6 33h0m2-48h0m4 4h0m1-8h0m2 7h0m1 33h0m3-21h0m1-1h0m0 19h0m2-39h0m0 21h0m1-1h0m0 26h0m1-43h0m1-6h0m0 1h0m0 6h0m0 10h0m3-6h0m0 18h0m1-15h0m1 14h0m2-11h0m2-21h0m0 30h0m1-15h0m1 13h0m1-1h0m1 10h0m2-47h0m0 3h0m1 3h0m1 28h0m1-6h0m1 6h0m1-26h0m1 3h0m0 6h0m1-10h0m0 1h0m1 7h0m0 22h0m1 1h0m0 7h0m3-39h0m0 31h0m0 1h0m1-32h0m1 30h0m1 13h0m4-18h0m0 6h0m2-3h0m1-23h0m0 8h0m2-5h0m5 9h0m4 14h0m4-17h0m0 9h0m2 1h0m0 9h0m4-1h0m0 4h0m12-19h0m7-8h0m5-8h0m0 1h0m0 20h0m4-22h0m3-4h0m1 13h0m1 1h0m3-16h0m0 20h0m1-15h0m0 35h0m1-82h0m1 40h0m0 13h0m1-9h0m0 13h0m1 18h0m1-29h0m0 14h0m0 4h0m1-30h0m0 15h0m0 32h0m1-26h0m0 3h0m0 4h0m1-12h0m0 9h0m0 5h0m0 15h0m0 2h0m1-33h0m0 2h0m6-10h0m0 22h0m0 3h0m0 7h0m1 14h0m1-22h0m1 18h0m2-43h0m0 22h0m0 3h0m0 1h0m0 15h0m1-29h0m0 1h0m0 18h0m1-18h0m2-11h0m0 35h0m1-32h0m0 8h0m1-17h0m0 37h0m7-23h0m2 36h0m3-28h0m8 18h0m3-25h0m24-28h0" stroke="#8f3fae"/>
<path d="M1051 531h0m2 3h0m1 1h0m2-10h0m4-15h0m1 21h0m1-6h0m1-17h0m2 32h0m1-24h0m1 14h0m2-21h0m0 24h0m1-19h0m0 3h0m0 4h0m0 6h0m1-3h0m0 3h0m0 6h0m0 7h0m0 0h0m1-28h0m0 5h0m0 17h0m1-27h0m0 15h0m0 12h0m3-7h0m1-4h0m0 17h0m2 1h0m1-6h0m1 3h0m1-20h0m0 16h0m0 0h0m2-9h0m0 4h0m1 11h0m1-17h0m2 2h0m1 11h0m1-5h0m0 1h0m1 18h0m1-26h0m2 5h0m1-8h0m0 7h0m0 0h0m0 8h0m1-7h0m0 13h0m1-14h0m0 17h0m7-7h0m1-4h0m3-3h0m2-21h0m2 6h0m1-9h0m4 7h0m0 12h0m1-14h0m0 3h0m1-11h0m0 11h0m1 16h0m1-27h0m1 28h0m1-37h0m2-1h0m0 36h0m1 2h0m1-31h0m0 8h0m0 6h0m0 13h0m1-88h0m0 76h0m1 4h0m0 6h0m3-48h0m1 29h0m1 3h0m1-16h0m0 10h0m1-8h0m0 8h0m1 11h0m3-20h0m2 13h0m0 2h0m2-15h0m1 6h0m1 7h0m1-10h0m1 19h0m2-5h0m4-19h0m1 9h0m3 12h0m0 1h0m2-9h0m1-2h0m1 7h0m0 3h0m1-22h0m0 4h0m1 7h0m0 10h0m0 5h0m1-8h0m1-20h0m1 7h0m0 6h0m1-7h0m0 17h0m0 1h0m0 1h0m2-21h0m0 5h0m0 5h0m1-3h0m1-1h0m0 3h0m1-5h0m2-1h0m0 16h0m2-16h0m0 2h0m4 6h0m5-3h0m2-3h0m4 9h0m0 2h0" stroke="#a52a33"/>
</g></g>
<rect x="494" y="172.6" width="187" height="121.2" fill="none" stroke="#3a3a3a" stroke-width="0.9" rx="0" />
<line x1="494" y1="293.8" x2="494" y2="296.2" stroke="#333" stroke-width="0.8" />
<text x="494" y="301.73" font-size="5.94" text-anchor="middle" fill="#1a1a1a" textLength="8.91" lengthAdjust="spacingAndGlyphs" >0.0</text>
<line x1="491.6" y1="293.8" x2="494" y2="293.8" stroke="#333" stroke-width="0.8" />
<text x="490.6" y="295.93" font-size="5.94" text-anchor="end" fill="#1a1a1a" textLength="8.91" lengthAdjust="spacingAndGlyphs" >0.0</text>
<line x1="531.4" y1="293.8" x2="531.4" y2="296.2" stroke="#333" stroke-width="0.8" />
<text x="531.4" y="301.73" font-size="5.94" text-anchor="middle" fill="#1a1a1a" textLength="8.91" lengthAdjust="spacingAndGlyphs" >0.2</text>
<line x1="491.6" y1="269.56" x2="494" y2="269.56" stroke="#333" stroke-width="0.8" />
<text x="490.6" y="271.69" font-size="5.94" text-anchor="end" fill="#1a1a1a" textLength="8.91" lengthAdjust="spacingAndGlyphs" >0.2</text>
<line x1="568.8" y1="293.8" x2="568.8" y2="296.2" stroke="#333" stroke-width="0.8" />
<text x="568.8" y="301.73" font-size="5.94" text-anchor="middle" fill="#1a1a1a" textLength="8.91" lengthAdjust="spacingAndGlyphs" >0.4</text>
<line x1="491.6" y1="245.32" x2="494" y2="245.32" stroke="#333" stroke-width="0.8" />
<text x="490.6" y="247.45" font-size="5.94" text-anchor="end" fill="#1a1a1a" textLength="8.91" lengthAdjust="spacingAndGlyphs" >0.4</text>
<line x1="606.2" y1="293.8" x2="606.2" y2="296.2" stroke="#333" stroke-width="0.8" />
<text x="606.2" y="301.73" font-size="5.94" text-anchor="middle" fill="#1a1a1a" textLength="8.91" lengthAdjust="spacingAndGlyphs" >0.6</text>
<line x1="491.6" y1="221.08" x2="494" y2="221.08" stroke="#333" stroke-width="0.8" />
<text x="490.6" y="223.21" font-size="5.94" text-anchor="end" fill="#1a1a1a" textLength="8.91" lengthAdjust="spacingAndGlyphs" >0.6</text>
<line x1="643.6" y1="293.8" x2="643.6" y2="296.2" stroke="#333" stroke-width="0.8" />
<text x="643.6" y="301.73" font-size="5.94" text-anchor="middle" fill="#1a1a1a" textLength="8.91" lengthAdjust="spacingAndGlyphs" >0.8</text>
<line x1="491.6" y1="196.84" x2="494" y2="196.84" stroke="#333" stroke-width="0.8" />
<text x="490.6" y="198.97" font-size="5.94" text-anchor="end" fill="#1a1a1a" textLength="8.91" lengthAdjust="spacingAndGlyphs" >0.8</text>
<line x1="681" y1="293.8" x2="681" y2="296.2" stroke="#333" stroke-width="0.8" />
<text x="681" y="301.73" font-size="5.94" text-anchor="middle" fill="#1a1a1a" textLength="8.91" lengthAdjust="spacingAndGlyphs" >1.0</text>
<line x1="491.6" y1="172.6" x2="494" y2="172.6" stroke="#333" stroke-width="0.8" />
<text x="490.6" y="174.73" font-size="5.94" text-anchor="end" fill="#1a1a1a" textLength="8.91" lengthAdjust="spacingAndGlyphs" >1.0</text>
<text x="594.2" y="311.89" font-size="6.39" text-anchor="middle" fill="#1a1a1a" textLength="56.2" lengthAdjust="spacingAndGlyphs" >Main component 1</text>
<text x="476" y="236.59" font-size="6.39" text-anchor="middle" fill="#1a1a1a" textLength="56.2" lengthAdjust="spacingAndGlyphs" transform="rotate(-90 476 234.3)" >Main component 2</text>
<rect x="654.8" y="175.6" width="25.4" height="82.4" fill="#fff" stroke="#d0d0d0" stroke-width="0.7" rx="1.5" fill-opacity="0.8"/>
<circle cx="662.5" cy="180" r="0.6" fill="#e41a1c"/>
<text x="674.3" y="182.13" font-size="5.94" text-anchor="middle" fill="#1a1a1a" textLength="3.56" lengthAdjust="spacingAndGlyphs" >0</text>
<circle cx="662.5" cy="188.2" r="0.6" fill="#f7941d"/>
<text x="674.3" y="190.33" font-size="5.94" text-anchor="middle" fill="#1a1a1a" textLength="3.56" lengthAdjust="spacingAndGlyphs" >1</text>
<circle cx="662.5" cy="196.4" r="0.6" fill="#e3e336"/>
<text x="674.3" y="198.53" font-size="5.94" text-anchor="middle" fill="#1a1a1a" textLength="3.56" lengthAdjust="spacingAndGlyphs" >2</text>
<circle cx="662.5" cy="204.6" r="0.6" fill="#2f9a35"/>
<text x="674.3" y="206.73" font-size="5.94" text-anchor="middle" fill="#1a1a1a" textLength="3.56" lengthAdjust="spacingAndGlyphs" >3</text>
<circle cx="662.5" cy="212.8" r="0.6" fill="#5bc8d6"/>
<text x="674.3" y="214.93" font-size="5.94" text-anchor="middle" fill="#1a1a1a" textLength="3.56" lengthAdjust="spacingAndGlyphs" >4</text>
<circle cx="662.5" cy="221" r="0.6" fill="#2a47b8"/>
<text x="674.3" y="223.13" font-size="5.94" text-anchor="middle" fill="#1a1a1a" textLength="3.56" lengthAdjust="spacingAndGlyphs" >5</text>
<circle cx="662.5" cy="229.2" r="0.6" fill="#a24bb5"/>
<text x="674.3" y="231.33" font-size="5.94" text-anchor="middle" fill="#1a1a1a" textLength="3.56" lengthAdjust="spacingAndGlyphs" >6</text>
<circle cx="662.5" cy="237.4" r="0.6" fill="#f5b3c9"/>
<text x="674.3" y="239.53" font-size="5.94" text-anchor="middle" fill="#1a1a1a" textLength="3.56" lengthAdjust="spacingAndGlyphs" >7</text>
<circle cx="662.5" cy="245.6" r="0.6" fill="#8f3fae"/>
<text x="674.3" y="247.73" font-size="5.94" text-anchor="middle" fill="#1a1a1a" textLength="3.56" lengthAdjust="spacingAndGlyphs" >8</text>
<circle cx="662.5" cy="253.8" r="0.6" fill="#a52a33"/>
<text x="674.3" y="255.93" font-size="5.94" text-anchor="middle" fill="#1a1a1a" textLength="3.56" lengthAdjust="spacingAndGlyphs" >9</text>
</svg></body></html>
